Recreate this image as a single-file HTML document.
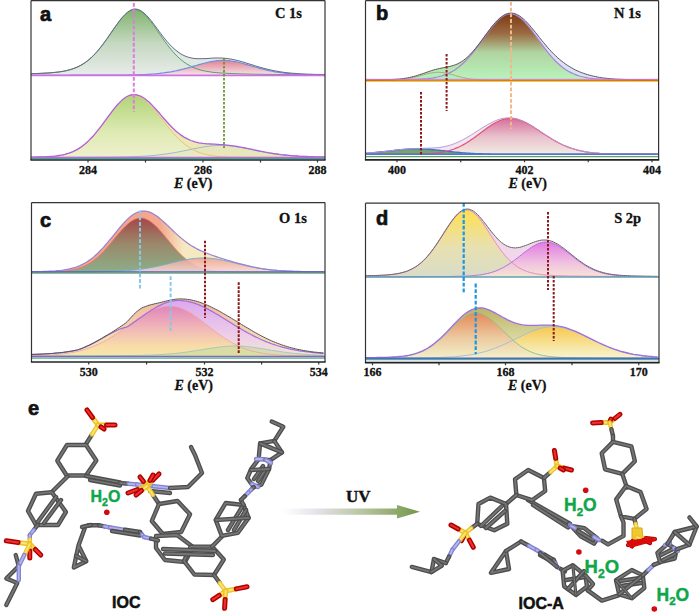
<!DOCTYPE html>
<html><head><meta charset="utf-8"><style>
html,body{margin:0;padding:0;background:#fff;width:700px;height:612px;overflow:hidden}
svg{display:block}
</style></head><body>
<svg width="700" height="612" viewBox="0 0 700 612">
<defs><linearGradient id="g1" x1="0" y1="0" x2="0" y2="1"><stop offset="0" stop-color="#80b46c"/><stop offset="0.5" stop-color="#c4d8c0"/><stop offset="1" stop-color="#e8ecea"/></linearGradient>
<linearGradient id="g2" x1="0" y1="0" x2="0" y2="1"><stop offset="0" stop-color="#e57488"/><stop offset="1" stop-color="#f7e6ec"/></linearGradient>
<linearGradient id="g3" x1="0" y1="0" x2="0" y2="1"><stop offset="0" stop-color="#b0d478"/><stop offset="0.6" stop-color="#dfeab4"/><stop offset="1" stop-color="#eef0cc"/></linearGradient>
<linearGradient id="g4" x1="0" y1="0" x2="0" y2="1"><stop offset="0" stop-color="#7c3a12"/><stop offset="0.3" stop-color="#9a6c44"/><stop offset="0.58" stop-color="#b0d4a0"/><stop offset="1" stop-color="#b8f4bc"/></linearGradient>
<linearGradient id="g5" x1="0" y1="0" x2="0" y2="1"><stop offset="0" stop-color="#d6709a"/><stop offset="0.5" stop-color="#e8c0cc"/><stop offset="1" stop-color="#f2ece2"/></linearGradient>
<linearGradient id="hx6" x1="0" y1="0" x2="1" y2="0"><stop offset="0" stop-color="#f3a08c"/><stop offset="0.44" stop-color="#f4a890"/><stop offset="0.52" stop-color="#f6e8c0"/><stop offset="1" stop-color="#f0f0c8"/></linearGradient>
<linearGradient id="g7" x1="0" y1="0" x2="0" y2="1"><stop offset="0" stop-color="#a44848"/><stop offset="0.5" stop-color="#9a8a6c"/><stop offset="1" stop-color="#8cae88"/></linearGradient>
<linearGradient id="g8" x1="0" y1="0" x2="0" y2="1"><stop offset="0" stop-color="#f2a090"/><stop offset="1" stop-color="#f6dada"/></linearGradient>
<linearGradient id="g9" x1="0" y1="0" x2="0" y2="1"><stop offset="0" stop-color="#f2b8a0"/><stop offset="1" stop-color="#f8e8c0"/></linearGradient>
<linearGradient id="g10" x1="0" y1="0" x2="0" y2="1"><stop offset="0" stop-color="#f6d8a0"/><stop offset="1" stop-color="#f8eab0"/></linearGradient>
<linearGradient id="g11" x1="0" y1="0" x2="0" y2="1"><stop offset="0" stop-color="#dca8ee"/><stop offset="0.6" stop-color="#eccce8"/><stop offset="1" stop-color="#f4e4d8"/></linearGradient>
<linearGradient id="g12" x1="0" y1="0" x2="0" y2="1"><stop offset="0" stop-color="#e286bc"/><stop offset="0.45" stop-color="#f0b8b8"/><stop offset="0.8" stop-color="#f8dca8"/><stop offset="1" stop-color="#f8e6a8"/></linearGradient>
<linearGradient id="g13" x1="0" y1="0" x2="0" y2="1"><stop offset="0" stop-color="#ffe050"/><stop offset="0.55" stop-color="#e8e0b0"/><stop offset="1" stop-color="#d8dcc8"/></linearGradient>
<linearGradient id="g14" x1="0" y1="0" x2="0" y2="1"><stop offset="0" stop-color="#e070e0"/><stop offset="0.6" stop-color="#f0c0e0"/><stop offset="1" stop-color="#f8e6d2"/></linearGradient>
<linearGradient id="g15" x1="0" y1="0" x2="0" y2="1"><stop offset="0" stop-color="#bcb464"/><stop offset="1" stop-color="#eef0c8"/></linearGradient>
<linearGradient id="g16" x1="0" y1="0" x2="0" y2="1"><stop offset="0" stop-color="#f8c850"/><stop offset="1" stop-color="#f6f6d0"/></linearGradient>
<linearGradient id="g17" x1="0" y1="0" x2="0" y2="1"><stop offset="0" stop-color="#e88454"/><stop offset="0.55" stop-color="#eec8a0"/><stop offset="1" stop-color="#f2f0c8"/></linearGradient>
<linearGradient id="arr" x1="0" y1="0" x2="1" y2="0"><stop offset="0" stop-color="#ffffff"/><stop offset="0.25" stop-color="#e6e2ea"/><stop offset="0.6" stop-color="#b4c49c"/><stop offset="1" stop-color="#729646"/></linearGradient></defs>
<path d="M31.0,73.7 33.0,73.6 35.0,73.6 37.0,73.5 39.0,73.4 41.0,73.3 43.0,73.2 45.0,73.1 47.0,73.0 49.0,72.9 51.0,72.7 53.0,72.5 55.0,72.3 57.0,72.1 59.0,71.9 61.0,71.6 63.0,71.2 65.0,70.9 67.0,70.4 69.0,69.9 71.0,69.3 73.0,68.7 75.0,67.9 77.0,67.1 79.0,66.2 81.0,65.1 83.0,63.9 85.0,62.6 87.0,61.1 89.0,59.5 91.0,57.8 93.0,55.8 95.0,53.8 97.0,51.6 99.0,49.2 101.0,46.7 103.0,44.1 105.0,41.4 107.0,38.6 109.0,35.7 111.0,32.8 113.0,29.9 115.0,27.0 117.0,24.2 119.0,21.4 121.0,18.9 123.0,16.5 125.0,14.4 127.0,12.6 129.0,11.1 131.0,10.0 133.0,9.3 135.0,9.0 137.0,9.2 139.0,9.8 141.0,10.8 143.0,12.2 145.0,13.9 147.0,15.9 149.0,18.1 151.0,20.5 153.0,23.1 155.0,25.7 157.0,28.4 159.0,31.2 161.0,33.8 163.0,36.5 165.0,39.0 167.0,41.4 169.0,43.7 171.0,45.8 173.0,47.8 175.0,49.6 177.0,51.2 179.0,52.7 181.0,54.0 183.0,55.1 185.0,56.0 187.0,56.8 189.0,57.4 191.0,57.9 193.0,58.3 195.0,58.5 197.0,58.7 199.0,58.7 201.0,58.7 203.0,58.7 205.0,58.6 207.0,58.5 209.0,58.4 211.0,58.2 213.0,58.1 215.0,58.0 217.0,58.0 219.0,58.0 221.0,58.0 223.0,58.1 225.0,58.3 227.0,58.5 229.0,58.8 231.0,59.1 233.0,59.5 235.0,59.9 237.0,60.4 239.0,60.9 241.0,61.5 243.0,62.0 245.0,62.6 247.0,63.3 249.0,63.9 251.0,64.5 253.0,65.1 255.0,65.8 257.0,66.4 259.0,67.0 261.0,67.5 263.0,68.1 265.0,68.6 267.0,69.1 269.0,69.6 271.0,70.1 273.0,70.5 275.0,70.9 277.0,71.2 279.0,71.6 281.0,71.9 283.0,72.2 285.0,72.5 287.0,72.7 289.0,72.9 291.0,73.1 293.0,73.3 295.0,73.4 297.0,73.6 299.0,73.7 301.0,73.8 303.0,73.9 305.0,74.0 307.0,74.1 309.0,74.2 311.0,74.2 313.0,74.3 315.0,74.4 317.0,74.4 319.0,74.4 321.0,74.5 323.0,74.5 325.0,74.5 325.0,75.4 31.0,75.4 Z" fill="#dde9e2" opacity="1"/>
<path d="M31.0,73.8 33.0,73.7 35.0,73.7 37.0,73.6 39.0,73.5 41.0,73.4 43.0,73.3 45.0,73.2 47.0,73.1 49.0,73.0 51.0,72.8 53.0,72.7 55.0,72.5 57.0,72.3 59.0,72.0 61.0,71.7 63.0,71.4 65.0,71.0 67.0,70.6 69.0,70.1 71.0,69.5 73.0,68.8 75.0,68.1 77.0,67.3 79.0,66.3 81.0,65.3 83.0,64.1 85.0,62.8 87.0,61.3 89.0,59.7 91.0,58.0 93.0,56.1 95.0,54.0 97.0,51.8 99.0,49.5 101.0,47.0 103.0,44.4 105.0,41.7 107.0,38.9 109.0,36.0 111.0,33.1 113.0,30.2 115.0,27.3 117.0,24.5 119.0,21.8 121.0,19.2 123.0,16.9 125.0,14.8 127.0,13.0 129.0,11.5 131.0,10.5 133.0,9.8 135.0,9.6 137.0,9.8 139.0,10.5 141.0,11.5 143.0,13.0 145.0,14.8 147.0,16.9 149.0,19.2 151.0,21.8 153.0,24.5 155.0,27.3 157.0,30.2 159.0,33.1 161.0,36.0 163.0,38.9 165.0,41.7 167.0,44.4 169.0,47.0 171.0,49.5 173.0,51.8 175.0,54.0 177.0,56.1 179.0,58.0 181.0,59.7 183.0,61.3 185.0,62.8 187.0,64.1 189.0,65.3 191.0,66.3 193.0,67.3 195.0,68.1 197.0,68.8 199.0,69.5 201.0,70.1 203.0,70.6 205.0,71.0 207.0,71.4 209.0,71.7 211.0,72.0 213.0,72.3 215.0,72.5 217.0,72.7 219.0,72.8 221.0,73.0 223.0,73.1 225.0,73.2 227.0,73.3 229.0,73.4 231.0,73.5 233.0,73.6 235.0,73.7 237.0,73.7 239.0,73.8 241.0,73.9 243.0,73.9 245.0,74.0 247.0,74.0 249.0,74.1 251.0,74.1 253.0,74.2 255.0,74.2 257.0,74.2 259.0,74.3 261.0,74.3 263.0,74.3 265.0,74.4 267.0,74.4 269.0,74.4 271.0,74.4 273.0,74.5 275.0,74.5 277.0,74.5 279.0,74.5 281.0,74.6 283.0,74.6 285.0,74.6 287.0,74.6 289.0,74.6 291.0,74.7 293.0,74.7 295.0,74.7 297.0,74.7 299.0,74.7 301.0,74.8 303.0,74.8 305.0,74.8 307.0,74.8 309.0,74.8 311.0,74.8 313.0,74.8 315.0,74.8 317.0,74.9 319.0,74.9 321.0,74.9 323.0,74.9 325.0,74.9 325.0,75.4 31.0,75.4 Z" fill="url(#g1)" opacity="1"/>
<path d="M31.0,75.3 33.0,75.3 35.0,75.3 37.0,75.3 39.0,75.3 41.0,75.3 43.0,75.3 45.0,75.3 47.0,75.3 49.0,75.3 51.0,75.3 53.0,75.3 55.0,75.3 57.0,75.3 59.0,75.3 61.0,75.3 63.0,75.3 65.0,75.3 67.0,75.3 69.0,75.3 71.0,75.2 73.0,75.2 75.0,75.2 77.0,75.2 79.0,75.2 81.0,75.2 83.0,75.2 85.0,75.2 87.0,75.2 89.0,75.2 91.0,75.2 93.0,75.2 95.0,75.2 97.0,75.2 99.0,75.2 101.0,75.2 103.0,75.2 105.0,75.1 107.0,75.1 109.0,75.1 111.0,75.1 113.0,75.1 115.0,75.1 117.0,75.1 119.0,75.1 121.0,75.0 123.0,75.0 125.0,75.0 127.0,75.0 129.0,74.9 131.0,74.9 133.0,74.9 135.0,74.8 137.0,74.8 139.0,74.7 141.0,74.6 143.0,74.6 145.0,74.5 147.0,74.4 149.0,74.3 151.0,74.1 153.0,74.0 155.0,73.8 157.0,73.7 159.0,73.5 161.0,73.2 163.0,73.0 165.0,72.7 167.0,72.4 169.0,72.1 171.0,71.8 173.0,71.4 175.0,71.0 177.0,70.6 179.0,70.1 181.0,69.7 183.0,69.2 185.0,68.6 187.0,68.1 189.0,67.5 191.0,67.0 193.0,66.4 195.0,65.8 197.0,65.2 199.0,64.6 201.0,64.1 203.0,63.5 205.0,63.0 207.0,62.5 209.0,62.0 211.0,61.6 213.0,61.3 215.0,61.0 217.0,60.7 219.0,60.5 221.0,60.4 223.0,60.4 225.0,60.4 227.0,60.5 229.0,60.7 231.0,61.0 233.0,61.3 235.0,61.6 237.0,62.0 239.0,62.5 241.0,63.0 243.0,63.5 245.0,64.1 247.0,64.6 249.0,65.2 251.0,65.8 253.0,66.4 255.0,67.0 257.0,67.5 259.0,68.1 261.0,68.6 263.0,69.2 265.0,69.7 267.0,70.1 269.0,70.6 271.0,71.0 273.0,71.4 275.0,71.8 277.0,72.1 279.0,72.4 281.0,72.7 283.0,73.0 285.0,73.2 287.0,73.5 289.0,73.7 291.0,73.8 293.0,74.0 295.0,74.1 297.0,74.3 299.0,74.4 301.0,74.5 303.0,74.6 305.0,74.6 307.0,74.7 309.0,74.8 311.0,74.8 313.0,74.9 315.0,74.9 317.0,74.9 319.0,75.0 321.0,75.0 323.0,75.0 325.0,75.0 325.0,75.4 31.0,75.4 Z" fill="url(#g2)" opacity="0.9"/>
<path d="M31.0,73.8 33.0,73.7 35.0,73.7 37.0,73.6 39.0,73.5 41.0,73.4 43.0,73.3 45.0,73.2 47.0,73.1 49.0,73.0 51.0,72.8 53.0,72.7 55.0,72.5 57.0,72.3 59.0,72.0 61.0,71.7 63.0,71.4 65.0,71.0 67.0,70.6 69.0,70.1 71.0,69.5 73.0,68.8 75.0,68.1 77.0,67.3 79.0,66.3 81.0,65.3 83.0,64.1 85.0,62.8 87.0,61.3 89.0,59.7 91.0,58.0 93.0,56.1 95.0,54.0 97.0,51.8 99.0,49.5 101.0,47.0 103.0,44.4 105.0,41.7 107.0,38.9 109.0,36.0 111.0,33.1 113.0,30.2 115.0,27.3 117.0,24.5 119.0,21.8 121.0,19.2 123.0,16.9 125.0,14.8 127.0,13.0 129.0,11.5 131.0,10.5 133.0,9.8 135.0,9.6 137.0,9.8 139.0,10.5 141.0,11.5 143.0,13.0 145.0,14.8 147.0,16.9 149.0,19.2 151.0,21.8 153.0,24.5 155.0,27.3 157.0,30.2 159.0,33.1 161.0,36.0 163.0,38.9 165.0,41.7 167.0,44.4 169.0,47.0 171.0,49.5 173.0,51.8 175.0,54.0 177.0,56.1 179.0,58.0 181.0,59.7 183.0,61.3 185.0,62.8 187.0,64.1 189.0,65.3 191.0,66.3 193.0,67.3 195.0,68.1 197.0,68.8 199.0,69.5 201.0,70.1 203.0,70.6 205.0,71.0 207.0,71.4 209.0,71.7 211.0,72.0 213.0,72.3 215.0,72.5 217.0,72.7 219.0,72.8 221.0,73.0 223.0,73.1 225.0,73.2 227.0,73.3 229.0,73.4 231.0,73.5 233.0,73.6 235.0,73.7 237.0,73.7 239.0,73.8 241.0,73.9 243.0,73.9 245.0,74.0 247.0,74.0 249.0,74.1 251.0,74.1 253.0,74.2 255.0,74.2 257.0,74.2 259.0,74.3 261.0,74.3 263.0,74.3 265.0,74.4 267.0,74.4 269.0,74.4 271.0,74.4 273.0,74.5 275.0,74.5 277.0,74.5 279.0,74.5 281.0,74.6 283.0,74.6 285.0,74.6 287.0,74.6 289.0,74.6 291.0,74.7 293.0,74.7 295.0,74.7 297.0,74.7 299.0,74.7 301.0,74.8 303.0,74.8 305.0,74.8 307.0,74.8 309.0,74.8 311.0,74.8 313.0,74.8 315.0,74.8 317.0,74.9 319.0,74.9 321.0,74.9 323.0,74.9 325.0,74.9" fill="none" stroke="#5aa070" stroke-width="1" opacity="1"/>
<path d="M31.0,75.3 33.0,75.3 35.0,75.3 37.0,75.3 39.0,75.3 41.0,75.3 43.0,75.3 45.0,75.3 47.0,75.3 49.0,75.3 51.0,75.3 53.0,75.3 55.0,75.3 57.0,75.3 59.0,75.3 61.0,75.3 63.0,75.3 65.0,75.3 67.0,75.3 69.0,75.3 71.0,75.2 73.0,75.2 75.0,75.2 77.0,75.2 79.0,75.2 81.0,75.2 83.0,75.2 85.0,75.2 87.0,75.2 89.0,75.2 91.0,75.2 93.0,75.2 95.0,75.2 97.0,75.2 99.0,75.2 101.0,75.2 103.0,75.2 105.0,75.1 107.0,75.1 109.0,75.1 111.0,75.1 113.0,75.1 115.0,75.1 117.0,75.1 119.0,75.1 121.0,75.0 123.0,75.0 125.0,75.0 127.0,75.0 129.0,74.9 131.0,74.9 133.0,74.9 135.0,74.8 137.0,74.8 139.0,74.7 141.0,74.6 143.0,74.6 145.0,74.5 147.0,74.4 149.0,74.3 151.0,74.1 153.0,74.0 155.0,73.8 157.0,73.7 159.0,73.5 161.0,73.2 163.0,73.0 165.0,72.7 167.0,72.4 169.0,72.1 171.0,71.8 173.0,71.4 175.0,71.0 177.0,70.6 179.0,70.1 181.0,69.7 183.0,69.2 185.0,68.6 187.0,68.1 189.0,67.5 191.0,67.0 193.0,66.4 195.0,65.8 197.0,65.2 199.0,64.6 201.0,64.1 203.0,63.5 205.0,63.0 207.0,62.5 209.0,62.0 211.0,61.6 213.0,61.3 215.0,61.0 217.0,60.7 219.0,60.5 221.0,60.4 223.0,60.4 225.0,60.4 227.0,60.5 229.0,60.7 231.0,61.0 233.0,61.3 235.0,61.6 237.0,62.0 239.0,62.5 241.0,63.0 243.0,63.5 245.0,64.1 247.0,64.6 249.0,65.2 251.0,65.8 253.0,66.4 255.0,67.0 257.0,67.5 259.0,68.1 261.0,68.6 263.0,69.2 265.0,69.7 267.0,70.1 269.0,70.6 271.0,71.0 273.0,71.4 275.0,71.8 277.0,72.1 279.0,72.4 281.0,72.7 283.0,73.0 285.0,73.2 287.0,73.5 289.0,73.7 291.0,73.8 293.0,74.0 295.0,74.1 297.0,74.3 299.0,74.4 301.0,74.5 303.0,74.6 305.0,74.6 307.0,74.7 309.0,74.8 311.0,74.8 313.0,74.9 315.0,74.9 317.0,74.9 319.0,75.0 321.0,75.0 323.0,75.0 325.0,75.0" fill="none" stroke="#6f8fe0" stroke-width="1.2" opacity="1"/>
<path d="M31.0,73.7 33.0,73.6 35.0,73.6 37.0,73.5 39.0,73.4 41.0,73.3 43.0,73.2 45.0,73.1 47.0,73.0 49.0,72.9 51.0,72.7 53.0,72.5 55.0,72.3 57.0,72.1 59.0,71.9 61.0,71.6 63.0,71.2 65.0,70.9 67.0,70.4 69.0,69.9 71.0,69.3 73.0,68.7 75.0,67.9 77.0,67.1 79.0,66.2 81.0,65.1 83.0,63.9 85.0,62.6 87.0,61.1 89.0,59.5 91.0,57.8 93.0,55.8 95.0,53.8 97.0,51.6 99.0,49.2 101.0,46.7 103.0,44.1 105.0,41.4 107.0,38.6 109.0,35.7 111.0,32.8 113.0,29.9 115.0,27.0 117.0,24.2 119.0,21.4 121.0,18.9 123.0,16.5 125.0,14.4 127.0,12.6 129.0,11.1 131.0,10.0 133.0,9.3 135.0,9.0 137.0,9.2 139.0,9.8 141.0,10.8 143.0,12.2 145.0,13.9 147.0,15.9 149.0,18.1 151.0,20.5 153.0,23.1 155.0,25.7 157.0,28.4 159.0,31.2 161.0,33.8 163.0,36.5 165.0,39.0 167.0,41.4 169.0,43.7 171.0,45.8 173.0,47.8 175.0,49.6 177.0,51.2 179.0,52.7 181.0,54.0 183.0,55.1 185.0,56.0 187.0,56.8 189.0,57.4 191.0,57.9 193.0,58.3 195.0,58.5 197.0,58.7 199.0,58.7 201.0,58.7 203.0,58.7 205.0,58.6 207.0,58.5 209.0,58.4 211.0,58.2 213.0,58.1 215.0,58.0 217.0,58.0 219.0,58.0 221.0,58.0 223.0,58.1 225.0,58.3 227.0,58.5 229.0,58.8 231.0,59.1 233.0,59.5 235.0,59.9 237.0,60.4 239.0,60.9 241.0,61.5 243.0,62.0 245.0,62.6 247.0,63.3 249.0,63.9 251.0,64.5 253.0,65.1 255.0,65.8 257.0,66.4 259.0,67.0 261.0,67.5 263.0,68.1 265.0,68.6 267.0,69.1 269.0,69.6 271.0,70.1 273.0,70.5 275.0,70.9 277.0,71.2 279.0,71.6 281.0,71.9 283.0,72.2 285.0,72.5 287.0,72.7 289.0,72.9 291.0,73.1 293.0,73.3 295.0,73.4 297.0,73.6 299.0,73.7 301.0,73.8 303.0,73.9 305.0,74.0 307.0,74.1 309.0,74.2 311.0,74.2 313.0,74.3 315.0,74.4 317.0,74.4 319.0,74.4 321.0,74.5 323.0,74.5 325.0,74.5" fill="none" stroke="#6a6a8a" stroke-width="1" opacity="1"/>
<line x1="31" y1="75.4" x2="325" y2="75.4" stroke="#d070e0" stroke-width="1.6" stroke-linecap="butt"/>
<path d="M31.0,157.1 33.0,157.1 35.0,157.1 37.0,157.0 39.0,157.0 41.0,156.9 43.0,156.9 45.0,156.8 47.0,156.7 49.0,156.6 51.0,156.4 53.0,156.3 55.0,156.1 57.0,155.8 59.0,155.5 61.0,155.2 63.0,154.8 65.0,154.3 67.0,153.7 69.0,153.1 71.0,152.4 73.0,151.6 75.0,150.6 77.0,149.6 79.0,148.4 81.0,147.1 83.0,145.6 85.0,144.0 87.0,142.2 89.0,140.4 91.0,138.3 93.0,136.2 95.0,133.9 97.0,131.4 99.0,128.9 101.0,126.3 103.0,123.6 105.0,120.9 107.0,118.2 109.0,115.4 111.0,112.8 113.0,110.1 115.0,107.6 117.0,105.3 119.0,103.1 121.0,101.1 123.0,99.3 125.0,97.8 127.0,96.5 129.0,95.6 131.0,95.0 133.0,94.7 135.0,94.7 137.0,95.0 139.0,95.5 141.0,96.4 143.0,97.5 145.0,98.8 147.0,100.4 149.0,102.1 151.0,104.0 153.0,106.1 155.0,108.2 157.0,110.5 159.0,112.8 161.0,115.1 163.0,117.5 165.0,119.8 167.0,122.0 169.0,124.2 171.0,126.3 173.0,128.3 175.0,130.2 177.0,132.0 179.0,133.6 181.0,135.1 183.0,136.4 185.0,137.7 187.0,138.7 189.0,139.7 191.0,140.5 193.0,141.2 195.0,141.8 197.0,142.3 199.0,142.8 201.0,143.1 203.0,143.4 205.0,143.6 207.0,143.8 209.0,143.9 211.0,144.0 213.0,144.1 215.0,144.2 217.0,144.3 219.0,144.5 221.0,144.6 223.0,144.7 225.0,144.9 227.0,145.1 229.0,145.3 231.0,145.6 233.0,145.9 235.0,146.2 237.0,146.5 239.0,146.9 241.0,147.2 243.0,147.6 245.0,148.0 247.0,148.4 249.0,148.8 251.0,149.2 253.0,149.7 255.0,150.1 257.0,150.5 259.0,150.9 261.0,151.3 263.0,151.7 265.0,152.1 267.0,152.4 269.0,152.8 271.0,153.1 273.0,153.5 275.0,153.8 277.0,154.0 279.0,154.3 281.0,154.6 283.0,154.8 285.0,155.0 287.0,155.2 289.0,155.4 291.0,155.6 293.0,155.8 295.0,155.9 297.0,156.0 299.0,156.2 301.0,156.3 303.0,156.4 305.0,156.5 307.0,156.5 309.0,156.6 311.0,156.7 313.0,156.7 315.0,156.8 317.0,156.8 319.0,156.9 321.0,156.9 323.0,156.9 325.0,157.0 325.0,157.4 31.0,157.4 Z" fill="#ece8b4" opacity="1"/>
<path d="M31.0,157.2 33.0,157.2 35.0,157.2 37.0,157.1 39.0,157.1 41.0,157.1 43.0,157.0 45.0,156.9 47.0,156.8 49.0,156.7 51.0,156.6 53.0,156.4 55.0,156.2 57.0,155.9 59.0,155.7 61.0,155.3 63.0,154.9 65.0,154.4 67.0,153.9 69.0,153.3 71.0,152.5 73.0,151.7 75.0,150.8 77.0,149.7 79.0,148.5 81.0,147.2 83.0,145.8 85.0,144.2 87.0,142.4 89.0,140.6 91.0,138.5 93.0,136.4 95.0,134.1 97.0,131.7 99.0,129.2 101.0,126.6 103.0,123.9 105.0,121.2 107.0,118.5 109.0,115.8 111.0,113.1 113.0,110.5 115.0,108.0 117.0,105.7 119.0,103.5 121.0,101.5 123.0,99.8 125.0,98.3 127.0,97.1 129.0,96.2 131.0,95.7 133.0,95.4 135.0,95.5 137.0,95.9 139.0,96.5 141.0,97.5 143.0,98.7 145.0,100.1 147.0,101.8 149.0,103.7 151.0,105.8 153.0,108.0 155.0,110.4 157.0,112.8 159.0,115.3 161.0,117.9 163.0,120.5 165.0,123.0 167.0,125.6 169.0,128.1 171.0,130.5 173.0,132.8 175.0,135.1 177.0,137.2 179.0,139.2 181.0,141.1 183.0,142.8 185.0,144.5 187.0,146.0 189.0,147.3 191.0,148.6 193.0,149.7 195.0,150.7 197.0,151.6 199.0,152.4 201.0,153.1 203.0,153.7 205.0,154.3 207.0,154.7 209.0,155.1 211.0,155.5 213.0,155.8 215.0,156.0 217.0,156.3 219.0,156.4 221.0,156.6 223.0,156.7 225.0,156.8 227.0,156.9 229.0,157.0 231.0,157.1 233.0,157.1 235.0,157.1 237.0,157.2 239.0,157.2 241.0,157.2 243.0,157.2 245.0,157.3 247.0,157.3 249.0,157.3 251.0,157.3 253.0,157.3 255.0,157.3 257.0,157.3 259.0,157.3 261.0,157.3 263.0,157.3 265.0,157.3 267.0,157.3 269.0,157.3 271.0,157.3 273.0,157.3 275.0,157.3 277.0,157.3 279.0,157.3 281.0,157.3 283.0,157.3 285.0,157.3 287.0,157.3 289.0,157.3 291.0,157.3 293.0,157.3 295.0,157.3 297.0,157.3 299.0,157.3 301.0,157.4 303.0,157.4 305.0,157.4 307.0,157.4 309.0,157.4 311.0,157.4 313.0,157.4 315.0,157.4 317.0,157.4 319.0,157.4 321.0,157.4 323.0,157.4 325.0,157.4 325.0,157.4 31.0,157.4 Z" fill="url(#g3)" opacity="1"/>
<path d="M31.0,157.3 33.0,157.3 35.0,157.3 37.0,157.3 39.0,157.3 41.0,157.3 43.0,157.3 45.0,157.3 47.0,157.3 49.0,157.3 51.0,157.3 53.0,157.3 55.0,157.3 57.0,157.3 59.0,157.3 61.0,157.3 63.0,157.3 65.0,157.3 67.0,157.2 69.0,157.2 71.0,157.2 73.0,157.2 75.0,157.2 77.0,157.2 79.0,157.2 81.0,157.2 83.0,157.2 85.0,157.2 87.0,157.2 89.0,157.2 91.0,157.2 93.0,157.2 95.0,157.2 97.0,157.2 99.0,157.2 101.0,157.1 103.0,157.1 105.0,157.1 107.0,157.1 109.0,157.1 111.0,157.1 113.0,157.0 115.0,157.0 117.0,157.0 119.0,157.0 121.0,156.9 123.0,156.9 125.0,156.9 127.0,156.8 129.0,156.8 131.0,156.7 133.0,156.7 135.0,156.6 137.0,156.5 139.0,156.4 141.0,156.3 143.0,156.2 145.0,156.1 147.0,156.0 149.0,155.8 151.0,155.7 153.0,155.5 155.0,155.3 157.0,155.1 159.0,154.9 161.0,154.6 163.0,154.4 165.0,154.1 167.0,153.8 169.0,153.5 171.0,153.2 173.0,152.9 175.0,152.5 177.0,152.2 179.0,151.8 181.0,151.4 183.0,151.0 185.0,150.6 187.0,150.2 189.0,149.8 191.0,149.4 193.0,148.9 195.0,148.5 197.0,148.2 199.0,147.8 201.0,147.4 203.0,147.1 205.0,146.7 207.0,146.4 209.0,146.2 211.0,145.9 213.0,145.8 215.0,145.6 217.0,145.5 219.0,145.4 221.0,145.4 223.0,145.4 225.0,145.5 227.0,145.6 229.0,145.8 231.0,145.9 233.0,146.2 235.0,146.4 237.0,146.7 239.0,147.1 241.0,147.4 243.0,147.8 245.0,148.2 247.0,148.5 249.0,148.9 251.0,149.4 253.0,149.8 255.0,150.2 257.0,150.6 259.0,151.0 261.0,151.4 263.0,151.8 265.0,152.2 267.0,152.5 269.0,152.9 271.0,153.2 273.0,153.5 275.0,153.8 277.0,154.1 279.0,154.4 281.0,154.6 283.0,154.9 285.0,155.1 287.0,155.3 289.0,155.5 291.0,155.7 293.0,155.8 295.0,156.0 297.0,156.1 299.0,156.2 301.0,156.3 303.0,156.4 305.0,156.5 307.0,156.6 309.0,156.7 311.0,156.7 313.0,156.8 315.0,156.8 317.0,156.9 319.0,156.9 321.0,156.9 323.0,157.0 325.0,157.0 325.0,157.4 31.0,157.4 Z" fill="#e4e6c0" opacity="0.6"/>
<path d="M31.0,157.3 33.0,157.3 35.0,157.3 37.0,157.3 39.0,157.3 41.0,157.3 43.0,157.3 45.0,157.3 47.0,157.3 49.0,157.3 51.0,157.3 53.0,157.3 55.0,157.3 57.0,157.3 59.0,157.3 61.0,157.3 63.0,157.3 65.0,157.3 67.0,157.2 69.0,157.2 71.0,157.2 73.0,157.2 75.0,157.2 77.0,157.2 79.0,157.2 81.0,157.2 83.0,157.2 85.0,157.2 87.0,157.2 89.0,157.2 91.0,157.2 93.0,157.2 95.0,157.2 97.0,157.2 99.0,157.2 101.0,157.1 103.0,157.1 105.0,157.1 107.0,157.1 109.0,157.1 111.0,157.1 113.0,157.0 115.0,157.0 117.0,157.0 119.0,157.0 121.0,156.9 123.0,156.9 125.0,156.9 127.0,156.8 129.0,156.8 131.0,156.7 133.0,156.7 135.0,156.6 137.0,156.5 139.0,156.4 141.0,156.3 143.0,156.2 145.0,156.1 147.0,156.0 149.0,155.8 151.0,155.7 153.0,155.5 155.0,155.3 157.0,155.1 159.0,154.9 161.0,154.6 163.0,154.4 165.0,154.1 167.0,153.8 169.0,153.5 171.0,153.2 173.0,152.9 175.0,152.5 177.0,152.2 179.0,151.8 181.0,151.4 183.0,151.0 185.0,150.6 187.0,150.2 189.0,149.8 191.0,149.4 193.0,148.9 195.0,148.5 197.0,148.2 199.0,147.8 201.0,147.4 203.0,147.1 205.0,146.7 207.0,146.4 209.0,146.2 211.0,145.9 213.0,145.8 215.0,145.6 217.0,145.5 219.0,145.4 221.0,145.4 223.0,145.4 225.0,145.5 227.0,145.6 229.0,145.8 231.0,145.9 233.0,146.2 235.0,146.4 237.0,146.7 239.0,147.1 241.0,147.4 243.0,147.8 245.0,148.2 247.0,148.5 249.0,148.9 251.0,149.4 253.0,149.8 255.0,150.2 257.0,150.6 259.0,151.0 261.0,151.4 263.0,151.8 265.0,152.2 267.0,152.5 269.0,152.9 271.0,153.2 273.0,153.5 275.0,153.8 277.0,154.1 279.0,154.4 281.0,154.6 283.0,154.9 285.0,155.1 287.0,155.3 289.0,155.5 291.0,155.7 293.0,155.8 295.0,156.0 297.0,156.1 299.0,156.2 301.0,156.3 303.0,156.4 305.0,156.5 307.0,156.6 309.0,156.7 311.0,156.7 313.0,156.8 315.0,156.8 317.0,156.9 319.0,156.9 321.0,156.9 323.0,157.0 325.0,157.0" fill="none" stroke="#a0b8d8" stroke-width="1" opacity="1"/>
<path d="M31.0,157.2 33.0,157.2 35.0,157.2 37.0,157.1 39.0,157.1 41.0,157.1 43.0,157.0 45.0,156.9 47.0,156.8 49.0,156.7 51.0,156.6 53.0,156.4 55.0,156.2 57.0,155.9 59.0,155.7 61.0,155.3 63.0,154.9 65.0,154.4 67.0,153.9 69.0,153.3 71.0,152.5 73.0,151.7 75.0,150.8 77.0,149.7 79.0,148.5 81.0,147.2 83.0,145.8 85.0,144.2 87.0,142.4 89.0,140.6 91.0,138.5 93.0,136.4 95.0,134.1 97.0,131.7 99.0,129.2 101.0,126.6 103.0,123.9 105.0,121.2 107.0,118.5 109.0,115.8 111.0,113.1 113.0,110.5 115.0,108.0 117.0,105.7 119.0,103.5 121.0,101.5 123.0,99.8 125.0,98.3 127.0,97.1 129.0,96.2 131.0,95.7 133.0,95.4 135.0,95.5 137.0,95.9 139.0,96.5 141.0,97.5 143.0,98.7 145.0,100.1 147.0,101.8 149.0,103.7 151.0,105.8 153.0,108.0 155.0,110.4 157.0,112.8 159.0,115.3 161.0,117.9 163.0,120.5 165.0,123.0 167.0,125.6 169.0,128.1 171.0,130.5 173.0,132.8 175.0,135.1 177.0,137.2 179.0,139.2 181.0,141.1 183.0,142.8 185.0,144.5 187.0,146.0 189.0,147.3 191.0,148.6 193.0,149.7 195.0,150.7 197.0,151.6 199.0,152.4 201.0,153.1 203.0,153.7 205.0,154.3 207.0,154.7 209.0,155.1 211.0,155.5 213.0,155.8 215.0,156.0 217.0,156.3 219.0,156.4 221.0,156.6 223.0,156.7 225.0,156.8 227.0,156.9 229.0,157.0 231.0,157.1 233.0,157.1 235.0,157.1 237.0,157.2 239.0,157.2 241.0,157.2 243.0,157.2 245.0,157.3 247.0,157.3 249.0,157.3 251.0,157.3 253.0,157.3 255.0,157.3 257.0,157.3 259.0,157.3 261.0,157.3 263.0,157.3 265.0,157.3 267.0,157.3 269.0,157.3 271.0,157.3 273.0,157.3 275.0,157.3 277.0,157.3 279.0,157.3 281.0,157.3 283.0,157.3 285.0,157.3 287.0,157.3 289.0,157.3 291.0,157.3 293.0,157.3 295.0,157.3 297.0,157.3 299.0,157.3 301.0,157.4 303.0,157.4 305.0,157.4 307.0,157.4 309.0,157.4 311.0,157.4 313.0,157.4 315.0,157.4 317.0,157.4 319.0,157.4 321.0,157.4 323.0,157.4 325.0,157.4" fill="none" stroke="#f0c080" stroke-width="1" opacity="1"/>
<path d="M31.0,157.1 33.0,157.1 35.0,157.1 37.0,157.0 39.0,157.0 41.0,156.9 43.0,156.9 45.0,156.8 47.0,156.7 49.0,156.6 51.0,156.4 53.0,156.3 55.0,156.1 57.0,155.8 59.0,155.5 61.0,155.2 63.0,154.8 65.0,154.3 67.0,153.7 69.0,153.1 71.0,152.4 73.0,151.6 75.0,150.6 77.0,149.6 79.0,148.4 81.0,147.1 83.0,145.6 85.0,144.0 87.0,142.2 89.0,140.4 91.0,138.3 93.0,136.2 95.0,133.9 97.0,131.4 99.0,128.9 101.0,126.3 103.0,123.6 105.0,120.9 107.0,118.2 109.0,115.4 111.0,112.8 113.0,110.1 115.0,107.6 117.0,105.3 119.0,103.1 121.0,101.1 123.0,99.3 125.0,97.8 127.0,96.5 129.0,95.6 131.0,95.0 133.0,94.7 135.0,94.7 137.0,95.0 139.0,95.5 141.0,96.4 143.0,97.5 145.0,98.8 147.0,100.4 149.0,102.1 151.0,104.0 153.0,106.1 155.0,108.2 157.0,110.5 159.0,112.8 161.0,115.1 163.0,117.5 165.0,119.8 167.0,122.0 169.0,124.2 171.0,126.3 173.0,128.3 175.0,130.2 177.0,132.0 179.0,133.6 181.0,135.1 183.0,136.4 185.0,137.7 187.0,138.7 189.0,139.7 191.0,140.5 193.0,141.2 195.0,141.8 197.0,142.3 199.0,142.8 201.0,143.1 203.0,143.4 205.0,143.6 207.0,143.8 209.0,143.9 211.0,144.0 213.0,144.1 215.0,144.2 217.0,144.3 219.0,144.5 221.0,144.6 223.0,144.7 225.0,144.9 227.0,145.1 229.0,145.3 231.0,145.6 233.0,145.9 235.0,146.2 237.0,146.5 239.0,146.9 241.0,147.2 243.0,147.6 245.0,148.0 247.0,148.4 249.0,148.8 251.0,149.2 253.0,149.7 255.0,150.1 257.0,150.5 259.0,150.9 261.0,151.3 263.0,151.7 265.0,152.1 267.0,152.4 269.0,152.8 271.0,153.1 273.0,153.5 275.0,153.8 277.0,154.0 279.0,154.3 281.0,154.6 283.0,154.8 285.0,155.0 287.0,155.2 289.0,155.4 291.0,155.6 293.0,155.8 295.0,155.9 297.0,156.0 299.0,156.2 301.0,156.3 303.0,156.4 305.0,156.5 307.0,156.5 309.0,156.6 311.0,156.7 313.0,156.7 315.0,156.8 317.0,156.8 319.0,156.9 321.0,156.9 323.0,156.9 325.0,157.0" fill="none" stroke="#b060d8" stroke-width="1.3" opacity="1"/>
<line x1="31" y1="157.4" x2="325" y2="157.4" stroke="#b070d8" stroke-width="1.2" stroke-linecap="butt"/>
<line x1="31" y1="158.6" x2="325" y2="158.6" stroke="#4aa0a0" stroke-width="1.1" stroke-linecap="butt"/>
<line x1="133.8" y1="2.9" x2="133.8" y2="112" stroke="#e07ae0" stroke-width="2" stroke-dasharray="3.8,1.9" stroke-linecap="butt"/>
<line x1="224" y1="58" x2="224" y2="148" stroke="#6a9030" stroke-width="1.7" stroke-dasharray="2.5,1.5" stroke-linecap="butt"/>
<line x1="31" y1="0.6" x2="325" y2="0.6" stroke="#333" stroke-width="1.2" stroke-linecap="butt"/>
<line x1="31" y1="0.6" x2="31" y2="160" stroke="#333" stroke-width="1.2" stroke-linecap="butt"/>
<line x1="325" y1="0.6" x2="325" y2="160" stroke="#333" stroke-width="1.2" stroke-linecap="butt"/>
<line x1="30.4" y1="160" x2="325.6" y2="160" stroke="#222" stroke-width="1.7" stroke-linecap="butt"/>
<line x1="88" y1="160" x2="88" y2="162.5" stroke="#333" stroke-width="1.2" stroke-linecap="butt"/>
<line x1="203" y1="160" x2="203" y2="162.5" stroke="#333" stroke-width="1.2" stroke-linecap="butt"/>
<line x1="317.5" y1="160" x2="317.5" y2="162.5" stroke="#333" stroke-width="1.2" stroke-linecap="butt"/>
<line x1="145.5" y1="160" x2="145.5" y2="162.5" stroke="#333" stroke-width="1.2" stroke-linecap="butt"/>
<line x1="260.5" y1="160" x2="260.5" y2="162.5" stroke="#333" stroke-width="1.2" stroke-linecap="butt"/>
<text x="88" y="173.8" font-family="Liberation Serif" font-size="12" font-weight="bold" text-anchor="middle" fill="#111" font-style="normal" stroke="#111" stroke-width="0.3">284</text>
<text x="203" y="173.8" font-family="Liberation Serif" font-size="12" font-weight="bold" text-anchor="middle" fill="#111" font-style="normal" stroke="#111" stroke-width="0.3">286</text>
<text x="317.5" y="173.8" font-family="Liberation Serif" font-size="12" font-weight="bold" text-anchor="middle" fill="#111" font-style="normal" stroke="#111" stroke-width="0.3">288</text>
<text x="174" y="187.5" font-family="Liberation Serif" font-size="14" font-weight="bold" fill="#111" stroke="#111" stroke-width="0.3"><tspan font-style="italic">E</tspan> (eV)</text>
<text x="40" y="21" font-family="Liberation Sans" font-size="20" font-weight="bold" text-anchor="start" fill="#111" font-style="normal" stroke="#111" stroke-width="0.7">a</text>
<text x="302" y="18.2" font-family="Liberation Serif" font-size="14.5" font-weight="bold" text-anchor="end" fill="#111" font-style="normal" stroke="#111" stroke-width="0.3">C 1s</text>
<path d="M365.5,79.9 367.5,79.9 369.5,79.9 371.5,79.9 373.5,79.8 375.5,79.8 377.5,79.8 379.5,79.8 381.5,79.7 383.5,79.7 385.5,79.7 387.5,79.6 389.5,79.6 391.5,79.5 393.5,79.4 395.5,79.3 397.5,79.1 399.5,79.0 401.5,78.8 403.5,78.5 405.5,78.2 407.5,77.9 409.5,77.5 411.5,77.0 413.5,76.5 415.5,76.0 417.5,75.4 419.5,74.7 421.5,74.1 423.5,73.4 425.5,72.7 427.5,72.0 429.5,71.3 431.5,70.6 433.5,70.0 435.5,69.5 437.5,69.0 439.5,68.5 441.5,68.1 443.5,67.7 445.5,67.4 447.5,67.0 449.5,66.5 451.5,66.0 453.5,65.4 455.5,64.7 457.5,63.9 459.5,62.8 461.5,61.7 463.5,60.3 465.5,58.7 467.5,57.0 469.5,55.1 471.5,53.0 473.5,50.8 475.5,48.4 477.5,45.9 479.5,43.3 481.5,40.6 483.5,37.9 485.5,35.1 487.5,32.4 489.5,29.8 491.5,27.2 493.5,24.7 495.5,22.4 497.5,20.3 499.5,18.4 501.5,16.8 503.5,15.4 505.5,14.3 507.5,13.6 509.5,13.2 511.5,13.1 513.5,13.3 515.5,13.9 517.5,14.8 519.5,15.9 521.5,17.4 523.5,19.0 525.5,20.9 527.5,23.0 529.5,25.2 531.5,27.6 533.5,30.0 535.5,32.5 537.5,35.0 539.5,37.6 541.5,40.1 543.5,42.5 545.5,44.9 547.5,47.3 549.5,49.5 551.5,51.7 553.5,53.8 555.5,55.7 557.5,57.6 559.5,59.3 561.5,61.0 563.5,62.5 565.5,64.0 567.5,65.4 569.5,66.6 571.5,67.8 573.5,68.9 575.5,70.0 577.5,70.9 579.5,71.8 581.5,72.6 583.5,73.3 585.5,74.0 587.5,74.6 589.5,75.2 591.5,75.7 593.5,76.2 595.5,76.6 597.5,77.0 599.5,77.4 601.5,77.7 603.5,78.0 605.5,78.2 607.5,78.4 609.5,78.6 611.5,78.8 613.5,78.9 615.5,79.1 617.5,79.2 619.5,79.3 621.5,79.3 623.5,79.4 625.5,79.5 627.5,79.5 629.5,79.6 631.5,79.6 633.5,79.7 635.5,79.7 637.5,79.7 639.5,79.8 641.5,79.8 643.5,79.8 645.5,79.8 647.5,79.8 649.5,79.8 651.5,79.9 653.5,79.9 655.5,79.9 657.5,79.9 657.5,80.3 365.5,80.3 Z" fill="#d8e4f6" opacity="1"/>
<path d="M365.5,79.9 367.5,79.9 369.5,79.9 371.5,79.9 373.5,79.9 375.5,79.8 377.5,79.8 379.5,79.8 381.5,79.8 383.5,79.7 385.5,79.7 387.5,79.6 389.5,79.6 391.5,79.5 393.5,79.4 395.5,79.3 397.5,79.2 399.5,79.0 401.5,78.8 403.5,78.5 405.5,78.3 407.5,77.9 409.5,77.5 411.5,77.1 413.5,76.6 415.5,76.0 417.5,75.4 419.5,74.8 421.5,74.1 423.5,73.4 425.5,72.7 427.5,72.0 429.5,71.3 431.5,70.7 433.5,70.1 435.5,69.5 437.5,69.0 439.5,68.6 441.5,68.2 443.5,67.8 445.5,67.4 447.5,67.0 449.5,66.6 451.5,66.1 453.5,65.5 455.5,64.8 457.5,63.9 459.5,62.9 461.5,61.7 463.5,60.4 465.5,58.8 467.5,57.1 469.5,55.2 471.5,53.1 473.5,50.9 475.5,48.5 477.5,46.0 479.5,43.4 481.5,40.7 483.5,38.0 485.5,35.3 487.5,32.6 489.5,29.9 491.5,27.4 493.5,24.9 495.5,22.7 497.5,20.6 499.5,18.7 501.5,17.1 503.5,15.8 505.5,14.8 507.5,14.1 509.5,13.8 511.5,13.8 513.5,14.1 515.5,14.8 517.5,15.8 519.5,17.2 521.5,18.8 523.5,20.6 525.5,22.7 527.5,25.0 529.5,27.5 531.5,30.1 533.5,32.7 535.5,35.5 537.5,38.3 539.5,41.1 541.5,43.9 543.5,46.6 545.5,49.3 547.5,51.8 549.5,54.3 551.5,56.7 553.5,58.9 555.5,61.0 557.5,63.0 559.5,64.8 561.5,66.5 563.5,68.0 565.5,69.4 567.5,70.7 569.5,71.9 571.5,72.9 573.5,73.8 575.5,74.6 577.5,75.3 579.5,76.0 581.5,76.5 583.5,77.0 585.5,77.4 587.5,77.8 589.5,78.1 591.5,78.3 593.5,78.6 595.5,78.7 597.5,78.9 599.5,79.0 601.5,79.2 603.5,79.3 605.5,79.3 607.5,79.4 609.5,79.5 611.5,79.5 613.5,79.6 615.5,79.6 617.5,79.7 619.5,79.7 621.5,79.7 623.5,79.7 625.5,79.8 627.5,79.8 629.5,79.8 631.5,79.8 633.5,79.8 635.5,79.8 637.5,79.9 639.5,79.9 641.5,79.9 643.5,79.9 645.5,79.9 647.5,79.9 649.5,79.9 651.5,79.9 653.5,80.0 655.5,80.0 657.5,80.0 657.5,80.3 365.5,80.3 Z" fill="url(#g4)" opacity="1"/>
<path d="M365.5,80.2 367.5,80.2 369.5,80.2 371.5,80.2 373.5,80.2 375.5,80.2 377.5,80.2 379.5,80.2 381.5,80.2 383.5,80.2 385.5,80.1 387.5,80.1 389.5,80.1 391.5,80.0 393.5,79.9 395.5,79.8 397.5,79.7 399.5,79.6 401.5,79.4 403.5,79.2 405.5,78.9 407.5,78.6 409.5,78.3 411.5,77.9 413.5,77.4 415.5,76.9 417.5,76.4 419.5,75.9 421.5,75.3 423.5,74.8 425.5,74.2 427.5,73.7 429.5,73.3 431.5,72.9 433.5,72.6 435.5,72.4 437.5,72.3 439.5,72.3 441.5,72.5 443.5,72.7 445.5,73.1 447.5,73.5 449.5,74.0 451.5,74.5 453.5,75.0 455.5,75.6 457.5,76.2 459.5,76.7 461.5,77.2 463.5,77.7 465.5,78.1 467.5,78.5 469.5,78.8 471.5,79.1 473.5,79.3 475.5,79.5 477.5,79.7 479.5,79.8 481.5,79.9 483.5,80.0 485.5,80.0 487.5,80.1 489.5,80.1 491.5,80.2 493.5,80.2 495.5,80.2 497.5,80.2 499.5,80.2 501.5,80.2 503.5,80.2 505.5,80.2 507.5,80.2 509.5,80.2 511.5,80.2 513.5,80.2 515.5,80.2 517.5,80.3 519.5,80.3 521.5,80.3 523.5,80.3 525.5,80.3 527.5,80.3 529.5,80.3 531.5,80.3 533.5,80.3 535.5,80.3 537.5,80.3 539.5,80.3 541.5,80.3 543.5,80.3 545.5,80.3 547.5,80.3 549.5,80.3 551.5,80.3 553.5,80.3 555.5,80.3 557.5,80.3 559.5,80.3 561.5,80.3 563.5,80.3 565.5,80.3 567.5,80.3 569.5,80.3 571.5,80.3 573.5,80.3 575.5,80.3 577.5,80.3 579.5,80.3 581.5,80.3 583.5,80.3 585.5,80.3 587.5,80.3 589.5,80.3 591.5,80.3 593.5,80.3 595.5,80.3 597.5,80.3 599.5,80.3 601.5,80.3 603.5,80.3 605.5,80.3 607.5,80.3 609.5,80.3 611.5,80.3 613.5,80.3 615.5,80.3 617.5,80.3 619.5,80.3 621.5,80.3 623.5,80.3 625.5,80.3 627.5,80.3 629.5,80.3 631.5,80.3 633.5,80.3 635.5,80.3 637.5,80.3 639.5,80.3 641.5,80.3 643.5,80.3 645.5,80.3 647.5,80.3 649.5,80.3 651.5,80.3 653.5,80.3 655.5,80.3 657.5,80.3 657.5,80.3 365.5,80.3 Z" fill="#a8f0c0" opacity="0.8"/>
<path d="M365.5,80.2 367.5,80.2 369.5,80.2 371.5,80.2 373.5,80.2 375.5,80.2 377.5,80.2 379.5,80.2 381.5,80.2 383.5,80.2 385.5,80.1 387.5,80.1 389.5,80.1 391.5,80.0 393.5,79.9 395.5,79.8 397.5,79.7 399.5,79.6 401.5,79.4 403.5,79.2 405.5,78.9 407.5,78.6 409.5,78.3 411.5,77.9 413.5,77.4 415.5,76.9 417.5,76.4 419.5,75.9 421.5,75.3 423.5,74.8 425.5,74.2 427.5,73.7 429.5,73.3 431.5,72.9 433.5,72.6 435.5,72.4 437.5,72.3 439.5,72.3 441.5,72.5 443.5,72.7 445.5,73.1 447.5,73.5 449.5,74.0 451.5,74.5 453.5,75.0 455.5,75.6 457.5,76.2 459.5,76.7 461.5,77.2 463.5,77.7 465.5,78.1 467.5,78.5 469.5,78.8 471.5,79.1 473.5,79.3 475.5,79.5 477.5,79.7 479.5,79.8 481.5,79.9 483.5,80.0 485.5,80.0 487.5,80.1 489.5,80.1 491.5,80.2 493.5,80.2 495.5,80.2 497.5,80.2 499.5,80.2 501.5,80.2 503.5,80.2 505.5,80.2 507.5,80.2 509.5,80.2 511.5,80.2 513.5,80.2 515.5,80.2 517.5,80.3 519.5,80.3 521.5,80.3 523.5,80.3 525.5,80.3 527.5,80.3 529.5,80.3 531.5,80.3 533.5,80.3 535.5,80.3 537.5,80.3 539.5,80.3 541.5,80.3 543.5,80.3 545.5,80.3 547.5,80.3 549.5,80.3 551.5,80.3 553.5,80.3 555.5,80.3 557.5,80.3 559.5,80.3 561.5,80.3 563.5,80.3 565.5,80.3 567.5,80.3 569.5,80.3 571.5,80.3 573.5,80.3 575.5,80.3 577.5,80.3 579.5,80.3 581.5,80.3 583.5,80.3 585.5,80.3 587.5,80.3 589.5,80.3 591.5,80.3 593.5,80.3 595.5,80.3 597.5,80.3 599.5,80.3 601.5,80.3 603.5,80.3 605.5,80.3 607.5,80.3 609.5,80.3 611.5,80.3 613.5,80.3 615.5,80.3 617.5,80.3 619.5,80.3 621.5,80.3 623.5,80.3 625.5,80.3 627.5,80.3 629.5,80.3 631.5,80.3 633.5,80.3 635.5,80.3 637.5,80.3 639.5,80.3 641.5,80.3 643.5,80.3 645.5,80.3 647.5,80.3 649.5,80.3 651.5,80.3 653.5,80.3 655.5,80.3 657.5,80.3" fill="none" stroke="#c0a070" stroke-width="1" opacity="1"/>
<path d="M365.5,80.0 367.5,80.0 369.5,79.9 371.5,79.9 373.5,79.9 375.5,79.9 377.5,79.9 379.5,79.9 381.5,79.9 383.5,79.9 385.5,79.9 387.5,79.8 389.5,79.8 391.5,79.8 393.5,79.8 395.5,79.8 397.5,79.7 399.5,79.7 401.5,79.7 403.5,79.7 405.5,79.6 407.5,79.6 409.5,79.5 411.5,79.5 413.5,79.4 415.5,79.4 417.5,79.3 419.5,79.2 421.5,79.1 423.5,78.9 425.5,78.8 427.5,78.6 429.5,78.3 431.5,78.1 433.5,77.8 435.5,77.4 437.5,77.0 439.5,76.5 441.5,76.0 443.5,75.4 445.5,74.6 447.5,73.8 449.5,72.9 451.5,71.9 453.5,70.7 455.5,69.5 457.5,68.1 459.5,66.5 461.5,64.8 463.5,63.0 465.5,61.0 467.5,58.9 469.5,56.7 471.5,54.3 473.5,51.9 475.5,49.3 477.5,46.6 479.5,43.9 481.5,41.1 483.5,38.3 485.5,35.5 487.5,32.8 489.5,30.1 491.5,27.5 493.5,25.1 495.5,22.8 497.5,20.7 499.5,18.8 501.5,17.2 503.5,15.9 505.5,14.9 507.5,14.2 509.5,13.8 511.5,13.8 513.5,14.2 515.5,14.9 517.5,15.9 519.5,17.2 521.5,18.8 523.5,20.7 525.5,22.8 527.5,25.1 529.5,27.5 531.5,30.1 533.5,32.8 535.5,35.5 537.5,38.3 539.5,41.1 541.5,43.9 543.5,46.6 545.5,49.3 547.5,51.9 549.5,54.3 551.5,56.7 553.5,58.9 555.5,61.0 557.5,63.0 559.5,64.8 561.5,66.5 563.5,68.1 565.5,69.5 567.5,70.7 569.5,71.9 571.5,72.9 573.5,73.8 575.5,74.6 577.5,75.4 579.5,76.0 581.5,76.5 583.5,77.0 585.5,77.4 587.5,77.8 589.5,78.1 591.5,78.3 593.5,78.6 595.5,78.8 597.5,78.9 599.5,79.1 601.5,79.2 603.5,79.3 605.5,79.4 607.5,79.4 609.5,79.5 611.5,79.5 613.5,79.6 615.5,79.6 617.5,79.7 619.5,79.7 621.5,79.7 623.5,79.7 625.5,79.8 627.5,79.8 629.5,79.8 631.5,79.8 633.5,79.8 635.5,79.9 637.5,79.9 639.5,79.9 641.5,79.9 643.5,79.9 645.5,79.9 647.5,79.9 649.5,79.9 651.5,79.9 653.5,80.0 655.5,80.0 657.5,80.0" fill="none" stroke="#b080d8" stroke-width="1.2" opacity="1"/>
<path d="M365.5,79.9 367.5,79.9 369.5,79.9 371.5,79.9 373.5,79.8 375.5,79.8 377.5,79.8 379.5,79.8 381.5,79.7 383.5,79.7 385.5,79.7 387.5,79.6 389.5,79.6 391.5,79.5 393.5,79.4 395.5,79.3 397.5,79.1 399.5,79.0 401.5,78.8 403.5,78.5 405.5,78.2 407.5,77.9 409.5,77.5 411.5,77.0 413.5,76.5 415.5,76.0 417.5,75.4 419.5,74.7 421.5,74.1 423.5,73.4 425.5,72.7 427.5,72.0 429.5,71.3 431.5,70.6 433.5,70.0 435.5,69.5 437.5,69.0 439.5,68.5 441.5,68.1 443.5,67.7 445.5,67.4 447.5,67.0 449.5,66.5 451.5,66.0 453.5,65.4 455.5,64.7 457.5,63.9 459.5,62.8 461.5,61.7 463.5,60.3 465.5,58.7 467.5,57.0 469.5,55.1 471.5,53.0 473.5,50.8 475.5,48.4 477.5,45.9 479.5,43.3 481.5,40.6 483.5,37.9 485.5,35.1 487.5,32.4 489.5,29.8 491.5,27.2 493.5,24.7 495.5,22.4 497.5,20.3 499.5,18.4 501.5,16.8 503.5,15.4 505.5,14.3 507.5,13.6 509.5,13.2 511.5,13.1 513.5,13.3 515.5,13.9 517.5,14.8 519.5,15.9 521.5,17.4 523.5,19.0 525.5,20.9 527.5,23.0 529.5,25.2 531.5,27.6 533.5,30.0 535.5,32.5 537.5,35.0 539.5,37.6 541.5,40.1 543.5,42.5 545.5,44.9 547.5,47.3 549.5,49.5 551.5,51.7 553.5,53.8 555.5,55.7 557.5,57.6 559.5,59.3 561.5,61.0 563.5,62.5 565.5,64.0 567.5,65.4 569.5,66.6 571.5,67.8 573.5,68.9 575.5,70.0 577.5,70.9 579.5,71.8 581.5,72.6 583.5,73.3 585.5,74.0 587.5,74.6 589.5,75.2 591.5,75.7 593.5,76.2 595.5,76.6 597.5,77.0 599.5,77.4 601.5,77.7 603.5,78.0 605.5,78.2 607.5,78.4 609.5,78.6 611.5,78.8 613.5,78.9 615.5,79.1 617.5,79.2 619.5,79.3 621.5,79.3 623.5,79.4 625.5,79.5 627.5,79.5 629.5,79.6 631.5,79.6 633.5,79.7 635.5,79.7 637.5,79.7 639.5,79.8 641.5,79.8 643.5,79.8 645.5,79.8 647.5,79.8 649.5,79.8 651.5,79.9 653.5,79.9 655.5,79.9 657.5,79.9" fill="none" stroke="#555" stroke-width="1" opacity="1"/>
<line x1="365.5" y1="79.3" x2="658.6" y2="79.3" stroke="#e080e0" stroke-width="1" stroke-linecap="butt"/>
<line x1="365.5" y1="80.3" x2="658.6" y2="80.3" stroke="#d86040" stroke-width="1" stroke-linecap="butt"/>
<line x1="365.5" y1="81.5" x2="658.6" y2="81.5" stroke="#f0d020" stroke-width="1.2" stroke-linecap="butt"/>
<path d="M365.5,153.2 367.5,153.0 369.5,152.9 371.5,152.7 373.5,152.6 375.5,152.4 377.5,152.2 379.5,152.0 381.5,151.8 383.5,151.6 385.5,151.3 387.5,151.1 389.5,150.9 391.5,150.6 393.5,150.4 395.5,150.2 397.5,149.9 399.5,149.7 401.5,149.5 403.5,149.3 405.5,149.1 407.5,149.0 409.5,148.8 411.5,148.7 413.5,148.6 415.5,148.5 417.5,148.4 419.5,148.4 421.5,148.3 423.5,148.3 425.5,148.2 427.5,148.2 429.5,148.1 431.5,148.0 433.5,147.9 435.5,147.8 437.5,147.6 439.5,147.4 441.5,147.1 443.5,146.8 445.5,146.3 447.5,145.9 449.5,145.3 451.5,144.7 453.5,144.0 455.5,143.2 457.5,142.4 459.5,141.4 461.5,140.5 463.5,139.4 465.5,138.3 467.5,137.1 469.5,135.9 471.5,134.7 473.5,133.5 475.5,132.2 477.5,130.9 479.5,129.6 481.5,128.3 483.5,127.1 485.5,125.9 487.5,124.7 489.5,123.6 491.5,122.6 493.5,121.6 495.5,120.7 497.5,119.9 499.5,119.3 501.5,118.7 503.5,118.3 505.5,118.0 507.5,117.8 509.5,117.8 511.5,117.9 513.5,118.2 515.5,118.6 517.5,119.1 519.5,119.7 521.5,120.5 523.5,121.4 525.5,122.4 527.5,123.4 529.5,124.6 531.5,125.8 533.5,127.0 535.5,128.3 537.5,129.6 539.5,131.0 541.5,132.3 543.5,133.7 545.5,135.0 547.5,136.3 549.5,137.6 551.5,138.8 553.5,140.0 555.5,141.1 557.5,142.2 559.5,143.2 561.5,144.2 563.5,145.2 565.5,146.0 567.5,146.8 569.5,147.6 571.5,148.3 573.5,148.9 575.5,149.5 577.5,150.0 579.5,150.5 581.5,151.0 583.5,151.4 585.5,151.7 587.5,152.1 589.5,152.3 591.5,152.6 593.5,152.8 595.5,153.0 597.5,153.2 599.5,153.3 601.5,153.5 603.5,153.6 605.5,153.7 607.5,153.8 609.5,153.8 611.5,153.9 613.5,153.9 615.5,154.0 617.5,154.0 619.5,154.1 621.5,154.1 623.5,154.1 625.5,154.1 627.5,154.1 629.5,154.2 631.5,154.2 633.5,154.2 635.5,154.2 637.5,154.2 639.5,154.2 641.5,154.2 643.5,154.2 645.5,154.2 647.5,154.2 649.5,154.2 651.5,154.2 653.5,154.2 655.5,154.2 657.5,154.2 657.5,154.3 365.5,154.3 Z" fill="#f2e6f2" opacity="1"/>
<path d="M365.5,154.3 367.5,154.3 369.5,154.3 371.5,154.3 373.5,154.3 375.5,154.2 377.5,154.2 379.5,154.2 381.5,154.2 383.5,154.2 385.5,154.2 387.5,154.2 389.5,154.2 391.5,154.2 393.5,154.2 395.5,154.2 397.5,154.2 399.5,154.2 401.5,154.2 403.5,154.2 405.5,154.2 407.5,154.2 409.5,154.2 411.5,154.1 413.5,154.1 415.5,154.1 417.5,154.1 419.5,154.0 421.5,154.0 423.5,153.9 425.5,153.8 427.5,153.7 429.5,153.6 431.5,153.5 433.5,153.3 435.5,153.1 437.5,152.9 439.5,152.6 441.5,152.3 443.5,151.9 445.5,151.5 447.5,151.0 449.5,150.5 451.5,149.9 453.5,149.2 455.5,148.4 457.5,147.6 459.5,146.7 461.5,145.7 463.5,144.6 465.5,143.5 467.5,142.2 469.5,141.0 471.5,139.6 473.5,138.2 475.5,136.7 477.5,135.2 479.5,133.7 481.5,132.2 483.5,130.7 485.5,129.2 487.5,127.8 489.5,126.4 491.5,125.0 493.5,123.8 495.5,122.7 497.5,121.7 499.5,120.8 501.5,120.0 503.5,119.4 505.5,118.9 507.5,118.6 509.5,118.5 511.5,118.5 513.5,118.6 515.5,118.9 517.5,119.4 519.5,120.0 521.5,120.7 523.5,121.5 525.5,122.5 527.5,123.5 529.5,124.7 531.5,125.8 533.5,127.1 535.5,128.4 537.5,129.7 539.5,131.0 541.5,132.4 543.5,133.7 545.5,135.0 547.5,136.3 549.5,137.6 551.5,138.8 553.5,140.0 555.5,141.1 557.5,142.2 559.5,143.3 561.5,144.3 563.5,145.2 565.5,146.0 567.5,146.9 569.5,147.6 571.5,148.3 573.5,148.9 575.5,149.5 577.5,150.1 579.5,150.6 581.5,151.0 583.5,151.4 585.5,151.8 587.5,152.1 589.5,152.4 591.5,152.6 593.5,152.8 595.5,153.0 597.5,153.2 599.5,153.4 601.5,153.5 603.5,153.6 605.5,153.7 607.5,153.8 609.5,153.8 611.5,153.9 613.5,154.0 615.5,154.0 617.5,154.0 619.5,154.1 621.5,154.1 623.5,154.1 625.5,154.1 627.5,154.2 629.5,154.2 631.5,154.2 633.5,154.2 635.5,154.2 637.5,154.2 639.5,154.2 641.5,154.2 643.5,154.2 645.5,154.2 647.5,154.2 649.5,154.2 651.5,154.2 653.5,154.2 655.5,154.2 657.5,154.2 657.5,154.3 365.5,154.3 Z" fill="url(#g5)" opacity="1"/>
<path d="M365.5,153.2 367.5,153.1 369.5,152.9 371.5,152.8 373.5,152.6 375.5,152.4 377.5,152.2 379.5,152.0 381.5,151.8 383.5,151.6 385.5,151.4 387.5,151.2 389.5,150.9 391.5,150.7 393.5,150.5 395.5,150.2 397.5,150.0 399.5,149.8 401.5,149.6 403.5,149.4 405.5,149.3 407.5,149.1 409.5,149.0 411.5,148.9 413.5,148.8 415.5,148.8 417.5,148.8 419.5,148.8 421.5,148.9 423.5,149.0 425.5,149.1 427.5,149.2 429.5,149.3 431.5,149.5 433.5,149.7 435.5,149.9 437.5,150.1 439.5,150.3 441.5,150.6 443.5,150.8 445.5,151.0 447.5,151.3 449.5,151.5 451.5,151.7 453.5,151.9 455.5,152.1 457.5,152.3 459.5,152.5 461.5,152.7 463.5,152.9 465.5,153.0 467.5,153.2 469.5,153.3 471.5,153.4 473.5,153.5 475.5,153.6 477.5,153.7 479.5,153.8 481.5,153.8 483.5,153.9 485.5,153.9 487.5,154.0 489.5,154.0 491.5,154.1 493.5,154.1 495.5,154.1 497.5,154.1 499.5,154.2 501.5,154.2 503.5,154.2 505.5,154.2 507.5,154.2 509.5,154.2 511.5,154.2 513.5,154.2 515.5,154.2 517.5,154.2 519.5,154.2 521.5,154.2 523.5,154.2 525.5,154.3 527.5,154.3 529.5,154.3 531.5,154.3 533.5,154.3 535.5,154.3 537.5,154.3 539.5,154.3 541.5,154.3 543.5,154.3 545.5,154.3 547.5,154.3 549.5,154.3 551.5,154.3 553.5,154.3 555.5,154.3 557.5,154.3 559.5,154.3 561.5,154.3 563.5,154.3 565.5,154.3 567.5,154.3 569.5,154.3 571.5,154.3 573.5,154.3 575.5,154.3 577.5,154.3 579.5,154.3 581.5,154.3 583.5,154.3 585.5,154.3 587.5,154.3 589.5,154.3 591.5,154.3 593.5,154.3 595.5,154.3 597.5,154.3 599.5,154.3 601.5,154.3 603.5,154.3 605.5,154.3 607.5,154.3 609.5,154.3 611.5,154.3 613.5,154.3 615.5,154.3 617.5,154.3 619.5,154.3 621.5,154.3 623.5,154.3 625.5,154.3 627.5,154.3 629.5,154.3 631.5,154.3 633.5,154.3 635.5,154.3 637.5,154.3 639.5,154.3 641.5,154.3 643.5,154.3 645.5,154.3 647.5,154.3 649.5,154.3 651.5,154.3 653.5,154.3 655.5,154.3 657.5,154.3 657.5,154.3 365.5,154.3 Z" fill="#5a9a58" opacity="0.85"/>
<path d="M365.5,153.2 367.5,153.1 369.5,152.9 371.5,152.8 373.5,152.6 375.5,152.4 377.5,152.2 379.5,152.0 381.5,151.8 383.5,151.6 385.5,151.4 387.5,151.2 389.5,150.9 391.5,150.7 393.5,150.5 395.5,150.2 397.5,150.0 399.5,149.8 401.5,149.6 403.5,149.4 405.5,149.3 407.5,149.1 409.5,149.0 411.5,148.9 413.5,148.8 415.5,148.8 417.5,148.8 419.5,148.8 421.5,148.9 423.5,149.0 425.5,149.1 427.5,149.2 429.5,149.3 431.5,149.5 433.5,149.7 435.5,149.9 437.5,150.1 439.5,150.3 441.5,150.6 443.5,150.8 445.5,151.0 447.5,151.3 449.5,151.5 451.5,151.7 453.5,151.9 455.5,152.1 457.5,152.3 459.5,152.5 461.5,152.7 463.5,152.9 465.5,153.0 467.5,153.2 469.5,153.3 471.5,153.4 473.5,153.5 475.5,153.6 477.5,153.7 479.5,153.8 481.5,153.8 483.5,153.9 485.5,153.9 487.5,154.0 489.5,154.0 491.5,154.1 493.5,154.1 495.5,154.1 497.5,154.1 499.5,154.2 501.5,154.2 503.5,154.2 505.5,154.2 507.5,154.2 509.5,154.2 511.5,154.2 513.5,154.2 515.5,154.2 517.5,154.2 519.5,154.2 521.5,154.2 523.5,154.2 525.5,154.3 527.5,154.3 529.5,154.3 531.5,154.3 533.5,154.3 535.5,154.3 537.5,154.3 539.5,154.3 541.5,154.3 543.5,154.3 545.5,154.3 547.5,154.3 549.5,154.3 551.5,154.3 553.5,154.3 555.5,154.3 557.5,154.3 559.5,154.3 561.5,154.3 563.5,154.3 565.5,154.3 567.5,154.3 569.5,154.3 571.5,154.3 573.5,154.3 575.5,154.3 577.5,154.3 579.5,154.3 581.5,154.3 583.5,154.3 585.5,154.3 587.5,154.3 589.5,154.3 591.5,154.3 593.5,154.3 595.5,154.3 597.5,154.3 599.5,154.3 601.5,154.3 603.5,154.3 605.5,154.3 607.5,154.3 609.5,154.3 611.5,154.3 613.5,154.3 615.5,154.3 617.5,154.3 619.5,154.3 621.5,154.3 623.5,154.3 625.5,154.3 627.5,154.3 629.5,154.3 631.5,154.3 633.5,154.3 635.5,154.3 637.5,154.3 639.5,154.3 641.5,154.3 643.5,154.3 645.5,154.3 647.5,154.3 649.5,154.3 651.5,154.3 653.5,154.3 655.5,154.3 657.5,154.3" fill="none" stroke="#4070d0" stroke-width="1.4" opacity="1"/>
<path d="M365.5,154.3 367.5,154.3 369.5,154.3 371.5,154.3 373.5,154.3 375.5,154.2 377.5,154.2 379.5,154.2 381.5,154.2 383.5,154.2 385.5,154.2 387.5,154.2 389.5,154.2 391.5,154.2 393.5,154.2 395.5,154.2 397.5,154.2 399.5,154.2 401.5,154.2 403.5,154.2 405.5,154.2 407.5,154.2 409.5,154.2 411.5,154.1 413.5,154.1 415.5,154.1 417.5,154.1 419.5,154.0 421.5,154.0 423.5,153.9 425.5,153.8 427.5,153.7 429.5,153.6 431.5,153.5 433.5,153.3 435.5,153.1 437.5,152.9 439.5,152.6 441.5,152.3 443.5,151.9 445.5,151.5 447.5,151.0 449.5,150.5 451.5,149.9 453.5,149.2 455.5,148.4 457.5,147.6 459.5,146.7 461.5,145.7 463.5,144.6 465.5,143.5 467.5,142.2 469.5,141.0 471.5,139.6 473.5,138.2 475.5,136.7 477.5,135.2 479.5,133.7 481.5,132.2 483.5,130.7 485.5,129.2 487.5,127.8 489.5,126.4 491.5,125.0 493.5,123.8 495.5,122.7 497.5,121.7 499.5,120.8 501.5,120.0 503.5,119.4 505.5,118.9 507.5,118.6 509.5,118.5 511.5,118.5 513.5,118.6 515.5,118.9 517.5,119.4 519.5,120.0 521.5,120.7 523.5,121.5 525.5,122.5 527.5,123.5 529.5,124.7 531.5,125.8 533.5,127.1 535.5,128.4 537.5,129.7 539.5,131.0 541.5,132.4 543.5,133.7 545.5,135.0 547.5,136.3 549.5,137.6 551.5,138.8 553.5,140.0 555.5,141.1 557.5,142.2 559.5,143.3 561.5,144.3 563.5,145.2 565.5,146.0 567.5,146.9 569.5,147.6 571.5,148.3 573.5,148.9 575.5,149.5 577.5,150.1 579.5,150.6 581.5,151.0 583.5,151.4 585.5,151.8 587.5,152.1 589.5,152.4 591.5,152.6 593.5,152.8 595.5,153.0 597.5,153.2 599.5,153.4 601.5,153.5 603.5,153.6 605.5,153.7 607.5,153.8 609.5,153.8 611.5,153.9 613.5,154.0 615.5,154.0 617.5,154.0 619.5,154.1 621.5,154.1 623.5,154.1 625.5,154.1 627.5,154.2 629.5,154.2 631.5,154.2 633.5,154.2 635.5,154.2 637.5,154.2 639.5,154.2 641.5,154.2 643.5,154.2 645.5,154.2 647.5,154.2 649.5,154.2 651.5,154.2 653.5,154.2 655.5,154.2 657.5,154.2" fill="none" stroke="#e85070" stroke-width="1.2" opacity="1"/>
<path d="M365.5,153.2 367.5,153.0 369.5,152.9 371.5,152.7 373.5,152.6 375.5,152.4 377.5,152.2 379.5,152.0 381.5,151.8 383.5,151.6 385.5,151.3 387.5,151.1 389.5,150.9 391.5,150.6 393.5,150.4 395.5,150.2 397.5,149.9 399.5,149.7 401.5,149.5 403.5,149.3 405.5,149.1 407.5,149.0 409.5,148.8 411.5,148.7 413.5,148.6 415.5,148.5 417.5,148.4 419.5,148.4 421.5,148.3 423.5,148.3 425.5,148.2 427.5,148.2 429.5,148.1 431.5,148.0 433.5,147.9 435.5,147.8 437.5,147.6 439.5,147.4 441.5,147.1 443.5,146.8 445.5,146.3 447.5,145.9 449.5,145.3 451.5,144.7 453.5,144.0 455.5,143.2 457.5,142.4 459.5,141.4 461.5,140.5 463.5,139.4 465.5,138.3 467.5,137.1 469.5,135.9 471.5,134.7 473.5,133.5 475.5,132.2 477.5,130.9 479.5,129.6 481.5,128.3 483.5,127.1 485.5,125.9 487.5,124.7 489.5,123.6 491.5,122.6 493.5,121.6 495.5,120.7 497.5,119.9 499.5,119.3 501.5,118.7 503.5,118.3 505.5,118.0 507.5,117.8 509.5,117.8 511.5,117.9 513.5,118.2 515.5,118.6 517.5,119.1 519.5,119.7 521.5,120.5 523.5,121.4 525.5,122.4 527.5,123.4 529.5,124.6 531.5,125.8 533.5,127.0 535.5,128.3 537.5,129.6 539.5,131.0 541.5,132.3 543.5,133.7 545.5,135.0 547.5,136.3 549.5,137.6 551.5,138.8 553.5,140.0 555.5,141.1 557.5,142.2 559.5,143.2 561.5,144.2 563.5,145.2 565.5,146.0 567.5,146.8 569.5,147.6 571.5,148.3 573.5,148.9 575.5,149.5 577.5,150.0 579.5,150.5 581.5,151.0 583.5,151.4 585.5,151.7 587.5,152.1 589.5,152.3 591.5,152.6 593.5,152.8 595.5,153.0 597.5,153.2 599.5,153.3 601.5,153.5 603.5,153.6 605.5,153.7 607.5,153.8 609.5,153.8 611.5,153.9 613.5,153.9 615.5,154.0 617.5,154.0 619.5,154.1 621.5,154.1 623.5,154.1 625.5,154.1 627.5,154.1 629.5,154.2 631.5,154.2 633.5,154.2 635.5,154.2 637.5,154.2 639.5,154.2 641.5,154.2 643.5,154.2 645.5,154.2 647.5,154.2 649.5,154.2 651.5,154.2 653.5,154.2 655.5,154.2 657.5,154.2" fill="none" stroke="#b898d8" stroke-width="1" opacity="1"/>
<line x1="365.5" y1="154.3" x2="658.6" y2="154.3" stroke="#4a7ad0" stroke-width="1.5" stroke-linecap="butt"/>
<line x1="365.5" y1="156.6" x2="658.6" y2="156.6" stroke="#60a060" stroke-width="1.2" stroke-linecap="butt"/>
<line x1="446.6" y1="54" x2="446.6" y2="111" stroke="#8b1a1a" stroke-width="2" stroke-dasharray="2.6,1.4" stroke-linecap="butt"/>
<line x1="421" y1="92" x2="421" y2="155" stroke="#8b1a1a" stroke-width="2" stroke-dasharray="2.6,1.4" stroke-linecap="butt"/>
<line x1="511" y1="2" x2="511" y2="129" stroke="#f3b88a" stroke-width="2" stroke-dasharray="3.8,1.9" stroke-linecap="butt"/>
<line x1="365.5" y1="0.6" x2="658.6" y2="0.6" stroke="#333" stroke-width="1.2" stroke-linecap="butt"/>
<line x1="365.5" y1="0.6" x2="365.5" y2="159.8" stroke="#333" stroke-width="1.2" stroke-linecap="butt"/>
<line x1="658.6" y1="0.6" x2="658.6" y2="159.8" stroke="#333" stroke-width="1.2" stroke-linecap="butt"/>
<line x1="364.9" y1="159.8" x2="659.2" y2="159.8" stroke="#222" stroke-width="1.7" stroke-linecap="butt"/>
<line x1="397" y1="159.8" x2="397" y2="162.3" stroke="#333" stroke-width="1.2" stroke-linecap="butt"/>
<line x1="524.5" y1="159.8" x2="524.5" y2="162.3" stroke="#333" stroke-width="1.2" stroke-linecap="butt"/>
<line x1="652" y1="159.8" x2="652" y2="162.3" stroke="#333" stroke-width="1.2" stroke-linecap="butt"/>
<line x1="460.75" y1="159.8" x2="460.75" y2="162.3" stroke="#333" stroke-width="1.2" stroke-linecap="butt"/>
<line x1="588.25" y1="159.8" x2="588.25" y2="162.3" stroke="#333" stroke-width="1.2" stroke-linecap="butt"/>
<text x="397" y="173.8" font-family="Liberation Serif" font-size="12" font-weight="bold" text-anchor="middle" fill="#111" font-style="normal" stroke="#111" stroke-width="0.3">400</text>
<text x="524.5" y="173.8" font-family="Liberation Serif" font-size="12" font-weight="bold" text-anchor="middle" fill="#111" font-style="normal" stroke="#111" stroke-width="0.3">402</text>
<text x="652" y="173.8" font-family="Liberation Serif" font-size="12" font-weight="bold" text-anchor="middle" fill="#111" font-style="normal" stroke="#111" stroke-width="0.3">404</text>
<text x="508.5" y="187.5" font-family="Liberation Serif" font-size="14" font-weight="bold" fill="#111" stroke="#111" stroke-width="0.3"><tspan font-style="italic">E</tspan> (eV)</text>
<text x="376" y="20" font-family="Liberation Sans" font-size="20" font-weight="bold" text-anchor="start" fill="#111" font-style="normal" stroke="#111" stroke-width="0.7">b</text>
<text x="641" y="18.2" font-family="Liberation Serif" font-size="14.5" font-weight="bold" text-anchor="end" fill="#111" font-style="normal" stroke="#111" stroke-width="0.3">N 1s</text>
<path d="M31.5,271.6 33.5,271.6 35.5,271.6 37.5,271.6 39.5,271.5 41.5,271.5 43.5,271.4 45.5,271.4 47.5,271.3 49.5,271.2 51.5,271.1 53.5,271.0 55.5,270.9 57.5,270.7 59.5,270.5 61.5,270.3 63.5,270.0 65.5,269.7 67.5,269.3 69.5,268.9 71.5,268.4 73.5,267.9 75.5,267.3 77.5,266.6 79.5,265.8 81.5,264.8 83.5,263.8 85.5,262.7 87.5,261.5 89.5,260.1 91.5,258.7 93.5,257.1 95.5,255.3 97.5,253.5 99.5,251.5 101.5,249.4 103.5,247.3 105.5,245.0 107.5,242.7 109.5,240.2 111.5,237.8 113.5,235.3 115.5,232.8 117.5,230.3 119.5,227.9 121.5,225.6 123.5,223.3 125.5,221.2 127.5,219.2 129.5,217.4 131.5,215.7 133.5,214.3 135.5,213.2 137.5,212.2 139.5,211.5 141.5,211.1 143.5,211.0 145.5,211.1 147.5,211.5 149.5,212.1 151.5,212.9 153.5,214.0 155.5,215.2 157.5,216.6 159.5,218.2 161.5,219.9 163.5,221.7 165.5,223.5 167.5,225.4 169.5,227.3 171.5,229.3 173.5,231.2 175.5,233.1 177.5,234.9 179.5,236.7 181.5,238.4 183.5,240.0 185.5,241.6 187.5,243.0 189.5,244.4 191.5,245.7 193.5,246.9 195.5,248.0 197.5,249.1 199.5,250.1 201.5,251.0 203.5,251.9 205.5,252.7 207.5,253.5 209.5,254.3 211.5,255.0 213.5,255.7 215.5,256.4 217.5,257.1 219.5,257.7 221.5,258.4 223.5,259.0 225.5,259.6 227.5,260.2 229.5,260.8 231.5,261.4 233.5,262.0 235.5,262.6 237.5,263.1 239.5,263.7 241.5,264.2 243.5,264.7 245.5,265.2 247.5,265.7 249.5,266.1 251.5,266.6 253.5,267.0 255.5,267.4 257.5,267.8 259.5,268.1 261.5,268.5 263.5,268.8 265.5,269.1 267.5,269.3 269.5,269.6 271.5,269.8 273.5,270.0 275.5,270.2 277.5,270.4 279.5,270.5 281.5,270.7 283.5,270.8 285.5,270.9 287.5,271.0 289.5,271.1 291.5,271.2 293.5,271.3 295.5,271.3 297.5,271.4 299.5,271.4 301.5,271.5 303.5,271.5 305.5,271.6 307.5,271.6 309.5,271.6 311.5,271.6 313.5,271.7 315.5,271.7 317.5,271.7 319.5,271.7 321.5,271.7 323.5,271.7 323.5,272.0 31.5,272.0 Z" fill="url(#hx6)" opacity="1"/>
<path d="M31.5,272.0 33.5,272.0 35.5,272.0 37.5,272.0 39.5,272.0 41.5,271.9 43.5,271.9 45.5,271.9 47.5,271.9 49.5,271.8 51.5,271.8 53.5,271.7 55.5,271.7 57.5,271.6 59.5,271.5 61.5,271.3 63.5,271.2 65.5,271.0 67.5,270.7 69.5,270.4 71.5,270.1 73.5,269.7 75.5,269.2 77.5,268.7 79.5,268.1 81.5,267.4 83.5,266.5 85.5,265.6 87.5,264.6 89.5,263.4 91.5,262.1 93.5,260.6 95.5,259.1 97.5,257.4 99.5,255.5 101.5,253.6 103.5,251.5 105.5,249.3 107.5,247.0 109.5,244.7 111.5,242.2 113.5,239.8 115.5,237.3 117.5,234.9 119.5,232.5 121.5,230.2 123.5,228.1 125.5,226.0 127.5,224.2 129.5,222.5 131.5,221.1 133.5,219.9 135.5,219.0 137.5,218.4 139.5,218.1 141.5,218.0 143.5,218.3 145.5,218.9 147.5,219.7 149.5,220.9 151.5,222.3 153.5,223.9 155.5,225.7 157.5,227.7 159.5,229.9 161.5,232.2 163.5,234.6 165.5,237.0 167.5,239.4 169.5,241.9 171.5,244.3 173.5,246.7 175.5,249.0 177.5,251.2 179.5,253.3 181.5,255.2 183.5,257.1 185.5,258.8 187.5,260.4 189.5,261.9 191.5,263.2 193.5,264.4 195.5,265.5 197.5,266.4 199.5,267.2 201.5,268.0 203.5,268.6 205.5,269.2 207.5,269.6 209.5,270.1 211.5,270.4 213.5,270.7 215.5,270.9 217.5,271.1 219.5,271.3 221.5,271.4 223.5,271.6 225.5,271.7 227.5,271.7 229.5,271.8 231.5,271.8 233.5,271.9 235.5,271.9 237.5,271.9 239.5,271.9 241.5,272.0 243.5,272.0 245.5,272.0 247.5,272.0 249.5,272.0 251.5,272.0 253.5,272.0 255.5,272.0 257.5,272.0 259.5,272.0 261.5,272.0 263.5,272.0 265.5,272.0 267.5,272.0 269.5,272.0 271.5,272.0 273.5,272.0 275.5,272.0 277.5,272.0 279.5,272.0 281.5,272.0 283.5,272.0 285.5,272.0 287.5,272.0 289.5,272.0 291.5,272.0 293.5,272.0 295.5,272.0 297.5,272.0 299.5,272.0 301.5,272.0 303.5,272.0 305.5,272.0 307.5,272.0 309.5,272.0 311.5,272.0 313.5,272.0 315.5,272.0 317.5,272.0 319.5,272.0 321.5,272.0 323.5,272.0 323.5,272.0 31.5,272.0 Z" fill="url(#g7)" opacity="1"/>
<path d="M31.5,272.0 33.5,272.0 35.5,272.0 37.5,272.0 39.5,272.0 41.5,271.9 43.5,271.9 45.5,271.9 47.5,271.9 49.5,271.8 51.5,271.8 53.5,271.7 55.5,271.7 57.5,271.6 59.5,271.5 61.5,271.3 63.5,271.2 65.5,271.0 67.5,270.7 69.5,270.4 71.5,270.1 73.5,269.7 75.5,269.2 77.5,268.7 79.5,268.1 81.5,267.4 83.5,266.5 85.5,265.6 87.5,264.6 89.5,263.4 91.5,262.1 93.5,260.6 95.5,259.1 97.5,257.4 99.5,255.5 101.5,253.6 103.5,251.5 105.5,249.3 107.5,247.0 109.5,244.7 111.5,242.2 113.5,239.8 115.5,237.3 117.5,234.9 119.5,232.5 121.5,230.2 123.5,228.1 125.5,226.0 127.5,224.2 129.5,222.5 131.5,221.1 133.5,219.9 135.5,219.0 137.5,218.4 139.5,218.1 141.5,218.0 143.5,218.3 145.5,218.9 147.5,219.7 149.5,220.9 151.5,222.3 153.5,223.9 155.5,225.7 157.5,227.7 159.5,229.9 161.5,232.2 163.5,234.6 165.5,237.0 167.5,239.4 169.5,241.9 171.5,244.3 173.5,246.7 175.5,249.0 177.5,251.2 179.5,253.3 181.5,255.2 183.5,257.1 185.5,258.8 187.5,260.4 189.5,261.9 191.5,263.2 193.5,264.4 195.5,265.5 197.5,266.4 199.5,267.2 201.5,268.0 203.5,268.6 205.5,269.2 207.5,269.6 209.5,270.1 211.5,270.4 213.5,270.7 215.5,270.9 217.5,271.1 219.5,271.3 221.5,271.4 223.5,271.6 225.5,271.7 227.5,271.7 229.5,271.8 231.5,271.8 233.5,271.9 235.5,271.9 237.5,271.9 239.5,271.9 241.5,272.0 243.5,272.0 245.5,272.0 247.5,272.0 249.5,272.0 251.5,272.0 253.5,272.0 255.5,272.0 257.5,272.0 259.5,272.0 261.5,272.0 263.5,272.0 265.5,272.0 267.5,272.0 269.5,272.0 271.5,272.0 273.5,272.0 275.5,272.0 277.5,272.0 279.5,272.0 281.5,272.0 283.5,272.0 285.5,272.0 287.5,272.0 289.5,272.0 291.5,272.0 293.5,272.0 295.5,272.0 297.5,272.0 299.5,272.0 301.5,272.0 303.5,272.0 305.5,272.0 307.5,272.0 309.5,272.0 311.5,272.0 313.5,272.0 315.5,272.0 317.5,272.0 319.5,272.0 321.5,272.0 323.5,272.0" fill="none" stroke="#f07060" stroke-width="0.8" opacity="1"/>
<path d="M31.5,271.9 33.5,271.9 35.5,271.9 37.5,271.9 39.5,271.9 41.5,271.9 43.5,271.9 45.5,271.9 47.5,271.9 49.5,271.9 51.5,271.9 53.5,271.9 55.5,271.9 57.5,271.9 59.5,271.9 61.5,271.9 63.5,271.9 65.5,271.9 67.5,271.9 69.5,271.9 71.5,271.9 73.5,271.9 75.5,271.9 77.5,271.9 79.5,271.8 81.5,271.8 83.5,271.8 85.5,271.8 87.5,271.8 89.5,271.8 91.5,271.8 93.5,271.8 95.5,271.7 97.5,271.7 99.5,271.7 101.5,271.7 103.5,271.6 105.5,271.6 107.5,271.5 109.5,271.5 111.5,271.4 113.5,271.4 115.5,271.3 117.5,271.2 119.5,271.1 121.5,271.0 123.5,270.9 125.5,270.8 127.5,270.6 129.5,270.5 131.5,270.3 133.5,270.1 135.5,269.9 137.5,269.6 139.5,269.4 141.5,269.1 143.5,268.8 145.5,268.5 147.5,268.2 149.5,267.8 151.5,267.5 153.5,267.1 155.5,266.7 157.5,266.2 159.5,265.8 161.5,265.3 163.5,264.9 165.5,264.4 167.5,263.9 169.5,263.4 171.5,262.9 173.5,262.4 175.5,262.0 177.5,261.5 179.5,261.0 181.5,260.6 183.5,260.2 185.5,259.8 187.5,259.4 189.5,259.1 191.5,258.8 193.5,258.6 195.5,258.4 197.5,258.2 199.5,258.1 201.5,258.0 203.5,258.0 205.5,258.0 207.5,258.1 209.5,258.3 211.5,258.4 213.5,258.7 215.5,258.9 217.5,259.3 219.5,259.6 221.5,260.0 223.5,260.4 225.5,260.8 227.5,261.3 229.5,261.7 231.5,262.2 233.5,262.7 235.5,263.2 237.5,263.7 239.5,264.2 241.5,264.6 243.5,265.1 245.5,265.6 247.5,266.0 249.5,266.5 251.5,266.9 253.5,267.3 255.5,267.7 257.5,268.0 259.5,268.4 261.5,268.7 263.5,269.0 265.5,269.3 267.5,269.5 269.5,269.8 271.5,270.0 273.5,270.2 275.5,270.4 277.5,270.5 279.5,270.7 281.5,270.8 283.5,271.0 285.5,271.1 287.5,271.2 289.5,271.3 291.5,271.3 293.5,271.4 295.5,271.5 297.5,271.5 299.5,271.6 301.5,271.6 303.5,271.6 305.5,271.7 307.5,271.7 309.5,271.7 311.5,271.8 313.5,271.8 315.5,271.8 317.5,271.8 319.5,271.8 321.5,271.8 323.5,271.8 323.5,272.0 31.5,272.0 Z" fill="url(#g8)" opacity="0.85"/>
<path d="M31.5,271.9 33.5,271.9 35.5,271.9 37.5,271.9 39.5,271.9 41.5,271.9 43.5,271.9 45.5,271.9 47.5,271.9 49.5,271.9 51.5,271.9 53.5,271.9 55.5,271.9 57.5,271.9 59.5,271.9 61.5,271.9 63.5,271.9 65.5,271.9 67.5,271.9 69.5,271.9 71.5,271.9 73.5,271.9 75.5,271.9 77.5,271.9 79.5,271.8 81.5,271.8 83.5,271.8 85.5,271.8 87.5,271.8 89.5,271.8 91.5,271.8 93.5,271.8 95.5,271.7 97.5,271.7 99.5,271.7 101.5,271.7 103.5,271.6 105.5,271.6 107.5,271.5 109.5,271.5 111.5,271.4 113.5,271.4 115.5,271.3 117.5,271.2 119.5,271.1 121.5,271.0 123.5,270.9 125.5,270.8 127.5,270.6 129.5,270.5 131.5,270.3 133.5,270.1 135.5,269.9 137.5,269.6 139.5,269.4 141.5,269.1 143.5,268.8 145.5,268.5 147.5,268.2 149.5,267.8 151.5,267.5 153.5,267.1 155.5,266.7 157.5,266.2 159.5,265.8 161.5,265.3 163.5,264.9 165.5,264.4 167.5,263.9 169.5,263.4 171.5,262.9 173.5,262.4 175.5,262.0 177.5,261.5 179.5,261.0 181.5,260.6 183.5,260.2 185.5,259.8 187.5,259.4 189.5,259.1 191.5,258.8 193.5,258.6 195.5,258.4 197.5,258.2 199.5,258.1 201.5,258.0 203.5,258.0 205.5,258.0 207.5,258.1 209.5,258.3 211.5,258.4 213.5,258.7 215.5,258.9 217.5,259.3 219.5,259.6 221.5,260.0 223.5,260.4 225.5,260.8 227.5,261.3 229.5,261.7 231.5,262.2 233.5,262.7 235.5,263.2 237.5,263.7 239.5,264.2 241.5,264.6 243.5,265.1 245.5,265.6 247.5,266.0 249.5,266.5 251.5,266.9 253.5,267.3 255.5,267.7 257.5,268.0 259.5,268.4 261.5,268.7 263.5,269.0 265.5,269.3 267.5,269.5 269.5,269.8 271.5,270.0 273.5,270.2 275.5,270.4 277.5,270.5 279.5,270.7 281.5,270.8 283.5,271.0 285.5,271.1 287.5,271.2 289.5,271.3 291.5,271.3 293.5,271.4 295.5,271.5 297.5,271.5 299.5,271.6 301.5,271.6 303.5,271.6 305.5,271.7 307.5,271.7 309.5,271.7 311.5,271.8 313.5,271.8 315.5,271.8 317.5,271.8 319.5,271.8 321.5,271.8 323.5,271.8" fill="none" stroke="#70b0c8" stroke-width="1" opacity="1"/>
<path d="M31.5,271.6 33.5,271.6 35.5,271.6 37.5,271.6 39.5,271.5 41.5,271.5 43.5,271.4 45.5,271.4 47.5,271.3 49.5,271.2 51.5,271.1 53.5,271.0 55.5,270.9 57.5,270.7 59.5,270.5 61.5,270.3 63.5,270.0 65.5,269.7 67.5,269.3 69.5,268.9 71.5,268.4 73.5,267.9 75.5,267.3 77.5,266.6 79.5,265.8 81.5,264.8 83.5,263.8 85.5,262.7 87.5,261.5 89.5,260.1 91.5,258.7 93.5,257.1 95.5,255.3 97.5,253.5 99.5,251.5 101.5,249.4 103.5,247.3 105.5,245.0 107.5,242.7 109.5,240.2 111.5,237.8 113.5,235.3 115.5,232.8 117.5,230.3 119.5,227.9 121.5,225.6 123.5,223.3 125.5,221.2 127.5,219.2 129.5,217.4 131.5,215.7 133.5,214.3 135.5,213.2 137.5,212.2 139.5,211.5 141.5,211.1 143.5,211.0 145.5,211.1 147.5,211.5 149.5,212.1 151.5,212.9 153.5,214.0 155.5,215.2 157.5,216.6 159.5,218.2 161.5,219.9 163.5,221.7 165.5,223.5 167.5,225.4 169.5,227.3 171.5,229.3 173.5,231.2 175.5,233.1 177.5,234.9 179.5,236.7 181.5,238.4 183.5,240.0 185.5,241.6 187.5,243.0 189.5,244.4 191.5,245.7 193.5,246.9 195.5,248.0 197.5,249.1 199.5,250.1 201.5,251.0 203.5,251.9 205.5,252.7 207.5,253.5 209.5,254.3 211.5,255.0 213.5,255.7 215.5,256.4 217.5,257.1 219.5,257.7 221.5,258.4 223.5,259.0 225.5,259.6 227.5,260.2 229.5,260.8 231.5,261.4 233.5,262.0 235.5,262.6 237.5,263.1 239.5,263.7 241.5,264.2 243.5,264.7 245.5,265.2 247.5,265.7 249.5,266.1 251.5,266.6 253.5,267.0 255.5,267.4 257.5,267.8 259.5,268.1 261.5,268.5 263.5,268.8 265.5,269.1 267.5,269.3 269.5,269.6 271.5,269.8 273.5,270.0 275.5,270.2 277.5,270.4 279.5,270.5 281.5,270.7 283.5,270.8 285.5,270.9 287.5,271.0 289.5,271.1 291.5,271.2 293.5,271.3 295.5,271.3 297.5,271.4 299.5,271.4 301.5,271.5 303.5,271.5 305.5,271.6 307.5,271.6 309.5,271.6 311.5,271.6 313.5,271.7 315.5,271.7 317.5,271.7 319.5,271.7 321.5,271.7 323.5,271.7" fill="none" stroke="#9a80d0" stroke-width="1.2" opacity="1"/>
<line x1="31.5" y1="272" x2="325" y2="272" stroke="#5060c0" stroke-width="1.5" stroke-linecap="butt"/>
<line x1="31.5" y1="273.2" x2="325" y2="273.2" stroke="#60a060" stroke-width="1" stroke-linecap="butt"/>
<path d="M31.5,354.5 33.5,354.4 35.5,354.3 37.5,354.2 39.5,354.2 41.5,354.1 43.5,354.0 45.5,353.8 47.5,353.7 49.5,353.6 51.5,353.5 53.5,353.3 55.5,353.1 57.5,352.9 59.5,352.7 61.5,352.5 63.5,352.3 65.5,352.0 67.5,351.7 69.5,351.4 71.5,351.1 73.5,350.7 75.5,350.3 77.5,349.9 79.5,349.2 81.5,348.5 83.5,347.7 85.5,346.8 87.5,345.9 89.5,345.0 91.5,344.0 93.5,342.9 95.5,341.9 97.5,340.8 99.5,339.6 101.5,338.5 103.5,337.3 105.5,336.1 107.5,334.9 109.5,333.7 111.5,332.5 113.5,331.2 115.5,329.9 117.5,328.6 119.5,327.3 121.5,325.9 123.5,324.6 125.5,323.2 127.5,321.3 129.5,319.1 131.5,316.9 133.5,314.7 135.5,312.8 137.5,311.0 139.5,309.5 141.5,308.2 143.5,307.2 145.5,306.5 147.5,305.7 149.5,305.1 151.5,304.6 153.5,304.1 155.5,303.6 157.5,303.2 159.5,302.7 161.5,302.2 163.5,301.7 165.5,301.2 167.5,300.7 169.5,300.3 171.5,299.8 173.5,299.5 175.5,299.2 177.5,299.0 179.5,298.9 181.5,298.9 183.5,299.0 185.5,299.1 187.5,299.4 189.5,299.6 191.5,300.0 193.5,300.5 195.5,301.0 197.5,301.5 199.5,302.2 201.5,302.9 203.5,303.7 205.5,304.5 207.5,305.3 209.5,306.2 211.5,307.2 213.5,308.2 215.5,309.2 217.5,310.2 219.5,311.3 221.5,312.4 223.5,313.6 225.5,314.7 227.5,315.9 229.5,317.1 231.5,318.3 233.5,319.5 235.5,320.7 237.5,321.9 239.5,323.2 241.5,324.4 243.5,325.6 245.5,326.8 247.5,328.0 249.5,329.2 251.5,330.4 253.5,331.6 255.5,332.7 257.5,333.8 259.5,334.9 261.5,336.0 263.5,337.0 265.5,338.0 267.5,339.0 269.5,339.9 271.5,340.8 273.5,341.7 275.5,342.5 277.5,343.3 279.5,344.0 281.5,344.8 283.5,345.4 285.5,346.1 287.5,346.7 289.5,347.3 291.5,347.8 293.5,348.3 295.5,348.8 297.5,349.3 299.5,349.7 301.5,350.1 303.5,350.5 305.5,350.8 307.5,351.1 309.5,351.4 311.5,351.7 313.5,352.0 315.5,352.2 317.5,352.4 319.5,352.6 321.5,352.8 323.5,353.0 323.5,356.0 31.5,356.0 Z" fill="url(#g9)" opacity="1"/>
<path d="M31.5,355.8 33.5,355.8 35.5,355.8 37.5,355.7 39.5,355.7 41.5,355.6 43.5,355.5 45.5,355.4 47.5,355.3 49.5,355.2 51.5,355.0 53.5,354.8 55.5,354.6 57.5,354.4 59.5,354.1 61.5,353.9 63.5,353.5 65.5,353.2 67.5,352.8 69.5,352.3 71.5,351.8 73.5,351.3 75.5,350.7 77.5,350.0 79.5,349.3 81.5,348.6 83.5,347.8 85.5,346.9 87.5,346.0 89.5,345.1 91.5,344.1 93.5,343.1 95.5,342.0 97.5,340.9 99.5,339.8 101.5,338.7 103.5,337.5 105.5,336.4 107.5,335.3 109.5,334.2 111.5,333.1 113.5,332.1 115.5,331.1 117.5,330.2 119.5,329.3 121.5,328.6 123.5,327.9 125.5,327.3 127.5,326.8 129.5,326.4 131.5,326.2 133.5,326.0 135.5,326.0 137.5,326.1 139.5,326.3 141.5,326.6 143.5,327.0 145.5,327.6 147.5,328.2 149.5,328.9 151.5,329.7 153.5,330.6 155.5,331.6 157.5,332.6 159.5,333.6 161.5,334.7 163.5,335.8 165.5,337.0 167.5,338.1 169.5,339.2 171.5,340.3 173.5,341.5 175.5,342.5 177.5,343.6 179.5,344.6 181.5,345.6 183.5,346.5 185.5,347.4 187.5,348.2 189.5,349.0 191.5,349.7 193.5,350.4 195.5,351.0 197.5,351.5 199.5,352.1 201.5,352.5 203.5,353.0 205.5,353.4 207.5,353.7 209.5,354.0 211.5,354.3 213.5,354.5 215.5,354.7 217.5,354.9 219.5,355.1 221.5,355.2 223.5,355.3 225.5,355.4 227.5,355.5 229.5,355.6 231.5,355.7 233.5,355.7 235.5,355.8 237.5,355.8 239.5,355.9 241.5,355.9 243.5,355.9 245.5,355.9 247.5,355.9 249.5,356.0 251.5,356.0 253.5,356.0 255.5,356.0 257.5,356.0 259.5,356.0 261.5,356.0 263.5,356.0 265.5,356.0 267.5,356.0 269.5,356.0 271.5,356.0 273.5,356.0 275.5,356.0 277.5,356.0 279.5,356.0 281.5,356.0 283.5,356.0 285.5,356.0 287.5,356.0 289.5,356.0 291.5,356.0 293.5,356.0 295.5,356.0 297.5,356.0 299.5,356.0 301.5,356.0 303.5,356.0 305.5,356.0 307.5,356.0 309.5,356.0 311.5,356.0 313.5,356.0 315.5,356.0 317.5,356.0 319.5,356.0 321.5,356.0 323.5,356.0 323.5,356.0 31.5,356.0 Z" fill="url(#g10)" opacity="1"/>
<path d="M31.5,354.5 33.5,354.4 35.5,354.4 37.5,354.3 39.5,354.2 41.5,354.1 43.5,354.0 45.5,353.9 47.5,353.8 49.5,353.7 51.5,353.5 53.5,353.4 55.5,353.2 57.5,353.0 59.5,352.8 61.5,352.6 63.5,352.4 65.5,352.1 67.5,351.8 69.5,351.5 71.5,351.2 73.5,350.8 75.5,350.4 77.5,350.0 79.5,349.6 81.5,349.1 83.5,348.6 85.5,348.0 87.5,347.4 89.5,346.8 91.5,346.1 93.5,345.4 95.5,344.7 97.5,343.9 99.5,343.0 101.5,342.2 103.5,341.2 105.5,340.3 107.5,339.2 109.5,338.2 111.5,337.1 113.5,335.9 115.5,334.7 117.5,333.5 119.5,332.2 121.5,330.9 123.5,329.6 125.5,328.3 127.5,326.9 129.5,325.5 131.5,324.1 133.5,322.6 135.5,321.2 137.5,319.7 139.5,318.3 141.5,316.9 143.5,315.5 145.5,314.1 147.5,312.7 149.5,311.4 151.5,310.1 153.5,308.9 155.5,307.7 157.5,306.6 159.5,305.6 161.5,304.6 163.5,303.7 165.5,302.9 167.5,302.3 169.5,301.7 171.5,301.2 173.5,300.9 175.5,300.6 177.5,300.5 179.5,300.5 181.5,300.6 183.5,300.8 185.5,301.0 187.5,301.4 189.5,301.8 191.5,302.3 193.5,302.9 195.5,303.6 197.5,304.3 199.5,305.1 201.5,306.0 203.5,306.9 205.5,307.9 207.5,308.9 209.5,310.0 211.5,311.1 213.5,312.2 215.5,313.4 217.5,314.6 219.5,315.8 221.5,317.0 223.5,318.3 225.5,319.5 227.5,320.8 229.5,322.0 231.5,323.2 233.5,324.5 235.5,325.7 237.5,326.9 239.5,328.1 241.5,329.3 243.5,330.5 245.5,331.6 247.5,332.7 249.5,333.8 251.5,334.8 253.5,335.9 255.5,336.9 257.5,337.8 259.5,338.8 261.5,339.7 263.5,340.5 265.5,341.4 267.5,342.2 269.5,342.9 271.5,343.7 273.5,344.4 275.5,345.0 277.5,345.7 279.5,346.3 281.5,346.9 283.5,347.4 285.5,347.9 287.5,348.4 289.5,348.9 291.5,349.3 293.5,349.7 295.5,350.1 297.5,350.4 299.5,350.8 301.5,351.1 303.5,351.4 305.5,351.7 307.5,351.9 309.5,352.2 311.5,352.4 313.5,352.6 315.5,352.8 317.5,352.9 319.5,353.1 321.5,353.3 323.5,353.4 323.5,356.0 31.5,356.0 Z" fill="url(#g11)" opacity="1"/>
<path d="M31.5,355.6 33.5,355.6 35.5,355.5 37.5,355.5 39.5,355.4 41.5,355.4 43.5,355.3 45.5,355.2 47.5,355.1 49.5,355.0 51.5,354.9 53.5,354.7 55.5,354.6 57.5,354.4 59.5,354.2 61.5,354.0 63.5,353.8 65.5,353.5 67.5,353.3 69.5,352.9 71.5,352.6 73.5,352.2 75.5,351.8 77.5,351.4 79.5,350.9 81.5,350.4 83.5,349.8 85.5,349.2 87.5,348.6 89.5,347.9 91.5,347.2 93.5,346.4 95.5,345.5 97.5,344.6 99.5,343.7 101.5,342.7 103.5,341.7 105.5,340.6 107.5,339.5 109.5,338.3 111.5,337.1 113.5,335.8 115.5,334.5 117.5,333.2 119.5,331.8 121.5,330.4 123.5,329.0 125.5,327.6 127.5,326.2 129.5,324.8 131.5,323.3 133.5,321.9 135.5,320.5 137.5,319.1 139.5,317.8 141.5,316.5 143.5,315.3 145.5,314.1 147.5,312.9 149.5,311.8 151.5,310.8 153.5,309.9 155.5,309.1 157.5,308.4 159.5,307.8 161.5,307.2 163.5,306.8 165.5,306.5 167.5,306.3 169.5,306.2 171.5,306.2 173.5,306.4 175.5,306.7 177.5,307.2 179.5,307.8 181.5,308.5 183.5,309.3 185.5,310.2 187.5,311.3 189.5,312.4 191.5,313.6 193.5,314.9 195.5,316.3 197.5,317.7 199.5,319.2 201.5,320.7 203.5,322.3 205.5,323.9 207.5,325.4 209.5,327.0 211.5,328.6 213.5,330.1 215.5,331.7 217.5,333.2 219.5,334.6 221.5,336.1 223.5,337.5 225.5,338.8 227.5,340.1 229.5,341.3 231.5,342.4 233.5,343.5 235.5,344.6 237.5,345.6 239.5,346.5 241.5,347.4 243.5,348.2 245.5,348.9 247.5,349.6 249.5,350.2 251.5,350.8 253.5,351.3 255.5,351.8 257.5,352.3 259.5,352.7 261.5,353.1 263.5,353.4 265.5,353.7 267.5,353.9 269.5,354.2 271.5,354.4 273.5,354.6 275.5,354.7 277.5,354.9 279.5,355.0 281.5,355.1 283.5,355.2 285.5,355.3 287.5,355.4 289.5,355.5 291.5,355.5 293.5,355.6 295.5,355.6 297.5,355.7 299.5,355.7 301.5,355.7 303.5,355.7 305.5,355.8 307.5,355.8 309.5,355.8 311.5,355.8 313.5,355.8 315.5,355.8 317.5,355.8 319.5,355.9 321.5,355.9 323.5,355.9 323.5,356.0 31.5,356.0 Z" fill="url(#g12)" opacity="1"/>
<path d="M31.5,355.9 33.5,355.9 35.5,355.9 37.5,355.9 39.5,355.9 41.5,355.9 43.5,355.9 45.5,355.9 47.5,355.9 49.5,355.9 51.5,355.9 53.5,355.9 55.5,355.8 57.5,355.8 59.5,355.8 61.5,355.8 63.5,355.8 65.5,355.8 67.5,355.8 69.5,355.8 71.5,355.8 73.5,355.8 75.5,355.8 77.5,355.8 79.5,355.8 81.5,355.8 83.5,355.8 85.5,355.8 87.5,355.8 89.5,355.8 91.5,355.8 93.5,355.8 95.5,355.8 97.5,355.7 99.5,355.7 101.5,355.7 103.5,355.7 105.5,355.7 107.5,355.7 109.5,355.7 111.5,355.7 113.5,355.7 115.5,355.7 117.5,355.6 119.5,355.6 121.5,355.6 123.5,355.6 125.5,355.6 127.5,355.6 129.5,355.5 131.5,355.5 133.5,355.5 135.5,355.4 137.5,355.4 139.5,355.4 141.5,355.3 143.5,355.3 145.5,355.2 147.5,355.1 149.5,355.1 151.5,355.0 153.5,354.9 155.5,354.8 157.5,354.7 159.5,354.6 161.5,354.5 163.5,354.4 165.5,354.2 167.5,354.1 169.5,353.9 171.5,353.8 173.5,353.6 175.5,353.4 177.5,353.2 179.5,352.9 181.5,352.7 183.5,352.5 185.5,352.2 187.5,351.9 189.5,351.6 191.5,351.3 193.5,351.0 195.5,350.7 197.5,350.4 199.5,350.1 201.5,349.8 203.5,349.4 205.5,349.1 207.5,348.8 209.5,348.5 211.5,348.1 213.5,347.8 215.5,347.6 217.5,347.3 219.5,347.0 221.5,346.8 223.5,346.6 225.5,346.4 227.5,346.3 229.5,346.1 231.5,346.1 233.5,346.0 235.5,346.0 237.5,346.0 239.5,346.1 241.5,346.2 243.5,346.3 245.5,346.5 247.5,346.7 249.5,346.9 251.5,347.2 253.5,347.4 255.5,347.7 257.5,348.0 259.5,348.3 261.5,348.6 263.5,348.9 265.5,349.3 267.5,349.6 269.5,349.9 271.5,350.3 273.5,350.6 275.5,350.9 277.5,351.2 279.5,351.5 281.5,351.8 283.5,352.1 285.5,352.3 287.5,352.6 289.5,352.8 291.5,353.1 293.5,353.3 295.5,353.5 297.5,353.7 299.5,353.8 301.5,354.0 303.5,354.2 305.5,354.3 307.5,354.4 309.5,354.6 311.5,354.7 313.5,354.8 315.5,354.9 317.5,355.0 319.5,355.0 321.5,355.1 323.5,355.2 323.5,356.0 31.5,356.0 Z" fill="#c8d8a0" opacity="0.6"/>
<path d="M31.5,355.9 33.5,355.9 35.5,355.9 37.5,355.9 39.5,355.9 41.5,355.9 43.5,355.9 45.5,355.9 47.5,355.9 49.5,355.9 51.5,355.9 53.5,355.9 55.5,355.8 57.5,355.8 59.5,355.8 61.5,355.8 63.5,355.8 65.5,355.8 67.5,355.8 69.5,355.8 71.5,355.8 73.5,355.8 75.5,355.8 77.5,355.8 79.5,355.8 81.5,355.8 83.5,355.8 85.5,355.8 87.5,355.8 89.5,355.8 91.5,355.8 93.5,355.8 95.5,355.8 97.5,355.7 99.5,355.7 101.5,355.7 103.5,355.7 105.5,355.7 107.5,355.7 109.5,355.7 111.5,355.7 113.5,355.7 115.5,355.7 117.5,355.6 119.5,355.6 121.5,355.6 123.5,355.6 125.5,355.6 127.5,355.6 129.5,355.5 131.5,355.5 133.5,355.5 135.5,355.4 137.5,355.4 139.5,355.4 141.5,355.3 143.5,355.3 145.5,355.2 147.5,355.1 149.5,355.1 151.5,355.0 153.5,354.9 155.5,354.8 157.5,354.7 159.5,354.6 161.5,354.5 163.5,354.4 165.5,354.2 167.5,354.1 169.5,353.9 171.5,353.8 173.5,353.6 175.5,353.4 177.5,353.2 179.5,352.9 181.5,352.7 183.5,352.5 185.5,352.2 187.5,351.9 189.5,351.6 191.5,351.3 193.5,351.0 195.5,350.7 197.5,350.4 199.5,350.1 201.5,349.8 203.5,349.4 205.5,349.1 207.5,348.8 209.5,348.5 211.5,348.1 213.5,347.8 215.5,347.6 217.5,347.3 219.5,347.0 221.5,346.8 223.5,346.6 225.5,346.4 227.5,346.3 229.5,346.1 231.5,346.1 233.5,346.0 235.5,346.0 237.5,346.0 239.5,346.1 241.5,346.2 243.5,346.3 245.5,346.5 247.5,346.7 249.5,346.9 251.5,347.2 253.5,347.4 255.5,347.7 257.5,348.0 259.5,348.3 261.5,348.6 263.5,348.9 265.5,349.3 267.5,349.6 269.5,349.9 271.5,350.3 273.5,350.6 275.5,350.9 277.5,351.2 279.5,351.5 281.5,351.8 283.5,352.1 285.5,352.3 287.5,352.6 289.5,352.8 291.5,353.1 293.5,353.3 295.5,353.5 297.5,353.7 299.5,353.8 301.5,354.0 303.5,354.2 305.5,354.3 307.5,354.4 309.5,354.6 311.5,354.7 313.5,354.8 315.5,354.9 317.5,355.0 319.5,355.0 321.5,355.1 323.5,355.2" fill="none" stroke="#a0c8c0" stroke-width="1" opacity="1"/>
<path d="M31.5,355.6 33.5,355.6 35.5,355.5 37.5,355.5 39.5,355.4 41.5,355.4 43.5,355.3 45.5,355.2 47.5,355.1 49.5,355.0 51.5,354.9 53.5,354.7 55.5,354.6 57.5,354.4 59.5,354.2 61.5,354.0 63.5,353.8 65.5,353.5 67.5,353.3 69.5,352.9 71.5,352.6 73.5,352.2 75.5,351.8 77.5,351.4 79.5,350.9 81.5,350.4 83.5,349.8 85.5,349.2 87.5,348.6 89.5,347.9 91.5,347.2 93.5,346.4 95.5,345.5 97.5,344.6 99.5,343.7 101.5,342.7 103.5,341.7 105.5,340.6 107.5,339.5 109.5,338.3 111.5,337.1 113.5,335.8 115.5,334.5 117.5,333.2 119.5,331.8 121.5,330.4 123.5,329.0 125.5,327.6 127.5,326.2 129.5,324.8 131.5,323.3 133.5,321.9 135.5,320.5 137.5,319.1 139.5,317.8 141.5,316.5 143.5,315.3 145.5,314.1 147.5,312.9 149.5,311.8 151.5,310.8 153.5,309.9 155.5,309.1 157.5,308.4 159.5,307.8 161.5,307.2 163.5,306.8 165.5,306.5 167.5,306.3 169.5,306.2 171.5,306.2 173.5,306.4 175.5,306.7 177.5,307.2 179.5,307.8 181.5,308.5 183.5,309.3 185.5,310.2 187.5,311.3 189.5,312.4 191.5,313.6 193.5,314.9 195.5,316.3 197.5,317.7 199.5,319.2 201.5,320.7 203.5,322.3 205.5,323.9 207.5,325.4 209.5,327.0 211.5,328.6 213.5,330.1 215.5,331.7 217.5,333.2 219.5,334.6 221.5,336.1 223.5,337.5 225.5,338.8 227.5,340.1 229.5,341.3 231.5,342.4 233.5,343.5 235.5,344.6 237.5,345.6 239.5,346.5 241.5,347.4 243.5,348.2 245.5,348.9 247.5,349.6 249.5,350.2 251.5,350.8 253.5,351.3 255.5,351.8 257.5,352.3 259.5,352.7 261.5,353.1 263.5,353.4 265.5,353.7 267.5,353.9 269.5,354.2 271.5,354.4 273.5,354.6 275.5,354.7 277.5,354.9 279.5,355.0 281.5,355.1 283.5,355.2 285.5,355.3 287.5,355.4 289.5,355.5 291.5,355.5 293.5,355.6 295.5,355.6 297.5,355.7 299.5,355.7 301.5,355.7 303.5,355.7 305.5,355.8 307.5,355.8 309.5,355.8 311.5,355.8 313.5,355.8 315.5,355.8 317.5,355.8 319.5,355.9 321.5,355.9 323.5,355.9" fill="none" stroke="#f0a0a0" stroke-width="0.8" opacity="1"/>
<path d="M31.5,354.5 33.5,354.4 35.5,354.4 37.5,354.3 39.5,354.2 41.5,354.1 43.5,354.0 45.5,353.9 47.5,353.8 49.5,353.7 51.5,353.5 53.5,353.4 55.5,353.2 57.5,353.0 59.5,352.8 61.5,352.6 63.5,352.4 65.5,352.1 67.5,351.8 69.5,351.5 71.5,351.2 73.5,350.8 75.5,350.4 77.5,350.0 79.5,349.3 81.5,348.6 83.5,347.8 85.5,346.9 87.5,346.0 89.5,345.1 91.5,344.1 93.5,343.1 95.5,342.0 97.5,340.9 99.5,339.8 101.5,338.7 103.5,337.5 105.5,336.4 107.5,335.3 109.5,334.2 111.5,333.1 113.5,332.1 115.5,331.1 117.5,330.2 119.5,329.3 121.5,328.6 123.5,327.9 125.5,327.3 127.5,326.8 129.5,325.5 131.5,324.1 133.5,322.6 135.5,321.2 137.5,319.7 139.5,318.3 141.5,316.9 143.5,315.5 145.5,314.1 147.5,312.7 149.5,311.4 151.5,310.1 153.5,308.9 155.5,307.7 157.5,306.6 159.5,305.6 161.5,304.6 163.5,303.7 165.5,302.9 167.5,302.3 169.5,301.7 171.5,301.2 173.5,300.9 175.5,300.6 177.5,300.5 179.5,300.5 181.5,300.6 183.5,300.8 185.5,301.0 187.5,301.4 189.5,301.8 191.5,302.3 193.5,302.9 195.5,303.6 197.5,304.3 199.5,305.1 201.5,306.0 203.5,306.9 205.5,307.9 207.5,308.9 209.5,310.0 211.5,311.1 213.5,312.2 215.5,313.4 217.5,314.6 219.5,315.8 221.5,317.0 223.5,318.3 225.5,319.5 227.5,320.8 229.5,322.0 231.5,323.2 233.5,324.5 235.5,325.7 237.5,326.9 239.5,328.1 241.5,329.3 243.5,330.5 245.5,331.6 247.5,332.7 249.5,333.8 251.5,334.8 253.5,335.9 255.5,336.9 257.5,337.8 259.5,338.8 261.5,339.7 263.5,340.5 265.5,341.4 267.5,342.2 269.5,342.9 271.5,343.7 273.5,344.4 275.5,345.0 277.5,345.7 279.5,346.3 281.5,346.9 283.5,347.4 285.5,347.9 287.5,348.4 289.5,348.9 291.5,349.3 293.5,349.7 295.5,350.1 297.5,350.4 299.5,350.8 301.5,351.1 303.5,351.4 305.5,351.7 307.5,351.9 309.5,352.2 311.5,352.4 313.5,352.6 315.5,352.8 317.5,352.9 319.5,353.1 321.5,353.3 323.5,353.4" fill="none" stroke="#a070d8" stroke-width="1.2" opacity="1"/>
<path d="M31.5,354.5 33.5,354.4 35.5,354.3 37.5,354.2 39.5,354.2 41.5,354.1 43.5,354.0 45.5,353.8 47.5,353.7 49.5,353.6 51.5,353.5 53.5,353.3 55.5,353.1 57.5,352.9 59.5,352.7 61.5,352.5 63.5,352.3 65.5,352.0 67.5,351.7 69.5,351.4 71.5,351.1 73.5,350.7 75.5,350.3 77.5,349.9 79.5,349.2 81.5,348.5 83.5,347.7 85.5,346.8 87.5,345.9 89.5,345.0 91.5,344.0 93.5,342.9 95.5,341.9 97.5,340.8 99.5,339.6 101.5,338.5 103.5,337.3 105.5,336.1 107.5,334.9 109.5,333.7 111.5,332.5 113.5,331.2 115.5,329.9 117.5,328.6 119.5,327.3 121.5,325.9 123.5,324.6 125.5,323.2 127.5,321.3 129.5,319.1 131.5,316.9 133.5,314.7 135.5,312.8 137.5,311.0 139.5,309.5 141.5,308.2 143.5,307.2 145.5,306.5 147.5,305.7 149.5,305.1 151.5,304.6 153.5,304.1 155.5,303.6 157.5,303.2 159.5,302.7 161.5,302.2 163.5,301.7 165.5,301.2 167.5,300.7 169.5,300.3 171.5,299.8 173.5,299.5 175.5,299.2 177.5,299.0 179.5,298.9 181.5,298.9 183.5,299.0 185.5,299.1 187.5,299.4 189.5,299.6 191.5,300.0 193.5,300.5 195.5,301.0 197.5,301.5 199.5,302.2 201.5,302.9 203.5,303.7 205.5,304.5 207.5,305.3 209.5,306.2 211.5,307.2 213.5,308.2 215.5,309.2 217.5,310.2 219.5,311.3 221.5,312.4 223.5,313.6 225.5,314.7 227.5,315.9 229.5,317.1 231.5,318.3 233.5,319.5 235.5,320.7 237.5,321.9 239.5,323.2 241.5,324.4 243.5,325.6 245.5,326.8 247.5,328.0 249.5,329.2 251.5,330.4 253.5,331.6 255.5,332.7 257.5,333.8 259.5,334.9 261.5,336.0 263.5,337.0 265.5,338.0 267.5,339.0 269.5,339.9 271.5,340.8 273.5,341.7 275.5,342.5 277.5,343.3 279.5,344.0 281.5,344.8 283.5,345.4 285.5,346.1 287.5,346.7 289.5,347.3 291.5,347.8 293.5,348.3 295.5,348.8 297.5,349.3 299.5,349.7 301.5,350.1 303.5,350.5 305.5,350.8 307.5,351.1 309.5,351.4 311.5,351.7 313.5,352.0 315.5,352.2 317.5,352.4 319.5,352.6 321.5,352.8 323.5,353.0" fill="none" stroke="#555" stroke-width="1" opacity="1"/>
<line x1="31.5" y1="356.3" x2="325" y2="356.3" stroke="#7068d0" stroke-width="1.2" stroke-linecap="butt"/>
<line x1="31.5" y1="357.3" x2="325" y2="357.3" stroke="#e08080" stroke-width="0.6" stroke-linecap="butt"/>
<line x1="31.5" y1="358.2" x2="325" y2="358.2" stroke="#50b090" stroke-width="1.2" stroke-linecap="butt"/>
<line x1="140" y1="210.7" x2="140" y2="289" stroke="#88c8e8" stroke-width="2" stroke-dasharray="3.8,1.9" stroke-linecap="butt"/>
<line x1="205" y1="240.7" x2="205" y2="318" stroke="#8b1a1a" stroke-width="2" stroke-dasharray="2.6,1.4" stroke-linecap="butt"/>
<line x1="170.6" y1="276.3" x2="170.6" y2="331" stroke="#88c8e8" stroke-width="2" stroke-dasharray="3.8,1.9" stroke-linecap="butt"/>
<line x1="238.7" y1="282.3" x2="238.7" y2="354.3" stroke="#8b1a1a" stroke-width="2" stroke-dasharray="2.6,1.4" stroke-linecap="butt"/>
<line x1="31.5" y1="202.6" x2="325" y2="202.6" stroke="#333" stroke-width="1.2" stroke-linecap="butt"/>
<line x1="31.5" y1="202.6" x2="31.5" y2="362" stroke="#333" stroke-width="1.2" stroke-linecap="butt"/>
<line x1="325" y1="202.6" x2="325" y2="362" stroke="#333" stroke-width="1.2" stroke-linecap="butt"/>
<line x1="30.9" y1="362" x2="325.6" y2="362" stroke="#222" stroke-width="1.7" stroke-linecap="butt"/>
<line x1="88.75" y1="362" x2="88.75" y2="364.5" stroke="#333" stroke-width="1.2" stroke-linecap="butt"/>
<line x1="204.5" y1="362" x2="204.5" y2="364.5" stroke="#333" stroke-width="1.2" stroke-linecap="butt"/>
<line x1="318.75" y1="362" x2="318.75" y2="364.5" stroke="#333" stroke-width="1.2" stroke-linecap="butt"/>
<line x1="146.6" y1="362" x2="146.6" y2="364.5" stroke="#333" stroke-width="1.2" stroke-linecap="butt"/>
<line x1="261.6" y1="362" x2="261.6" y2="364.5" stroke="#333" stroke-width="1.2" stroke-linecap="butt"/>
<text x="88.75" y="375.6" font-family="Liberation Serif" font-size="12" font-weight="bold" text-anchor="middle" fill="#111" font-style="normal" stroke="#111" stroke-width="0.3">530</text>
<text x="204.5" y="375.6" font-family="Liberation Serif" font-size="12" font-weight="bold" text-anchor="middle" fill="#111" font-style="normal" stroke="#111" stroke-width="0.3">532</text>
<text x="318.75" y="375.6" font-family="Liberation Serif" font-size="12" font-weight="bold" text-anchor="middle" fill="#111" font-style="normal" stroke="#111" stroke-width="0.3">534</text>
<text x="174.5" y="389.5" font-family="Liberation Serif" font-size="14" font-weight="bold" fill="#111" stroke="#111" stroke-width="0.3"><tspan font-style="italic">E</tspan> (eV)</text>
<text x="40" y="227" font-family="Liberation Sans" font-size="20" font-weight="bold" text-anchor="start" fill="#111" font-style="normal" stroke="#111" stroke-width="0.7">c</text>
<text x="306.8" y="223.2" font-family="Liberation Serif" font-size="14.5" font-weight="bold" text-anchor="end" fill="#111" font-style="normal" stroke="#111" stroke-width="0.3">O 1s</text>
<path d="M365.5,275.8 367.5,275.7 369.5,275.7 371.5,275.6 373.5,275.6 375.5,275.5 377.5,275.4 379.5,275.3 381.5,275.2 383.5,275.1 385.5,275.0 387.5,274.8 389.5,274.7 391.5,274.4 393.5,274.2 395.5,273.9 397.5,273.6 399.5,273.2 401.5,272.7 403.5,272.2 405.5,271.6 407.5,270.9 409.5,270.0 411.5,269.1 413.5,268.0 415.5,266.8 417.5,265.5 419.5,263.9 421.5,262.3 423.5,260.4 425.5,258.4 427.5,256.2 429.5,253.8 431.5,251.2 433.5,248.5 435.5,245.7 437.5,242.8 439.5,239.7 441.5,236.6 443.5,233.4 445.5,230.3 447.5,227.2 449.5,224.2 451.5,221.3 453.5,218.6 455.5,216.2 457.5,214.0 459.5,212.2 461.5,210.8 463.5,209.8 465.5,209.2 467.5,209.0 469.5,209.3 471.5,210.1 473.5,211.2 475.5,212.7 477.5,214.6 479.5,216.7 481.5,219.0 483.5,221.5 485.5,224.0 487.5,226.6 489.5,229.3 491.5,231.8 493.5,234.3 495.5,236.6 497.5,238.8 499.5,240.8 501.5,242.5 503.5,244.0 505.5,245.3 507.5,246.3 509.5,247.0 511.5,247.5 513.5,247.8 515.5,247.9 517.5,247.7 519.5,247.4 521.5,246.9 523.5,246.2 525.5,245.5 527.5,244.7 529.5,243.9 531.5,243.1 533.5,242.3 535.5,241.6 537.5,241.0 539.5,240.5 541.5,240.1 543.5,240.0 545.5,240.0 547.5,240.2 549.5,240.6 551.5,241.2 553.5,242.0 555.5,243.0 557.5,244.1 559.5,245.3 561.5,246.7 563.5,248.2 565.5,249.7 567.5,251.3 569.5,252.9 571.5,254.5 573.5,256.1 575.5,257.7 577.5,259.3 579.5,260.8 581.5,262.2 583.5,263.6 585.5,264.9 587.5,266.1 589.5,267.2 591.5,268.2 593.5,269.2 595.5,270.0 597.5,270.8 599.5,271.5 601.5,272.1 603.5,272.7 605.5,273.2 607.5,273.6 609.5,274.0 611.5,274.3 613.5,274.6 615.5,274.8 617.5,275.0 619.5,275.2 621.5,275.4 623.5,275.5 625.5,275.6 627.5,275.7 629.5,275.8 631.5,275.9 633.5,275.9 635.5,276.0 637.5,276.0 639.5,276.1 641.5,276.1 643.5,276.1 645.5,276.2 647.5,276.2 649.5,276.2 651.5,276.3 653.5,276.3 655.5,276.3 657.5,276.3 657.5,277.0 365.5,277.0 Z" fill="#f0d8ea" opacity="1"/>
<path d="M365.5,275.9 367.5,275.9 369.5,275.8 371.5,275.8 373.5,275.7 375.5,275.7 377.5,275.6 379.5,275.5 381.5,275.4 383.5,275.3 385.5,275.2 387.5,275.0 389.5,274.8 391.5,274.6 393.5,274.4 395.5,274.1 397.5,273.8 399.5,273.4 401.5,272.9 403.5,272.4 405.5,271.8 407.5,271.1 409.5,270.3 411.5,269.3 413.5,268.3 415.5,267.1 417.5,265.7 419.5,264.2 421.5,262.6 423.5,260.7 425.5,258.7 427.5,256.5 429.5,254.1 431.5,251.6 433.5,248.9 435.5,246.1 437.5,243.1 439.5,240.1 441.5,237.0 443.5,233.9 445.5,230.8 447.5,227.7 449.5,224.7 451.5,221.9 453.5,219.2 455.5,216.8 457.5,214.7 459.5,212.9 461.5,211.6 463.5,210.6 465.5,210.1 467.5,210.0 469.5,210.5 471.5,211.3 473.5,212.6 475.5,214.3 477.5,216.4 479.5,218.7 481.5,221.3 483.5,224.1 485.5,227.1 487.5,230.1 489.5,233.3 491.5,236.4 493.5,239.5 495.5,242.5 497.5,245.5 499.5,248.4 501.5,251.1 503.5,253.6 505.5,256.0 507.5,258.3 509.5,260.3 511.5,262.2 513.5,263.9 515.5,265.4 517.5,266.8 519.5,268.1 521.5,269.1 523.5,270.1 525.5,270.9 527.5,271.7 529.5,272.3 531.5,272.8 533.5,273.3 535.5,273.7 537.5,274.1 539.5,274.3 541.5,274.6 543.5,274.8 545.5,275.0 547.5,275.1 549.5,275.3 551.5,275.4 553.5,275.5 555.5,275.6 557.5,275.7 559.5,275.7 561.5,275.8 563.5,275.8 565.5,275.9 567.5,275.9 569.5,276.0 571.5,276.0 573.5,276.0 575.5,276.1 577.5,276.1 579.5,276.1 581.5,276.2 583.5,276.2 585.5,276.2 587.5,276.2 589.5,276.3 591.5,276.3 593.5,276.3 595.5,276.3 597.5,276.4 599.5,276.4 601.5,276.4 603.5,276.4 605.5,276.4 607.5,276.4 609.5,276.5 611.5,276.5 613.5,276.5 615.5,276.5 617.5,276.5 619.5,276.5 621.5,276.5 623.5,276.5 625.5,276.6 627.5,276.6 629.5,276.6 631.5,276.6 633.5,276.6 635.5,276.6 637.5,276.6 639.5,276.6 641.5,276.6 643.5,276.6 645.5,276.6 647.5,276.7 649.5,276.7 651.5,276.7 653.5,276.7 655.5,276.7 657.5,276.7 657.5,277.0 365.5,277.0 Z" fill="url(#g13)" opacity="1"/>
<path d="M365.5,276.9 367.5,276.9 369.5,276.8 371.5,276.8 373.5,276.8 375.5,276.8 377.5,276.8 379.5,276.8 381.5,276.8 383.5,276.8 385.5,276.8 387.5,276.8 389.5,276.8 391.5,276.8 393.5,276.8 395.5,276.8 397.5,276.8 399.5,276.8 401.5,276.8 403.5,276.8 405.5,276.8 407.5,276.8 409.5,276.7 411.5,276.7 413.5,276.7 415.5,276.7 417.5,276.7 419.5,276.7 421.5,276.7 423.5,276.7 425.5,276.7 427.5,276.7 429.5,276.7 431.5,276.6 433.5,276.6 435.5,276.6 437.5,276.6 439.5,276.6 441.5,276.6 443.5,276.6 445.5,276.5 447.5,276.5 449.5,276.5 451.5,276.5 453.5,276.4 455.5,276.4 457.5,276.3 459.5,276.3 461.5,276.2 463.5,276.2 465.5,276.1 467.5,276.0 469.5,275.9 471.5,275.8 473.5,275.6 475.5,275.4 477.5,275.2 479.5,275.0 481.5,274.7 483.5,274.3 485.5,273.9 487.5,273.5 489.5,273.0 491.5,272.4 493.5,271.8 495.5,271.1 497.5,270.3 499.5,269.4 501.5,268.4 503.5,267.4 505.5,266.2 507.5,265.0 509.5,263.7 511.5,262.4 513.5,260.9 515.5,259.4 517.5,257.9 519.5,256.3 521.5,254.7 523.5,253.1 525.5,251.6 527.5,250.1 529.5,248.6 531.5,247.2 533.5,246.0 535.5,244.9 537.5,243.9 539.5,243.1 541.5,242.6 543.5,242.2 545.5,242.0 547.5,242.1 549.5,242.3 551.5,242.8 553.5,243.5 555.5,244.4 557.5,245.4 559.5,246.6 561.5,247.9 563.5,249.3 565.5,250.8 567.5,252.3 569.5,253.9 571.5,255.5 573.5,257.1 575.5,258.6 577.5,260.2 579.5,261.6 581.5,263.0 583.5,264.4 585.5,265.6 587.5,266.8 589.5,267.9 591.5,268.9 593.5,269.9 595.5,270.7 597.5,271.4 599.5,272.1 601.5,272.7 603.5,273.3 605.5,273.7 607.5,274.1 609.5,274.5 611.5,274.8 613.5,275.1 615.5,275.3 617.5,275.5 619.5,275.7 621.5,275.8 623.5,275.9 625.5,276.0 627.5,276.1 629.5,276.2 631.5,276.3 633.5,276.3 635.5,276.4 637.5,276.4 639.5,276.4 641.5,276.5 643.5,276.5 645.5,276.5 647.5,276.5 649.5,276.6 651.5,276.6 653.5,276.6 655.5,276.6 657.5,276.6 657.5,277.0 365.5,277.0 Z" fill="url(#g14)" opacity="0.9"/>
<path d="M365.5,275.9 367.5,275.9 369.5,275.8 371.5,275.8 373.5,275.7 375.5,275.7 377.5,275.6 379.5,275.5 381.5,275.4 383.5,275.3 385.5,275.2 387.5,275.0 389.5,274.8 391.5,274.6 393.5,274.4 395.5,274.1 397.5,273.8 399.5,273.4 401.5,272.9 403.5,272.4 405.5,271.8 407.5,271.1 409.5,270.3 411.5,269.3 413.5,268.3 415.5,267.1 417.5,265.7 419.5,264.2 421.5,262.6 423.5,260.7 425.5,258.7 427.5,256.5 429.5,254.1 431.5,251.6 433.5,248.9 435.5,246.1 437.5,243.1 439.5,240.1 441.5,237.0 443.5,233.9 445.5,230.8 447.5,227.7 449.5,224.7 451.5,221.9 453.5,219.2 455.5,216.8 457.5,214.7 459.5,212.9 461.5,211.6 463.5,210.6 465.5,210.1 467.5,210.0 469.5,210.5 471.5,211.3 473.5,212.6 475.5,214.3 477.5,216.4 479.5,218.7 481.5,221.3 483.5,224.1 485.5,227.1 487.5,230.1 489.5,233.3 491.5,236.4 493.5,239.5 495.5,242.5 497.5,245.5 499.5,248.4 501.5,251.1 503.5,253.6 505.5,256.0 507.5,258.3 509.5,260.3 511.5,262.2 513.5,263.9 515.5,265.4 517.5,266.8 519.5,268.1 521.5,269.1 523.5,270.1 525.5,270.9 527.5,271.7 529.5,272.3 531.5,272.8 533.5,273.3 535.5,273.7 537.5,274.1 539.5,274.3 541.5,274.6 543.5,274.8 545.5,275.0 547.5,275.1 549.5,275.3 551.5,275.4 553.5,275.5 555.5,275.6 557.5,275.7 559.5,275.7 561.5,275.8 563.5,275.8 565.5,275.9 567.5,275.9 569.5,276.0 571.5,276.0 573.5,276.0 575.5,276.1 577.5,276.1 579.5,276.1 581.5,276.2 583.5,276.2 585.5,276.2 587.5,276.2 589.5,276.3 591.5,276.3 593.5,276.3 595.5,276.3 597.5,276.4 599.5,276.4 601.5,276.4 603.5,276.4 605.5,276.4 607.5,276.4 609.5,276.5 611.5,276.5 613.5,276.5 615.5,276.5 617.5,276.5 619.5,276.5 621.5,276.5 623.5,276.5 625.5,276.6 627.5,276.6 629.5,276.6 631.5,276.6 633.5,276.6 635.5,276.6 637.5,276.6 639.5,276.6 641.5,276.6 643.5,276.6 645.5,276.6 647.5,276.7 649.5,276.7 651.5,276.7 653.5,276.7 655.5,276.7 657.5,276.7" fill="none" stroke="#e888c8" stroke-width="1" opacity="1"/>
<path d="M365.5,276.9 367.5,276.9 369.5,276.8 371.5,276.8 373.5,276.8 375.5,276.8 377.5,276.8 379.5,276.8 381.5,276.8 383.5,276.8 385.5,276.8 387.5,276.8 389.5,276.8 391.5,276.8 393.5,276.8 395.5,276.8 397.5,276.8 399.5,276.8 401.5,276.8 403.5,276.8 405.5,276.8 407.5,276.8 409.5,276.7 411.5,276.7 413.5,276.7 415.5,276.7 417.5,276.7 419.5,276.7 421.5,276.7 423.5,276.7 425.5,276.7 427.5,276.7 429.5,276.7 431.5,276.6 433.5,276.6 435.5,276.6 437.5,276.6 439.5,276.6 441.5,276.6 443.5,276.6 445.5,276.5 447.5,276.5 449.5,276.5 451.5,276.5 453.5,276.4 455.5,276.4 457.5,276.3 459.5,276.3 461.5,276.2 463.5,276.2 465.5,276.1 467.5,276.0 469.5,275.9 471.5,275.8 473.5,275.6 475.5,275.4 477.5,275.2 479.5,275.0 481.5,274.7 483.5,274.3 485.5,273.9 487.5,273.5 489.5,273.0 491.5,272.4 493.5,271.8 495.5,271.1 497.5,270.3 499.5,269.4 501.5,268.4 503.5,267.4 505.5,266.2 507.5,265.0 509.5,263.7 511.5,262.4 513.5,260.9 515.5,259.4 517.5,257.9 519.5,256.3 521.5,254.7 523.5,253.1 525.5,251.6 527.5,250.1 529.5,248.6 531.5,247.2 533.5,246.0 535.5,244.9 537.5,243.9 539.5,243.1 541.5,242.6 543.5,242.2 545.5,242.0 547.5,242.1 549.5,242.3 551.5,242.8 553.5,243.5 555.5,244.4 557.5,245.4 559.5,246.6 561.5,247.9 563.5,249.3 565.5,250.8 567.5,252.3 569.5,253.9 571.5,255.5 573.5,257.1 575.5,258.6 577.5,260.2 579.5,261.6 581.5,263.0 583.5,264.4 585.5,265.6 587.5,266.8 589.5,267.9 591.5,268.9 593.5,269.9 595.5,270.7 597.5,271.4 599.5,272.1 601.5,272.7 603.5,273.3 605.5,273.7 607.5,274.1 609.5,274.5 611.5,274.8 613.5,275.1 615.5,275.3 617.5,275.5 619.5,275.7 621.5,275.8 623.5,275.9 625.5,276.0 627.5,276.1 629.5,276.2 631.5,276.3 633.5,276.3 635.5,276.4 637.5,276.4 639.5,276.4 641.5,276.5 643.5,276.5 645.5,276.5 647.5,276.5 649.5,276.6 651.5,276.6 653.5,276.6 655.5,276.6 657.5,276.6" fill="none" stroke="#b070e0" stroke-width="1" opacity="1"/>
<path d="M365.5,275.8 367.5,275.7 369.5,275.7 371.5,275.6 373.5,275.6 375.5,275.5 377.5,275.4 379.5,275.3 381.5,275.2 383.5,275.1 385.5,275.0 387.5,274.8 389.5,274.7 391.5,274.4 393.5,274.2 395.5,273.9 397.5,273.6 399.5,273.2 401.5,272.7 403.5,272.2 405.5,271.6 407.5,270.9 409.5,270.0 411.5,269.1 413.5,268.0 415.5,266.8 417.5,265.5 419.5,263.9 421.5,262.3 423.5,260.4 425.5,258.4 427.5,256.2 429.5,253.8 431.5,251.2 433.5,248.5 435.5,245.7 437.5,242.8 439.5,239.7 441.5,236.6 443.5,233.4 445.5,230.3 447.5,227.2 449.5,224.2 451.5,221.3 453.5,218.6 455.5,216.2 457.5,214.0 459.5,212.2 461.5,210.8 463.5,209.8 465.5,209.2 467.5,209.0 469.5,209.3 471.5,210.1 473.5,211.2 475.5,212.7 477.5,214.6 479.5,216.7 481.5,219.0 483.5,221.5 485.5,224.0 487.5,226.6 489.5,229.3 491.5,231.8 493.5,234.3 495.5,236.6 497.5,238.8 499.5,240.8 501.5,242.5 503.5,244.0 505.5,245.3 507.5,246.3 509.5,247.0 511.5,247.5 513.5,247.8 515.5,247.9 517.5,247.7 519.5,247.4 521.5,246.9 523.5,246.2 525.5,245.5 527.5,244.7 529.5,243.9 531.5,243.1 533.5,242.3 535.5,241.6 537.5,241.0 539.5,240.5 541.5,240.1 543.5,240.0 545.5,240.0 547.5,240.2 549.5,240.6 551.5,241.2 553.5,242.0 555.5,243.0 557.5,244.1 559.5,245.3 561.5,246.7 563.5,248.2 565.5,249.7 567.5,251.3 569.5,252.9 571.5,254.5 573.5,256.1 575.5,257.7 577.5,259.3 579.5,260.8 581.5,262.2 583.5,263.6 585.5,264.9 587.5,266.1 589.5,267.2 591.5,268.2 593.5,269.2 595.5,270.0 597.5,270.8 599.5,271.5 601.5,272.1 603.5,272.7 605.5,273.2 607.5,273.6 609.5,274.0 611.5,274.3 613.5,274.6 615.5,274.8 617.5,275.0 619.5,275.2 621.5,275.4 623.5,275.5 625.5,275.6 627.5,275.7 629.5,275.8 631.5,275.9 633.5,275.9 635.5,276.0 637.5,276.0 639.5,276.1 641.5,276.1 643.5,276.1 645.5,276.2 647.5,276.2 649.5,276.2 651.5,276.3 653.5,276.3 655.5,276.3 657.5,276.3" fill="none" stroke="#666" stroke-width="1" opacity="1"/>
<line x1="365.5" y1="277" x2="659" y2="277" stroke="#60a0b0" stroke-width="1.4" stroke-linecap="butt"/>
<path d="M365.5,357.7 367.5,357.7 369.5,357.6 371.5,357.6 373.5,357.6 375.5,357.6 377.5,357.5 379.5,357.5 381.5,357.4 383.5,357.4 385.5,357.3 387.5,357.3 389.5,357.2 391.5,357.1 393.5,357.0 395.5,356.9 397.5,356.7 399.5,356.5 401.5,356.3 403.5,356.1 405.5,355.8 407.5,355.5 409.5,355.1 411.5,354.6 413.5,354.1 415.5,353.5 417.5,352.9 419.5,352.1 421.5,351.3 423.5,350.4 425.5,349.3 427.5,348.2 429.5,346.9 431.5,345.6 433.5,344.1 435.5,342.5 437.5,340.8 439.5,339.1 441.5,337.2 443.5,335.2 445.5,333.2 447.5,331.1 449.5,329.0 451.5,326.9 453.5,324.8 455.5,322.7 457.5,320.6 459.5,318.7 461.5,316.8 463.5,315.1 465.5,313.5 467.5,312.1 469.5,310.8 471.5,309.8 473.5,309.0 475.5,308.4 477.5,308.0 479.5,307.9 481.5,308.0 483.5,308.2 485.5,308.7 487.5,309.4 489.5,310.1 491.5,311.1 493.5,312.1 495.5,313.1 497.5,314.3 499.5,315.4 501.5,316.5 503.5,317.7 505.5,318.7 507.5,319.8 509.5,320.7 511.5,321.6 513.5,322.4 515.5,323.1 517.5,323.7 519.5,324.2 521.5,324.6 523.5,324.9 525.5,325.1 527.5,325.3 529.5,325.4 531.5,325.4 533.5,325.4 535.5,325.3 537.5,325.3 539.5,325.2 541.5,325.1 543.5,325.1 545.5,325.1 547.5,325.1 549.5,325.1 551.5,325.2 553.5,325.4 555.5,325.6 557.5,325.9 559.5,326.3 561.5,326.7 563.5,327.2 565.5,327.7 567.5,328.4 569.5,329.1 571.5,329.8 573.5,330.6 575.5,331.4 577.5,332.3 579.5,333.2 581.5,334.2 583.5,335.1 585.5,336.1 587.5,337.1 589.5,338.1 591.5,339.1 593.5,340.1 595.5,341.1 597.5,342.0 599.5,343.0 601.5,343.9 603.5,344.8 605.5,345.7 607.5,346.5 609.5,347.4 611.5,348.1 613.5,348.9 615.5,349.6 617.5,350.2 619.5,350.9 621.5,351.5 623.5,352.0 625.5,352.5 627.5,353.0 629.5,353.5 631.5,353.9 633.5,354.3 635.5,354.6 637.5,354.9 639.5,355.2 641.5,355.5 643.5,355.8 645.5,356.0 647.5,356.2 649.5,356.4 651.5,356.5 653.5,356.7 655.5,356.8 657.5,356.9 657.5,358.2 365.5,358.2 Z" fill="url(#g15)" opacity="1"/>
<path d="M365.5,358.0 367.5,358.0 369.5,358.0 371.5,358.0 373.5,358.0 375.5,358.0 377.5,358.0 379.5,358.0 381.5,358.0 383.5,358.0 385.5,358.0 387.5,358.0 389.5,358.0 391.5,358.0 393.5,358.0 395.5,358.0 397.5,358.0 399.5,357.9 401.5,357.9 403.5,357.9 405.5,357.9 407.5,357.9 409.5,357.9 411.5,357.9 413.5,357.9 415.5,357.9 417.5,357.8 419.5,357.8 421.5,357.8 423.5,357.8 425.5,357.8 427.5,357.7 429.5,357.7 431.5,357.7 433.5,357.6 435.5,357.6 437.5,357.5 439.5,357.4 441.5,357.4 443.5,357.3 445.5,357.2 447.5,357.1 449.5,357.0 451.5,356.9 453.5,356.8 455.5,356.6 457.5,356.4 459.5,356.2 461.5,356.0 463.5,355.8 465.5,355.5 467.5,355.3 469.5,355.0 471.5,354.6 473.5,354.3 475.5,353.9 477.5,353.4 479.5,353.0 481.5,352.5 483.5,352.0 485.5,351.4 487.5,350.8 489.5,350.1 491.5,349.5 493.5,348.7 495.5,348.0 497.5,347.2 499.5,346.4 501.5,345.5 503.5,344.6 505.5,343.7 507.5,342.8 509.5,341.9 511.5,340.9 513.5,339.9 515.5,338.9 517.5,337.9 519.5,337.0 521.5,336.0 523.5,335.0 525.5,334.1 527.5,333.2 529.5,332.3 531.5,331.5 533.5,330.7 535.5,330.0 537.5,329.3 539.5,328.7 541.5,328.2 543.5,327.7 545.5,327.3 547.5,327.0 549.5,326.8 551.5,326.7 553.5,326.7 555.5,326.8 557.5,326.9 559.5,327.2 561.5,327.5 563.5,327.9 565.5,328.4 567.5,329.0 569.5,329.6 571.5,330.3 573.5,331.1 575.5,331.9 577.5,332.7 579.5,333.6 581.5,334.6 583.5,335.5 585.5,336.5 587.5,337.4 589.5,338.4 591.5,339.4 593.5,340.4 595.5,341.4 597.5,342.3 599.5,343.3 601.5,344.2 603.5,345.1 605.5,346.0 607.5,346.8 609.5,347.6 611.5,348.4 613.5,349.1 615.5,349.8 617.5,350.5 619.5,351.1 621.5,351.7 623.5,352.2 625.5,352.7 627.5,353.2 629.5,353.7 631.5,354.1 633.5,354.4 635.5,354.8 637.5,355.1 639.5,355.4 641.5,355.7 643.5,355.9 645.5,356.1 647.5,356.3 649.5,356.5 651.5,356.7 653.5,356.8 655.5,356.9 657.5,357.1 657.5,358.2 365.5,358.2 Z" fill="url(#g16)" opacity="1"/>
<path d="M365.5,357.8 367.5,357.8 369.5,357.8 371.5,357.8 373.5,357.8 375.5,357.7 377.5,357.7 379.5,357.7 381.5,357.6 383.5,357.6 385.5,357.6 387.5,357.5 389.5,357.4 391.5,357.3 393.5,357.2 395.5,357.1 397.5,357.0 399.5,356.8 401.5,356.6 403.5,356.4 405.5,356.1 407.5,355.8 409.5,355.4 411.5,354.9 413.5,354.5 415.5,353.9 417.5,353.2 419.5,352.5 421.5,351.7 423.5,350.8 425.5,349.8 427.5,348.7 429.5,347.5 431.5,346.1 433.5,344.7 435.5,343.2 437.5,341.5 439.5,339.8 441.5,338.0 443.5,336.1 445.5,334.2 447.5,332.2 449.5,330.2 451.5,328.2 453.5,326.2 455.5,324.3 457.5,322.4 459.5,320.6 461.5,319.0 463.5,317.5 465.5,316.1 467.5,315.0 469.5,314.1 471.5,313.4 473.5,312.9 475.5,312.7 477.5,312.8 479.5,313.1 481.5,313.7 483.5,314.5 485.5,315.5 487.5,316.8 489.5,318.2 491.5,319.8 493.5,321.5 495.5,323.3 497.5,325.3 499.5,327.2 501.5,329.2 503.5,331.2 505.5,333.2 507.5,335.2 509.5,337.1 511.5,338.9 513.5,340.7 515.5,342.4 517.5,343.9 519.5,345.4 521.5,346.8 523.5,348.1 525.5,349.2 527.5,350.3 529.5,351.3 531.5,352.1 533.5,352.9 535.5,353.6 537.5,354.2 539.5,354.7 541.5,355.2 543.5,355.6 545.5,355.9 547.5,356.2 549.5,356.5 551.5,356.7 553.5,356.9 555.5,357.0 557.5,357.2 559.5,357.3 561.5,357.4 563.5,357.5 565.5,357.5 567.5,357.6 569.5,357.6 571.5,357.7 573.5,357.7 575.5,357.7 577.5,357.8 579.5,357.8 581.5,357.8 583.5,357.8 585.5,357.8 587.5,357.8 589.5,357.9 591.5,357.9 593.5,357.9 595.5,357.9 597.5,357.9 599.5,357.9 601.5,357.9 603.5,357.9 605.5,357.9 607.5,357.9 609.5,358.0 611.5,358.0 613.5,358.0 615.5,358.0 617.5,358.0 619.5,358.0 621.5,358.0 623.5,358.0 625.5,358.0 627.5,358.0 629.5,358.0 631.5,358.0 633.5,358.0 635.5,358.0 637.5,358.0 639.5,358.0 641.5,358.0 643.5,358.0 645.5,358.0 647.5,358.0 649.5,358.1 651.5,358.1 653.5,358.1 655.5,358.1 657.5,358.1 657.5,358.2 365.5,358.2 Z" fill="url(#g17)" opacity="0.9"/>
<path d="M365.5,357.8 367.5,357.8 369.5,357.8 371.5,357.8 373.5,357.8 375.5,357.7 377.5,357.7 379.5,357.7 381.5,357.6 383.5,357.6 385.5,357.6 387.5,357.5 389.5,357.4 391.5,357.3 393.5,357.2 395.5,357.1 397.5,357.0 399.5,356.8 401.5,356.6 403.5,356.4 405.5,356.1 407.5,355.8 409.5,355.4 411.5,354.9 413.5,354.5 415.5,353.9 417.5,353.2 419.5,352.5 421.5,351.7 423.5,350.8 425.5,349.8 427.5,348.7 429.5,347.5 431.5,346.1 433.5,344.7 435.5,343.2 437.5,341.5 439.5,339.8 441.5,338.0 443.5,336.1 445.5,334.2 447.5,332.2 449.5,330.2 451.5,328.2 453.5,326.2 455.5,324.3 457.5,322.4 459.5,320.6 461.5,319.0 463.5,317.5 465.5,316.1 467.5,315.0 469.5,314.1 471.5,313.4 473.5,312.9 475.5,312.7 477.5,312.8 479.5,313.1 481.5,313.7 483.5,314.5 485.5,315.5 487.5,316.8 489.5,318.2 491.5,319.8 493.5,321.5 495.5,323.3 497.5,325.3 499.5,327.2 501.5,329.2 503.5,331.2 505.5,333.2 507.5,335.2 509.5,337.1 511.5,338.9 513.5,340.7 515.5,342.4 517.5,343.9 519.5,345.4 521.5,346.8 523.5,348.1 525.5,349.2 527.5,350.3 529.5,351.3 531.5,352.1 533.5,352.9 535.5,353.6 537.5,354.2 539.5,354.7 541.5,355.2 543.5,355.6 545.5,355.9 547.5,356.2 549.5,356.5 551.5,356.7 553.5,356.9 555.5,357.0 557.5,357.2 559.5,357.3 561.5,357.4 563.5,357.5 565.5,357.5 567.5,357.6 569.5,357.6 571.5,357.7 573.5,357.7 575.5,357.7 577.5,357.8 579.5,357.8 581.5,357.8 583.5,357.8 585.5,357.8 587.5,357.8 589.5,357.9 591.5,357.9 593.5,357.9 595.5,357.9 597.5,357.9 599.5,357.9 601.5,357.9 603.5,357.9 605.5,357.9 607.5,357.9 609.5,358.0 611.5,358.0 613.5,358.0 615.5,358.0 617.5,358.0 619.5,358.0 621.5,358.0 623.5,358.0 625.5,358.0 627.5,358.0 629.5,358.0 631.5,358.0 633.5,358.0 635.5,358.0 637.5,358.0 639.5,358.0 641.5,358.0 643.5,358.0 645.5,358.0 647.5,358.0 649.5,358.1 651.5,358.1 653.5,358.1 655.5,358.1 657.5,358.1" fill="none" stroke="#90c090" stroke-width="1" opacity="1"/>
<path d="M365.5,358.0 367.5,358.0 369.5,358.0 371.5,358.0 373.5,358.0 375.5,358.0 377.5,358.0 379.5,358.0 381.5,358.0 383.5,358.0 385.5,358.0 387.5,358.0 389.5,358.0 391.5,358.0 393.5,358.0 395.5,358.0 397.5,358.0 399.5,357.9 401.5,357.9 403.5,357.9 405.5,357.9 407.5,357.9 409.5,357.9 411.5,357.9 413.5,357.9 415.5,357.9 417.5,357.8 419.5,357.8 421.5,357.8 423.5,357.8 425.5,357.8 427.5,357.7 429.5,357.7 431.5,357.7 433.5,357.6 435.5,357.6 437.5,357.5 439.5,357.4 441.5,357.4 443.5,357.3 445.5,357.2 447.5,357.1 449.5,357.0 451.5,356.9 453.5,356.8 455.5,356.6 457.5,356.4 459.5,356.2 461.5,356.0 463.5,355.8 465.5,355.5 467.5,355.3 469.5,355.0 471.5,354.6 473.5,354.3 475.5,353.9 477.5,353.4 479.5,353.0 481.5,352.5 483.5,352.0 485.5,351.4 487.5,350.8 489.5,350.1 491.5,349.5 493.5,348.7 495.5,348.0 497.5,347.2 499.5,346.4 501.5,345.5 503.5,344.6 505.5,343.7 507.5,342.8 509.5,341.9 511.5,340.9 513.5,339.9 515.5,338.9 517.5,337.9 519.5,337.0 521.5,336.0 523.5,335.0 525.5,334.1 527.5,333.2 529.5,332.3 531.5,331.5 533.5,330.7 535.5,330.0 537.5,329.3 539.5,328.7 541.5,328.2 543.5,327.7 545.5,327.3 547.5,327.0 549.5,326.8 551.5,326.7 553.5,326.7 555.5,326.8 557.5,326.9 559.5,327.2 561.5,327.5 563.5,327.9 565.5,328.4 567.5,329.0 569.5,329.6 571.5,330.3 573.5,331.1 575.5,331.9 577.5,332.7 579.5,333.6 581.5,334.6 583.5,335.5 585.5,336.5 587.5,337.4 589.5,338.4 591.5,339.4 593.5,340.4 595.5,341.4 597.5,342.3 599.5,343.3 601.5,344.2 603.5,345.1 605.5,346.0 607.5,346.8 609.5,347.6 611.5,348.4 613.5,349.1 615.5,349.8 617.5,350.5 619.5,351.1 621.5,351.7 623.5,352.2 625.5,352.7 627.5,353.2 629.5,353.7 631.5,354.1 633.5,354.4 635.5,354.8 637.5,355.1 639.5,355.4 641.5,355.7 643.5,355.9 645.5,356.1 647.5,356.3 649.5,356.5 651.5,356.7 653.5,356.8 655.5,356.9 657.5,357.1" fill="none" stroke="#a0c0d8" stroke-width="1" opacity="1"/>
<path d="M365.5,357.7 367.5,357.7 369.5,357.6 371.5,357.6 373.5,357.6 375.5,357.6 377.5,357.5 379.5,357.5 381.5,357.4 383.5,357.4 385.5,357.3 387.5,357.3 389.5,357.2 391.5,357.1 393.5,357.0 395.5,356.9 397.5,356.7 399.5,356.5 401.5,356.3 403.5,356.1 405.5,355.8 407.5,355.5 409.5,355.1 411.5,354.6 413.5,354.1 415.5,353.5 417.5,352.9 419.5,352.1 421.5,351.3 423.5,350.4 425.5,349.3 427.5,348.2 429.5,346.9 431.5,345.6 433.5,344.1 435.5,342.5 437.5,340.8 439.5,339.1 441.5,337.2 443.5,335.2 445.5,333.2 447.5,331.1 449.5,329.0 451.5,326.9 453.5,324.8 455.5,322.7 457.5,320.6 459.5,318.7 461.5,316.8 463.5,315.1 465.5,313.5 467.5,312.1 469.5,310.8 471.5,309.8 473.5,309.0 475.5,308.4 477.5,308.0 479.5,307.9 481.5,308.0 483.5,308.2 485.5,308.7 487.5,309.4 489.5,310.1 491.5,311.1 493.5,312.1 495.5,313.1 497.5,314.3 499.5,315.4 501.5,316.5 503.5,317.7 505.5,318.7 507.5,319.8 509.5,320.7 511.5,321.6 513.5,322.4 515.5,323.1 517.5,323.7 519.5,324.2 521.5,324.6 523.5,324.9 525.5,325.1 527.5,325.3 529.5,325.4 531.5,325.4 533.5,325.4 535.5,325.3 537.5,325.3 539.5,325.2 541.5,325.1 543.5,325.1 545.5,325.1 547.5,325.1 549.5,325.1 551.5,325.2 553.5,325.4 555.5,325.6 557.5,325.9 559.5,326.3 561.5,326.7 563.5,327.2 565.5,327.7 567.5,328.4 569.5,329.1 571.5,329.8 573.5,330.6 575.5,331.4 577.5,332.3 579.5,333.2 581.5,334.2 583.5,335.1 585.5,336.1 587.5,337.1 589.5,338.1 591.5,339.1 593.5,340.1 595.5,341.1 597.5,342.0 599.5,343.0 601.5,343.9 603.5,344.8 605.5,345.7 607.5,346.5 609.5,347.4 611.5,348.1 613.5,348.9 615.5,349.6 617.5,350.2 619.5,350.9 621.5,351.5 623.5,352.0 625.5,352.5 627.5,353.0 629.5,353.5 631.5,353.9 633.5,354.3 635.5,354.6 637.5,354.9 639.5,355.2 641.5,355.5 643.5,355.8 645.5,356.0 647.5,356.2 649.5,356.4 651.5,356.5 653.5,356.7 655.5,356.8 657.5,356.9" fill="none" stroke="#a070e0" stroke-width="1.3" opacity="1"/>
<line x1="365.5" y1="358.2" x2="659" y2="358.2" stroke="#6060c8" stroke-width="1.4" stroke-linecap="butt"/>
<line x1="365.5" y1="359.7" x2="659" y2="359.7" stroke="#50b0a0" stroke-width="1.2" stroke-linecap="butt"/>
<line x1="463.7" y1="203" x2="463.7" y2="294" stroke="#1898e0" stroke-width="2.2" stroke-dasharray="3.8,1.9" stroke-linecap="butt"/>
<line x1="548" y1="212" x2="548" y2="290" stroke="#8b1a1a" stroke-width="2" stroke-dasharray="2.6,1.4" stroke-linecap="butt"/>
<line x1="475.7" y1="283.6" x2="475.7" y2="354.3" stroke="#1898e0" stroke-width="2.2" stroke-dasharray="3.8,1.9" stroke-linecap="butt"/>
<line x1="553.7" y1="276" x2="553.7" y2="341" stroke="#8b1a1a" stroke-width="2" stroke-dasharray="2.6,1.4" stroke-linecap="butt"/>
<line x1="365.5" y1="203.2" x2="659" y2="203.2" stroke="#333" stroke-width="1.2" stroke-linecap="butt"/>
<line x1="365.5" y1="203.2" x2="365.5" y2="362.7" stroke="#333" stroke-width="1.2" stroke-linecap="butt"/>
<line x1="659" y1="203.2" x2="659" y2="362.7" stroke="#333" stroke-width="1.2" stroke-linecap="butt"/>
<line x1="364.9" y1="362.7" x2="659.6" y2="362.7" stroke="#222" stroke-width="1.7" stroke-linecap="butt"/>
<line x1="372.5" y1="362.7" x2="372.5" y2="365.2" stroke="#333" stroke-width="1.2" stroke-linecap="butt"/>
<line x1="505.5" y1="362.7" x2="505.5" y2="365.2" stroke="#333" stroke-width="1.2" stroke-linecap="butt"/>
<line x1="638.75" y1="362.7" x2="638.75" y2="365.2" stroke="#333" stroke-width="1.2" stroke-linecap="butt"/>
<line x1="439" y1="362.7" x2="439" y2="365.2" stroke="#333" stroke-width="1.2" stroke-linecap="butt"/>
<line x1="572" y1="362.7" x2="572" y2="365.2" stroke="#333" stroke-width="1.2" stroke-linecap="butt"/>
<text x="372.5" y="376.3" font-family="Liberation Serif" font-size="12" font-weight="bold" text-anchor="middle" fill="#111" font-style="normal" stroke="#111" stroke-width="0.3">166</text>
<text x="505.5" y="376.3" font-family="Liberation Serif" font-size="12" font-weight="bold" text-anchor="middle" fill="#111" font-style="normal" stroke="#111" stroke-width="0.3">168</text>
<text x="638.75" y="376.3" font-family="Liberation Serif" font-size="12" font-weight="bold" text-anchor="middle" fill="#111" font-style="normal" stroke="#111" stroke-width="0.3">170</text>
<text x="508" y="389.8" font-family="Liberation Serif" font-size="14" font-weight="bold" fill="#111" stroke="#111" stroke-width="0.3"><tspan font-style="italic">E</tspan> (eV)</text>
<text x="376" y="225" font-family="Liberation Sans" font-size="20" font-weight="bold" text-anchor="start" fill="#111" font-style="normal" stroke="#111" stroke-width="0.7">d</text>
<text x="641.2" y="222.8" font-family="Liberation Serif" font-size="14.5" font-weight="bold" text-anchor="end" fill="#111" font-style="normal" stroke="#111" stroke-width="0.3">S 2p</text>
<path d="M86.0,444.0 92.0,434.5" fill="none" stroke="#4e4e4e" stroke-width="4.4" stroke-linecap="round" stroke-linejoin="round"/>
<path d="M86.0,444.0 92.0,434.5" fill="none" stroke="#767676" stroke-width="1.7600000000000002" stroke-linecap="round" stroke-linejoin="round"/>
<path d="M92.0,434.5 98.0,425.0" fill="none" stroke="#ecc428" stroke-width="4.4" stroke-linecap="round" stroke-linejoin="round"/>
<path d="M92.0,434.5 98.0,425.0" fill="none" stroke="#fae678" stroke-width="1.7600000000000002" stroke-linecap="round" stroke-linejoin="round"/>
<path d="M98.0,425.0 92.5,417.5" fill="none" stroke="#ecc428" stroke-width="5" stroke-linecap="round" stroke-linejoin="round"/>
<path d="M98.0,425.0 92.5,417.5" fill="none" stroke="#fae678" stroke-width="2.0" stroke-linecap="round" stroke-linejoin="round"/>
<path d="M92.5,417.5 87.0,410.0" fill="none" stroke="#b00000" stroke-width="5" stroke-linecap="round" stroke-linejoin="round"/>
<path d="M92.5,417.5 87.0,410.0" fill="none" stroke="#f03030" stroke-width="2.0" stroke-linecap="round" stroke-linejoin="round"/>
<path d="M98.0,425.0 106.5,425.0" fill="none" stroke="#ecc428" stroke-width="5" stroke-linecap="round" stroke-linejoin="round"/>
<path d="M98.0,425.0 106.5,425.0" fill="none" stroke="#fae678" stroke-width="2.0" stroke-linecap="round" stroke-linejoin="round"/>
<path d="M106.5,425.0 115.0,425.0" fill="none" stroke="#b00000" stroke-width="5" stroke-linecap="round" stroke-linejoin="round"/>
<path d="M106.5,425.0 115.0,425.0" fill="none" stroke="#f03030" stroke-width="2.0" stroke-linecap="round" stroke-linejoin="round"/>
<path d="M98.0,425.0 101.0,427.0" fill="none" stroke="#ecc428" stroke-width="5" stroke-linecap="round" stroke-linejoin="round"/>
<path d="M98.0,425.0 101.0,427.0" fill="none" stroke="#fae678" stroke-width="2.0" stroke-linecap="round" stroke-linejoin="round"/>
<path d="M101.0,427.0 104.0,429.0" fill="none" stroke="#b00000" stroke-width="5" stroke-linecap="round" stroke-linejoin="round"/>
<path d="M101.0,427.0 104.0,429.0" fill="none" stroke="#f03030" stroke-width="2.0" stroke-linecap="round" stroke-linejoin="round"/>
<path d="M86.0,445.0 67.0,445.0 57.3,460.7 66.7,475.5 86.0,475.5 96.3,460.5 Z" fill="none" stroke="#4e4e4e" stroke-width="4.4" stroke-linecap="round" stroke-linejoin="round"/>
<path d="M86.0,445.0 67.0,445.0 57.3,460.7 66.7,475.5 86.0,475.5 96.3,460.5 Z" fill="none" stroke="#767676" stroke-width="1.7600000000000002" stroke-linecap="round" stroke-linejoin="round"/>
<path d="M86.0,476.0 120.0,482.5" fill="none" stroke="#4e4e4e" stroke-width="4.4" stroke-linecap="round" stroke-linejoin="round"/>
<path d="M86.0,476.0 120.0,482.5" fill="none" stroke="#767676" stroke-width="1.7600000000000002" stroke-linecap="round" stroke-linejoin="round"/>
<path d="M90.0,480.0 120.0,485.5" fill="none" stroke="#4e4e4e" stroke-width="4.4" stroke-linecap="round" stroke-linejoin="round"/>
<path d="M90.0,480.0 120.0,485.5" fill="none" stroke="#767676" stroke-width="1.7600000000000002" stroke-linecap="round" stroke-linejoin="round"/>
<path d="M120.0,483.0 128.5,483.8" fill="none" stroke="#4e4e4e" stroke-width="4.4" stroke-linecap="round" stroke-linejoin="round"/>
<path d="M120.0,483.0 128.5,483.8" fill="none" stroke="#767676" stroke-width="1.7600000000000002" stroke-linecap="round" stroke-linejoin="round"/>
<path d="M128.5,483.8 137.0,484.5" fill="none" stroke="#8484d0" stroke-width="4.4" stroke-linecap="round" stroke-linejoin="round"/>
<path d="M128.5,483.8 137.0,484.5" fill="none" stroke="#b4b4f0" stroke-width="1.7600000000000002" stroke-linecap="round" stroke-linejoin="round"/>
<path d="M137.0,484.5 153.5,486.2" fill="none" stroke="#8484d0" stroke-width="4.4" stroke-linecap="round" stroke-linejoin="round"/>
<path d="M137.0,484.5 153.5,486.2" fill="none" stroke="#b4b4f0" stroke-width="1.7600000000000002" stroke-linecap="round" stroke-linejoin="round"/>
<path d="M153.5,486.2 170.0,488.0" fill="none" stroke="#8484d0" stroke-width="4.4" stroke-linecap="round" stroke-linejoin="round"/>
<path d="M153.5,486.2 170.0,488.0" fill="none" stroke="#b4b4f0" stroke-width="1.7600000000000002" stroke-linecap="round" stroke-linejoin="round"/>
<path d="M150.0,491.0 170.0,493.0" fill="none" stroke="#4e4e4e" stroke-width="4.4" stroke-linecap="round" stroke-linejoin="round"/>
<path d="M150.0,491.0 170.0,493.0" fill="none" stroke="#767676" stroke-width="1.7600000000000002" stroke-linecap="round" stroke-linejoin="round"/>
<path d="M170.0,488.0 188.0,487.0 202.0,473.0 195.0,455.0 191.0,447.0" fill="none" stroke="#4e4e4e" stroke-width="4.4" stroke-linecap="round" stroke-linejoin="round"/>
<path d="M170.0,488.0 188.0,487.0 202.0,473.0 195.0,455.0 191.0,447.0" fill="none" stroke="#767676" stroke-width="1.7600000000000002" stroke-linecap="round" stroke-linejoin="round"/>
<path d="M159.0,504.0 153.0,495.0" fill="none" stroke="#4e4e4e" stroke-width="4.4" stroke-linecap="round" stroke-linejoin="round"/>
<path d="M159.0,504.0 153.0,495.0" fill="none" stroke="#767676" stroke-width="1.7600000000000002" stroke-linecap="round" stroke-linejoin="round"/>
<path d="M153.0,495.0 147.0,486.0" fill="none" stroke="#ecc428" stroke-width="4.4" stroke-linecap="round" stroke-linejoin="round"/>
<path d="M153.0,495.0 147.0,486.0" fill="none" stroke="#fae678" stroke-width="1.7600000000000002" stroke-linecap="round" stroke-linejoin="round"/>
<path d="M147.0,486.0 143.5,481.5" fill="none" stroke="#ecc428" stroke-width="5" stroke-linecap="round" stroke-linejoin="round"/>
<path d="M147.0,486.0 143.5,481.5" fill="none" stroke="#fae678" stroke-width="2.0" stroke-linecap="round" stroke-linejoin="round"/>
<path d="M143.5,481.5 140.0,477.0" fill="none" stroke="#b00000" stroke-width="5" stroke-linecap="round" stroke-linejoin="round"/>
<path d="M143.5,481.5 140.0,477.0" fill="none" stroke="#f03030" stroke-width="2.0" stroke-linecap="round" stroke-linejoin="round"/>
<path d="M147.0,486.0 153.0,480.0" fill="none" stroke="#ecc428" stroke-width="5" stroke-linecap="round" stroke-linejoin="round"/>
<path d="M147.0,486.0 153.0,480.0" fill="none" stroke="#fae678" stroke-width="2.0" stroke-linecap="round" stroke-linejoin="round"/>
<path d="M153.0,480.0 159.0,474.0" fill="none" stroke="#b00000" stroke-width="5" stroke-linecap="round" stroke-linejoin="round"/>
<path d="M153.0,480.0 159.0,474.0" fill="none" stroke="#f03030" stroke-width="2.0" stroke-linecap="round" stroke-linejoin="round"/>
<path d="M147.0,486.0 150.0,480.5" fill="none" stroke="#ecc428" stroke-width="5" stroke-linecap="round" stroke-linejoin="round"/>
<path d="M147.0,486.0 150.0,480.5" fill="none" stroke="#fae678" stroke-width="2.0" stroke-linecap="round" stroke-linejoin="round"/>
<path d="M150.0,480.5 153.0,475.0" fill="none" stroke="#b00000" stroke-width="5" stroke-linecap="round" stroke-linejoin="round"/>
<path d="M150.0,480.5 153.0,475.0" fill="none" stroke="#f03030" stroke-width="2.0" stroke-linecap="round" stroke-linejoin="round"/>
<path d="M147.0,486.0 137.5,489.5" fill="none" stroke="#ecc428" stroke-width="5" stroke-linecap="round" stroke-linejoin="round"/>
<path d="M147.0,486.0 137.5,489.5" fill="none" stroke="#fae678" stroke-width="2.0" stroke-linecap="round" stroke-linejoin="round"/>
<path d="M137.5,489.5 128.0,493.0" fill="none" stroke="#b00000" stroke-width="5" stroke-linecap="round" stroke-linejoin="round"/>
<path d="M137.5,489.5 128.0,493.0" fill="none" stroke="#f03030" stroke-width="2.0" stroke-linecap="round" stroke-linejoin="round"/>
<path d="M147.0,486.0 141.5,490.5" fill="none" stroke="#ecc428" stroke-width="5" stroke-linecap="round" stroke-linejoin="round"/>
<path d="M147.0,486.0 141.5,490.5" fill="none" stroke="#fae678" stroke-width="2.0" stroke-linecap="round" stroke-linejoin="round"/>
<path d="M141.5,490.5 136.0,495.0" fill="none" stroke="#b00000" stroke-width="5" stroke-linecap="round" stroke-linejoin="round"/>
<path d="M141.5,490.5 136.0,495.0" fill="none" stroke="#f03030" stroke-width="2.0" stroke-linecap="round" stroke-linejoin="round"/>
<path d="M159.0,504.0 177.5,501.0 190.0,514.3 181.2,532.0 162.8,534.0 151.8,521.0 Z" fill="none" stroke="#4e4e4e" stroke-width="4.4" stroke-linecap="round" stroke-linejoin="round"/>
<path d="M159.0,504.0 177.5,501.0 190.0,514.3 181.2,532.0 162.8,534.0 151.8,521.0 Z" fill="none" stroke="#767676" stroke-width="1.7600000000000002" stroke-linecap="round" stroke-linejoin="round"/>
<path d="M156.0,536.0 177.0,535.0 193.0,547.0 185.0,562.0 165.0,560.0 156.0,548.0 Z" fill="none" stroke="#4e4e4e" stroke-width="4.4" stroke-linecap="round" stroke-linejoin="round"/>
<path d="M156.0,536.0 177.0,535.0 193.0,547.0 185.0,562.0 165.0,560.0 156.0,548.0 Z" fill="none" stroke="#767676" stroke-width="1.7600000000000002" stroke-linecap="round" stroke-linejoin="round"/>
<path d="M190.7,546.6 212.0,546.6 223.8,559.5 214.0,575.0 194.4,574.5 184.0,561.0 Z" fill="none" stroke="#4e4e4e" stroke-width="4.4" stroke-linecap="round" stroke-linejoin="round"/>
<path d="M190.7,546.6 212.0,546.6 223.8,559.5 214.0,575.0 194.4,574.5 184.0,561.0 Z" fill="none" stroke="#767676" stroke-width="1.7600000000000002" stroke-linecap="round" stroke-linejoin="round"/>
<path d="M163.0,549.0 215.0,551.0" fill="none" stroke="#4e4e4e" stroke-width="4.4" stroke-linecap="round" stroke-linejoin="round"/>
<path d="M163.0,549.0 215.0,551.0" fill="none" stroke="#767676" stroke-width="1.7600000000000002" stroke-linecap="round" stroke-linejoin="round"/>
<path d="M165.0,553.5 213.0,555.0" fill="none" stroke="#4e4e4e" stroke-width="4.4" stroke-linecap="round" stroke-linejoin="round"/>
<path d="M165.0,553.5 213.0,555.0" fill="none" stroke="#767676" stroke-width="1.7600000000000002" stroke-linecap="round" stroke-linejoin="round"/>
<path d="M88.4,525.3 99.0,525.3" fill="none" stroke="#4e4e4e" stroke-width="4.4" stroke-linecap="round" stroke-linejoin="round"/>
<path d="M88.4,525.3 99.0,525.3" fill="none" stroke="#767676" stroke-width="1.7600000000000002" stroke-linecap="round" stroke-linejoin="round"/>
<path d="M99.0,525.3 104.5,526.4" fill="none" stroke="#4e4e4e" stroke-width="4.4" stroke-linecap="round" stroke-linejoin="round"/>
<path d="M99.0,525.3 104.5,526.4" fill="none" stroke="#767676" stroke-width="1.7600000000000002" stroke-linecap="round" stroke-linejoin="round"/>
<path d="M104.5,526.4 110.0,527.5" fill="none" stroke="#8484d0" stroke-width="4.4" stroke-linecap="round" stroke-linejoin="round"/>
<path d="M104.5,526.4 110.0,527.5" fill="none" stroke="#b4b4f0" stroke-width="1.7600000000000002" stroke-linecap="round" stroke-linejoin="round"/>
<path d="M110.0,527.5 125.0,529.8" fill="none" stroke="#8484d0" stroke-width="4.4" stroke-linecap="round" stroke-linejoin="round"/>
<path d="M110.0,527.5 125.0,529.8" fill="none" stroke="#b4b4f0" stroke-width="1.7600000000000002" stroke-linecap="round" stroke-linejoin="round"/>
<path d="M125.0,529.8 140.0,532.0" fill="none" stroke="#4e4e4e" stroke-width="4.4" stroke-linecap="round" stroke-linejoin="round"/>
<path d="M125.0,529.8 140.0,532.0" fill="none" stroke="#767676" stroke-width="1.7600000000000002" stroke-linecap="round" stroke-linejoin="round"/>
<path d="M112.0,531.0 140.0,535.5" fill="none" stroke="#4e4e4e" stroke-width="4.4" stroke-linecap="round" stroke-linejoin="round"/>
<path d="M112.0,531.0 140.0,535.5" fill="none" stroke="#767676" stroke-width="1.7600000000000002" stroke-linecap="round" stroke-linejoin="round"/>
<path d="M140.0,532.0 142.0,534.5" fill="none" stroke="#4e4e4e" stroke-width="4.4" stroke-linecap="round" stroke-linejoin="round"/>
<path d="M140.0,532.0 142.0,534.5" fill="none" stroke="#767676" stroke-width="1.7600000000000002" stroke-linecap="round" stroke-linejoin="round"/>
<path d="M142.0,534.5 144.0,537.0" fill="none" stroke="#8484d0" stroke-width="4.4" stroke-linecap="round" stroke-linejoin="round"/>
<path d="M142.0,534.5 144.0,537.0" fill="none" stroke="#b4b4f0" stroke-width="1.7600000000000002" stroke-linecap="round" stroke-linejoin="round"/>
<path d="M144.0,537.0 151.0,538.7" fill="none" stroke="#8484d0" stroke-width="4.4" stroke-linecap="round" stroke-linejoin="round"/>
<path d="M144.0,537.0 151.0,538.7" fill="none" stroke="#b4b4f0" stroke-width="1.7600000000000002" stroke-linecap="round" stroke-linejoin="round"/>
<path d="M151.0,538.7 158.0,540.4" fill="none" stroke="#4e4e4e" stroke-width="4.4" stroke-linecap="round" stroke-linejoin="round"/>
<path d="M151.0,538.7 158.0,540.4" fill="none" stroke="#767676" stroke-width="1.7600000000000002" stroke-linecap="round" stroke-linejoin="round"/>
<path d="M84.7,528.3 78.5,545.5 73.8,567.5 86.3,561.2 78.5,545.5" fill="none" stroke="#4e4e4e" stroke-width="4.4" stroke-linecap="round" stroke-linejoin="round"/>
<path d="M84.7,528.3 78.5,545.5 73.8,567.5 86.3,561.2 78.5,545.5" fill="none" stroke="#767676" stroke-width="1.7600000000000002" stroke-linecap="round" stroke-linejoin="round"/>
<path d="M76.0,556.0 86.0,561.0" fill="none" stroke="#4e4e4e" stroke-width="4.4" stroke-linecap="round" stroke-linejoin="round"/>
<path d="M76.0,556.0 86.0,561.0" fill="none" stroke="#767676" stroke-width="1.7600000000000002" stroke-linecap="round" stroke-linejoin="round"/>
<path d="M82.0,527.0 91.0,525.0" fill="none" stroke="#4e4e4e" stroke-width="4.4" stroke-linecap="round" stroke-linejoin="round"/>
<path d="M82.0,527.0 91.0,525.0" fill="none" stroke="#767676" stroke-width="1.7600000000000002" stroke-linecap="round" stroke-linejoin="round"/>
<path d="M214.0,575.0 219.8,583.0" fill="none" stroke="#4e4e4e" stroke-width="4.4" stroke-linecap="round" stroke-linejoin="round"/>
<path d="M214.0,575.0 219.8,583.0" fill="none" stroke="#767676" stroke-width="1.7600000000000002" stroke-linecap="round" stroke-linejoin="round"/>
<path d="M219.8,583.0 225.7,591.0" fill="none" stroke="#ecc428" stroke-width="4.4" stroke-linecap="round" stroke-linejoin="round"/>
<path d="M219.8,583.0 225.7,591.0" fill="none" stroke="#fae678" stroke-width="1.7600000000000002" stroke-linecap="round" stroke-linejoin="round"/>
<path d="M225.7,591.0 236.3,588.9" fill="none" stroke="#ecc428" stroke-width="5" stroke-linecap="round" stroke-linejoin="round"/>
<path d="M225.7,591.0 236.3,588.9" fill="none" stroke="#fae678" stroke-width="2.0" stroke-linecap="round" stroke-linejoin="round"/>
<path d="M236.3,588.9 247.0,586.8" fill="none" stroke="#b00000" stroke-width="5" stroke-linecap="round" stroke-linejoin="round"/>
<path d="M236.3,588.9 247.0,586.8" fill="none" stroke="#f03030" stroke-width="2.0" stroke-linecap="round" stroke-linejoin="round"/>
<path d="M225.7,591.0 219.2,595.4" fill="none" stroke="#ecc428" stroke-width="5" stroke-linecap="round" stroke-linejoin="round"/>
<path d="M225.7,591.0 219.2,595.4" fill="none" stroke="#fae678" stroke-width="2.0" stroke-linecap="round" stroke-linejoin="round"/>
<path d="M219.2,595.4 212.8,599.7" fill="none" stroke="#b00000" stroke-width="5" stroke-linecap="round" stroke-linejoin="round"/>
<path d="M219.2,595.4 212.8,599.7" fill="none" stroke="#f03030" stroke-width="2.0" stroke-linecap="round" stroke-linejoin="round"/>
<path d="M225.7,591.0 225.1,599.6" fill="none" stroke="#ecc428" stroke-width="5" stroke-linecap="round" stroke-linejoin="round"/>
<path d="M225.7,591.0 225.1,599.6" fill="none" stroke="#fae678" stroke-width="2.0" stroke-linecap="round" stroke-linejoin="round"/>
<path d="M225.1,599.6 224.6,608.3" fill="none" stroke="#b00000" stroke-width="5" stroke-linecap="round" stroke-linejoin="round"/>
<path d="M225.1,599.6 224.6,608.3" fill="none" stroke="#f03030" stroke-width="2.0" stroke-linecap="round" stroke-linejoin="round"/>
<path d="M212.0,546.6 222.7,535.8" fill="none" stroke="#4e4e4e" stroke-width="4.4" stroke-linecap="round" stroke-linejoin="round"/>
<path d="M212.0,546.6 222.7,535.8" fill="none" stroke="#767676" stroke-width="1.7600000000000002" stroke-linecap="round" stroke-linejoin="round"/>
<path d="M225.7,503.0 243.6,505.0 248.6,517.9 237.7,532.9 221.7,535.8 215.7,519.9 Z" fill="none" stroke="#4e4e4e" stroke-width="4.4" stroke-linecap="round" stroke-linejoin="round"/>
<path d="M225.7,503.0 243.6,505.0 248.6,517.9 237.7,532.9 221.7,535.8 215.7,519.9 Z" fill="none" stroke="#767676" stroke-width="1.7600000000000002" stroke-linecap="round" stroke-linejoin="round"/>
<path d="M228.0,530.0 242.0,507.0" fill="none" stroke="#4e4e4e" stroke-width="4.4" stroke-linecap="round" stroke-linejoin="round"/>
<path d="M228.0,530.0 242.0,507.0" fill="none" stroke="#767676" stroke-width="1.7600000000000002" stroke-linecap="round" stroke-linejoin="round"/>
<path d="M234.0,530.0 246.0,510.0" fill="none" stroke="#4e4e4e" stroke-width="4.4" stroke-linecap="round" stroke-linejoin="round"/>
<path d="M234.0,530.0 246.0,510.0" fill="none" stroke="#767676" stroke-width="1.7600000000000002" stroke-linecap="round" stroke-linejoin="round"/>
<path d="M216.0,520.0 248.6,517.9" fill="none" stroke="#4e4e4e" stroke-width="4.4" stroke-linecap="round" stroke-linejoin="round"/>
<path d="M216.0,520.0 248.6,517.9" fill="none" stroke="#767676" stroke-width="1.7600000000000002" stroke-linecap="round" stroke-linejoin="round"/>
<path d="M240.9,500.0 243.6,505.0" fill="none" stroke="#4e4e4e" stroke-width="4.4" stroke-linecap="round" stroke-linejoin="round"/>
<path d="M240.9,500.0 243.6,505.0" fill="none" stroke="#767676" stroke-width="1.7600000000000002" stroke-linecap="round" stroke-linejoin="round"/>
<path d="M271.7,421.6 283.3,426.7 274.3,440.9 260.1,443.4 258.9,456.0" fill="none" stroke="#4e4e4e" stroke-width="4.4" stroke-linecap="round" stroke-linejoin="round"/>
<path d="M271.7,421.6 283.3,426.7 274.3,440.9 260.1,443.4 258.9,456.0" fill="none" stroke="#767676" stroke-width="1.7600000000000002" stroke-linecap="round" stroke-linejoin="round"/>
<path d="M274.3,440.9 282.0,452.4 270.4,460.1" fill="none" stroke="#4e4e4e" stroke-width="4.4" stroke-linecap="round" stroke-linejoin="round"/>
<path d="M274.3,440.9 282.0,452.4 270.4,460.1" fill="none" stroke="#767676" stroke-width="1.7600000000000002" stroke-linecap="round" stroke-linejoin="round"/>
<path d="M260.1,443.4 282.0,452.4" fill="none" stroke="#4e4e4e" stroke-width="4.4" stroke-linecap="round" stroke-linejoin="round"/>
<path d="M260.1,443.4 282.0,452.4" fill="none" stroke="#767676" stroke-width="1.7600000000000002" stroke-linecap="round" stroke-linejoin="round"/>
<path d="M258.9,458.9 251.1,469.1 247.3,478.1 253.7,487.1 261.4,484.6 269.1,469.1 270.4,460.1 Z" fill="none" stroke="#4e4e4e" stroke-width="4.4" stroke-linecap="round" stroke-linejoin="round"/>
<path d="M258.9,458.9 251.1,469.1 247.3,478.1 253.7,487.1 261.4,484.6 269.1,469.1 270.4,460.1 Z" fill="none" stroke="#767676" stroke-width="1.7600000000000002" stroke-linecap="round" stroke-linejoin="round"/>
<path d="M254.0,479.0 263.0,466.0" fill="none" stroke="#4e4e4e" stroke-width="4.4" stroke-linecap="round" stroke-linejoin="round"/>
<path d="M254.0,479.0 263.0,466.0" fill="none" stroke="#767676" stroke-width="1.7600000000000002" stroke-linecap="round" stroke-linejoin="round"/>
<path d="M258.0,481.0 266.0,469.0" fill="none" stroke="#4e4e4e" stroke-width="4.4" stroke-linecap="round" stroke-linejoin="round"/>
<path d="M258.0,481.0 266.0,469.0" fill="none" stroke="#767676" stroke-width="1.7600000000000002" stroke-linecap="round" stroke-linejoin="round"/>
<path d="M251.0,470.0 269.0,469.0" fill="none" stroke="#4e4e4e" stroke-width="4.4" stroke-linecap="round" stroke-linejoin="round"/>
<path d="M251.0,470.0 269.0,469.0" fill="none" stroke="#767676" stroke-width="1.7600000000000002" stroke-linecap="round" stroke-linejoin="round"/>
<path d="M256.0,459.0 262.0,459.0" fill="none" stroke="#8484d0" stroke-width="4.4" stroke-linecap="round" stroke-linejoin="round"/>
<path d="M256.0,459.0 262.0,459.0" fill="none" stroke="#b4b4f0" stroke-width="1.7600000000000002" stroke-linecap="round" stroke-linejoin="round"/>
<path d="M266.0,460.0 271.0,463.0" fill="none" stroke="#8484d0" stroke-width="4.4" stroke-linecap="round" stroke-linejoin="round"/>
<path d="M266.0,460.0 271.0,463.0" fill="none" stroke="#b4b4f0" stroke-width="1.7600000000000002" stroke-linecap="round" stroke-linejoin="round"/>
<path d="M252.0,484.0 258.0,487.0" fill="none" stroke="#8484d0" stroke-width="4.4" stroke-linecap="round" stroke-linejoin="round"/>
<path d="M252.0,484.0 258.0,487.0" fill="none" stroke="#b4b4f0" stroke-width="1.7600000000000002" stroke-linecap="round" stroke-linejoin="round"/>
<path d="M253.7,487.1 251.1,489.7" fill="none" stroke="#4e4e4e" stroke-width="4.4" stroke-linecap="round" stroke-linejoin="round"/>
<path d="M253.7,487.1 251.1,489.7" fill="none" stroke="#767676" stroke-width="1.7600000000000002" stroke-linecap="round" stroke-linejoin="round"/>
<path d="M251.1,489.7 248.6,492.3" fill="none" stroke="#8484d0" stroke-width="4.4" stroke-linecap="round" stroke-linejoin="round"/>
<path d="M251.1,489.7 248.6,492.3" fill="none" stroke="#b4b4f0" stroke-width="1.7600000000000002" stroke-linecap="round" stroke-linejoin="round"/>
<path d="M248.6,492.3 244.8,496.1" fill="none" stroke="#8484d0" stroke-width="4.4" stroke-linecap="round" stroke-linejoin="round"/>
<path d="M248.6,492.3 244.8,496.1" fill="none" stroke="#b4b4f0" stroke-width="1.7600000000000002" stroke-linecap="round" stroke-linejoin="round"/>
<path d="M244.8,496.1 240.9,500.0" fill="none" stroke="#4e4e4e" stroke-width="4.4" stroke-linecap="round" stroke-linejoin="round"/>
<path d="M244.8,496.1 240.9,500.0" fill="none" stroke="#767676" stroke-width="1.7600000000000002" stroke-linecap="round" stroke-linejoin="round"/>
<path d="M67.5,476.5 51.8,492.0" fill="none" stroke="#4e4e4e" stroke-width="4.4" stroke-linecap="round" stroke-linejoin="round"/>
<path d="M67.5,476.5 51.8,492.0" fill="none" stroke="#767676" stroke-width="1.7600000000000002" stroke-linecap="round" stroke-linejoin="round"/>
<path d="M36.0,493.8 51.8,492.2 65.9,512.0 58.0,525.0 36.0,525.0 28.0,511.0 Z" fill="none" stroke="#4e4e4e" stroke-width="4.4" stroke-linecap="round" stroke-linejoin="round"/>
<path d="M36.0,493.8 51.8,492.2 65.9,512.0 58.0,525.0 36.0,525.0 28.0,511.0 Z" fill="none" stroke="#767676" stroke-width="1.7600000000000002" stroke-linecap="round" stroke-linejoin="round"/>
<path d="M37.7,522.0 56.0,497.0" fill="none" stroke="#4e4e4e" stroke-width="4.4" stroke-linecap="round" stroke-linejoin="round"/>
<path d="M37.7,522.0 56.0,497.0" fill="none" stroke="#767676" stroke-width="1.7600000000000002" stroke-linecap="round" stroke-linejoin="round"/>
<path d="M44.0,523.0 61.0,500.0" fill="none" stroke="#4e4e4e" stroke-width="4.4" stroke-linecap="round" stroke-linejoin="round"/>
<path d="M44.0,523.0 61.0,500.0" fill="none" stroke="#767676" stroke-width="1.7600000000000002" stroke-linecap="round" stroke-linejoin="round"/>
<path d="M37.7,525.0 33.8,530.0" fill="none" stroke="#4e4e4e" stroke-width="4.4" stroke-linecap="round" stroke-linejoin="round"/>
<path d="M37.7,525.0 33.8,530.0" fill="none" stroke="#767676" stroke-width="1.7600000000000002" stroke-linecap="round" stroke-linejoin="round"/>
<path d="M33.8,530.0 29.8,535.0" fill="none" stroke="#8484d0" stroke-width="4.4" stroke-linecap="round" stroke-linejoin="round"/>
<path d="M33.8,530.0 29.8,535.0" fill="none" stroke="#b4b4f0" stroke-width="1.7600000000000002" stroke-linecap="round" stroke-linejoin="round"/>
<path d="M29.8,535.0 29.8,539.5" fill="none" stroke="#8484d0" stroke-width="4.4" stroke-linecap="round" stroke-linejoin="round"/>
<path d="M29.8,535.0 29.8,539.5" fill="none" stroke="#b4b4f0" stroke-width="1.7600000000000002" stroke-linecap="round" stroke-linejoin="round"/>
<path d="M29.8,539.5 29.8,544.0" fill="none" stroke="#ecc428" stroke-width="4.4" stroke-linecap="round" stroke-linejoin="round"/>
<path d="M29.8,539.5 29.8,544.0" fill="none" stroke="#fae678" stroke-width="1.7600000000000002" stroke-linecap="round" stroke-linejoin="round"/>
<path d="M29.8,544.0 18.1,542.4" fill="none" stroke="#ecc428" stroke-width="5" stroke-linecap="round" stroke-linejoin="round"/>
<path d="M29.8,544.0 18.1,542.4" fill="none" stroke="#fae678" stroke-width="2.0" stroke-linecap="round" stroke-linejoin="round"/>
<path d="M18.1,542.4 6.3,540.8" fill="none" stroke="#b00000" stroke-width="5" stroke-linecap="round" stroke-linejoin="round"/>
<path d="M18.1,542.4 6.3,540.8" fill="none" stroke="#f03030" stroke-width="2.0" stroke-linecap="round" stroke-linejoin="round"/>
<path d="M29.8,544.0 35.3,549.5" fill="none" stroke="#ecc428" stroke-width="5" stroke-linecap="round" stroke-linejoin="round"/>
<path d="M29.8,544.0 35.3,549.5" fill="none" stroke="#fae678" stroke-width="2.0" stroke-linecap="round" stroke-linejoin="round"/>
<path d="M35.3,549.5 40.8,555.0" fill="none" stroke="#b00000" stroke-width="5" stroke-linecap="round" stroke-linejoin="round"/>
<path d="M35.3,549.5 40.8,555.0" fill="none" stroke="#f03030" stroke-width="2.0" stroke-linecap="round" stroke-linejoin="round"/>
<path d="M29.8,544.0 29.8,551.0" fill="none" stroke="#ecc428" stroke-width="5" stroke-linecap="round" stroke-linejoin="round"/>
<path d="M29.8,544.0 29.8,551.0" fill="none" stroke="#fae678" stroke-width="2.0" stroke-linecap="round" stroke-linejoin="round"/>
<path d="M29.8,551.0 29.8,558.0" fill="none" stroke="#b00000" stroke-width="5" stroke-linecap="round" stroke-linejoin="round"/>
<path d="M29.8,551.0 29.8,558.0" fill="none" stroke="#f03030" stroke-width="2.0" stroke-linecap="round" stroke-linejoin="round"/>
<path d="M15.7,555.0 18.8,566.0" fill="none" stroke="#4e4e4e" stroke-width="4.4" stroke-linecap="round" stroke-linejoin="round"/>
<path d="M15.7,555.0 18.8,566.0" fill="none" stroke="#767676" stroke-width="1.7600000000000002" stroke-linecap="round" stroke-linejoin="round"/>
<path d="M29.8,544.0 24.3,555.0" fill="none" stroke="#ecc428" stroke-width="4.4" stroke-linecap="round" stroke-linejoin="round"/>
<path d="M29.8,544.0 24.3,555.0" fill="none" stroke="#fae678" stroke-width="1.7600000000000002" stroke-linecap="round" stroke-linejoin="round"/>
<path d="M24.3,555.0 18.8,566.0" fill="none" stroke="#8484d0" stroke-width="4.4" stroke-linecap="round" stroke-linejoin="round"/>
<path d="M24.3,555.0 18.8,566.0" fill="none" stroke="#b4b4f0" stroke-width="1.7600000000000002" stroke-linecap="round" stroke-linejoin="round"/>
<path d="M18.8,566.0 6.3,578.5 17.3,583.0 6.3,605.0" fill="none" stroke="#4e4e4e" stroke-width="4.4" stroke-linecap="round" stroke-linejoin="round"/>
<path d="M18.8,566.0 6.3,578.5 17.3,583.0 6.3,605.0" fill="none" stroke="#767676" stroke-width="1.7600000000000002" stroke-linecap="round" stroke-linejoin="round"/>
<path d="M18.8,566.0 18.8,580.0" fill="none" stroke="#8484d0" stroke-width="4.4" stroke-linecap="round" stroke-linejoin="round"/>
<path d="M18.8,566.0 18.8,580.0" fill="none" stroke="#b4b4f0" stroke-width="1.7600000000000002" stroke-linecap="round" stroke-linejoin="round"/>
<circle cx="106.8" cy="512.2" r="2.8" fill="#d40a10"/>
<text x="90.5" y="501.5" font-family="Liberation Sans" font-size="16" font-weight="bold" fill="#0fa64a" stroke="#0fa64a" stroke-width="0.4">H<tspan font-size="10.6" dy="4.0">2</tspan><tspan dy="-4.0">O</tspan></text>
<text x="112" y="608.4" font-family="Liberation Sans" font-size="16" font-weight="bold" fill="#111" stroke="#111" stroke-width="0.5">IOC</text>
<path d="M282,508.6 L397,508.6 L397,505 L420,511.7 L397,518.4 L397,514.8 L282,514.8 Z" fill="url(#arr)"/>
<text x="346" y="501.8" font-family="Liberation Serif" font-size="17" font-weight="bold" fill="#111" stroke="#111" stroke-width="0.4">UV</text>
<path d="M609.7,422.4 601.2,422.6" fill="none" stroke="#ecc428" stroke-width="5" stroke-linecap="round" stroke-linejoin="round"/>
<path d="M609.7,422.4 601.2,422.6" fill="none" stroke="#fae678" stroke-width="2.0" stroke-linecap="round" stroke-linejoin="round"/>
<path d="M601.2,422.6 592.6,422.9" fill="none" stroke="#b00000" stroke-width="5" stroke-linecap="round" stroke-linejoin="round"/>
<path d="M601.2,422.6 592.6,422.9" fill="none" stroke="#f03030" stroke-width="2.0" stroke-linecap="round" stroke-linejoin="round"/>
<path d="M609.7,422.4 614.9,418.4" fill="none" stroke="#ecc428" stroke-width="5" stroke-linecap="round" stroke-linejoin="round"/>
<path d="M609.7,422.4 614.9,418.4" fill="none" stroke="#fae678" stroke-width="2.0" stroke-linecap="round" stroke-linejoin="round"/>
<path d="M614.9,418.4 620.0,414.4" fill="none" stroke="#b00000" stroke-width="5" stroke-linecap="round" stroke-linejoin="round"/>
<path d="M614.9,418.4 620.0,414.4" fill="none" stroke="#f03030" stroke-width="2.0" stroke-linecap="round" stroke-linejoin="round"/>
<path d="M609.7,422.4 610.3,420.7" fill="none" stroke="#ecc428" stroke-width="5" stroke-linecap="round" stroke-linejoin="round"/>
<path d="M609.7,422.4 610.3,420.7" fill="none" stroke="#fae678" stroke-width="2.0" stroke-linecap="round" stroke-linejoin="round"/>
<path d="M610.3,420.7 610.9,419.0" fill="none" stroke="#b00000" stroke-width="5" stroke-linecap="round" stroke-linejoin="round"/>
<path d="M610.3,420.7 610.9,419.0" fill="none" stroke="#f03030" stroke-width="2.0" stroke-linecap="round" stroke-linejoin="round"/>
<path d="M609.7,422.4 611.4,429.2" fill="none" stroke="#ecc428" stroke-width="4.4" stroke-linecap="round" stroke-linejoin="round"/>
<path d="M609.7,422.4 611.4,429.2" fill="none" stroke="#fae678" stroke-width="1.7600000000000002" stroke-linecap="round" stroke-linejoin="round"/>
<path d="M611.4,429.2 613.0,436.0" fill="none" stroke="#4e4e4e" stroke-width="4.4" stroke-linecap="round" stroke-linejoin="round"/>
<path d="M611.4,429.2 613.0,436.0" fill="none" stroke="#767676" stroke-width="1.7600000000000002" stroke-linecap="round" stroke-linejoin="round"/>
<path d="M613.0,436.0 613.0,441.9" fill="none" stroke="#4e4e4e" stroke-width="4.4" stroke-linecap="round" stroke-linejoin="round"/>
<path d="M613.0,436.0 613.0,441.9" fill="none" stroke="#767676" stroke-width="1.7600000000000002" stroke-linecap="round" stroke-linejoin="round"/>
<path d="M613.0,441.9 631.4,446.4 634.9,461.3 622.3,473.9 605.1,469.3 601.7,453.3 Z" fill="none" stroke="#4e4e4e" stroke-width="4.4" stroke-linecap="round" stroke-linejoin="round"/>
<path d="M613.0,441.9 631.4,446.4 634.9,461.3 622.3,473.9 605.1,469.3 601.7,453.3 Z" fill="none" stroke="#767676" stroke-width="1.7600000000000002" stroke-linecap="round" stroke-linejoin="round"/>
<path d="M622.3,473.9 626.9,487.6" fill="none" stroke="#4e4e4e" stroke-width="4.4" stroke-linecap="round" stroke-linejoin="round"/>
<path d="M622.3,473.9 626.9,487.6" fill="none" stroke="#767676" stroke-width="1.7600000000000002" stroke-linecap="round" stroke-linejoin="round"/>
<path d="M626.0,486.0 640.5,492.0 646.6,509.0 634.4,518.9 621.0,516.4 616.2,499.4 Z" fill="none" stroke="#4e4e4e" stroke-width="4.4" stroke-linecap="round" stroke-linejoin="round"/>
<path d="M626.0,486.0 640.5,492.0 646.6,509.0 634.4,518.9 621.0,516.4 616.2,499.4 Z" fill="none" stroke="#767676" stroke-width="1.7600000000000002" stroke-linecap="round" stroke-linejoin="round"/>
<path d="M621.0,516.4 623.5,522.5 623.5,535.9 608.0,544.4 602.0,540.7" fill="none" stroke="#4e4e4e" stroke-width="4.4" stroke-linecap="round" stroke-linejoin="round"/>
<path d="M621.0,516.4 623.5,522.5 623.5,535.9 608.0,544.4 602.0,540.7" fill="none" stroke="#767676" stroke-width="1.7600000000000002" stroke-linecap="round" stroke-linejoin="round"/>
<path d="M634.4,518.9 635.6,524.0" fill="none" stroke="#4e4e4e" stroke-width="4.4" stroke-linecap="round" stroke-linejoin="round"/>
<path d="M634.4,518.9 635.6,524.0" fill="none" stroke="#767676" stroke-width="1.7600000000000002" stroke-linecap="round" stroke-linejoin="round"/>
<path d="M635.6,524.0 636.8,529.0" fill="none" stroke="#ecc428" stroke-width="4.4" stroke-linecap="round" stroke-linejoin="round"/>
<path d="M635.6,524.0 636.8,529.0" fill="none" stroke="#fae678" stroke-width="1.7600000000000002" stroke-linecap="round" stroke-linejoin="round"/>
<path d="M632,528 L642,528 L643,540 L632,541 Z" fill="#f0c830" stroke="#d8a820" stroke-width="1"/>
<path d="M637.0,537.0 632.5,541.0" fill="none" stroke="#ecc428" stroke-width="4.2" stroke-linecap="round" stroke-linejoin="round"/>
<path d="M637.0,537.0 632.5,541.0" fill="none" stroke="#fae678" stroke-width="1.6800000000000002" stroke-linecap="round" stroke-linejoin="round"/>
<path d="M632.5,541.0 628.0,545.0" fill="none" stroke="#b00000" stroke-width="4.2" stroke-linecap="round" stroke-linejoin="round"/>
<path d="M632.5,541.0 628.0,545.0" fill="none" stroke="#f03030" stroke-width="1.6800000000000002" stroke-linecap="round" stroke-linejoin="round"/>
<path d="M637.0,537.0 646.0,538.0" fill="none" stroke="#ecc428" stroke-width="4.2" stroke-linecap="round" stroke-linejoin="round"/>
<path d="M637.0,537.0 646.0,538.0" fill="none" stroke="#fae678" stroke-width="1.6800000000000002" stroke-linecap="round" stroke-linejoin="round"/>
<path d="M646.0,538.0 655.0,539.0" fill="none" stroke="#b00000" stroke-width="4.2" stroke-linecap="round" stroke-linejoin="round"/>
<path d="M646.0,538.0 655.0,539.0" fill="none" stroke="#f03030" stroke-width="1.6800000000000002" stroke-linecap="round" stroke-linejoin="round"/>
<path d="M637.0,537.0 634.5,541.8" fill="none" stroke="#ecc428" stroke-width="4.2" stroke-linecap="round" stroke-linejoin="round"/>
<path d="M637.0,537.0 634.5,541.8" fill="none" stroke="#fae678" stroke-width="1.6800000000000002" stroke-linecap="round" stroke-linejoin="round"/>
<path d="M634.5,541.8 632.0,546.5" fill="none" stroke="#b00000" stroke-width="4.2" stroke-linecap="round" stroke-linejoin="round"/>
<path d="M634.5,541.8 632.0,546.5" fill="none" stroke="#f03030" stroke-width="1.6800000000000002" stroke-linecap="round" stroke-linejoin="round"/>
<path d="M637.0,537.0 643.5,540.0" fill="none" stroke="#ecc428" stroke-width="4.2" stroke-linecap="round" stroke-linejoin="round"/>
<path d="M637.0,537.0 643.5,540.0" fill="none" stroke="#fae678" stroke-width="1.6800000000000002" stroke-linecap="round" stroke-linejoin="round"/>
<path d="M643.5,540.0 650.0,543.0" fill="none" stroke="#b00000" stroke-width="4.2" stroke-linecap="round" stroke-linejoin="round"/>
<path d="M643.5,540.0 650.0,543.0" fill="none" stroke="#f03030" stroke-width="1.6800000000000002" stroke-linecap="round" stroke-linejoin="round"/>
<path d="M626,541 L652,537 L656,541 L630,548 Z" fill="#d80a0a"/>
<path d="M528.0,500.0 570.0,523.7" fill="none" stroke="#4e4e4e" stroke-width="4.4" stroke-linecap="round" stroke-linejoin="round"/>
<path d="M528.0,500.0 570.0,523.7" fill="none" stroke="#767676" stroke-width="1.7600000000000002" stroke-linecap="round" stroke-linejoin="round"/>
<path d="M533.0,505.0 568.0,527.5" fill="none" stroke="#4e4e4e" stroke-width="4.4" stroke-linecap="round" stroke-linejoin="round"/>
<path d="M533.0,505.0 568.0,527.5" fill="none" stroke="#767676" stroke-width="1.7600000000000002" stroke-linecap="round" stroke-linejoin="round"/>
<path d="M568.9,523.7 570.0,524.9" fill="none" stroke="#4e4e4e" stroke-width="4.4" stroke-linecap="round" stroke-linejoin="round"/>
<path d="M568.9,523.7 570.0,524.9" fill="none" stroke="#767676" stroke-width="1.7600000000000002" stroke-linecap="round" stroke-linejoin="round"/>
<path d="M570.0,524.9 571.2,526.0" fill="none" stroke="#8484d0" stroke-width="4.4" stroke-linecap="round" stroke-linejoin="round"/>
<path d="M570.0,524.9 571.2,526.0" fill="none" stroke="#b4b4f0" stroke-width="1.7600000000000002" stroke-linecap="round" stroke-linejoin="round"/>
<path d="M571.2,526.0 584.4,528.2 597.6,538.5 594.0,543.7 580.7,536.3 Z" fill="none" stroke="#4e4e4e" stroke-width="4.4" stroke-linecap="round" stroke-linejoin="round"/>
<path d="M571.2,526.0 584.4,528.2 597.6,538.5 594.0,543.7 580.7,536.3 Z" fill="none" stroke="#767676" stroke-width="1.7600000000000002" stroke-linecap="round" stroke-linejoin="round"/>
<path d="M578.0,531.0 593.0,540.0" fill="none" stroke="#4e4e4e" stroke-width="4.4" stroke-linecap="round" stroke-linejoin="round"/>
<path d="M578.0,531.0 593.0,540.0" fill="none" stroke="#767676" stroke-width="1.7600000000000002" stroke-linecap="round" stroke-linejoin="round"/>
<path d="M571.2,526.0 575.0,528.0" fill="none" stroke="#8484d0" stroke-width="4.4" stroke-linecap="round" stroke-linejoin="round"/>
<path d="M571.2,526.0 575.0,528.0" fill="none" stroke="#b4b4f0" stroke-width="1.7600000000000002" stroke-linecap="round" stroke-linejoin="round"/>
<path d="M594.0,537.0 599.0,540.0" fill="none" stroke="#8484d0" stroke-width="4.4" stroke-linecap="round" stroke-linejoin="round"/>
<path d="M594.0,537.0 599.0,540.0" fill="none" stroke="#b4b4f0" stroke-width="1.7600000000000002" stroke-linecap="round" stroke-linejoin="round"/>
<path d="M515.0,479.2 528.2,470.0 543.9,478.0 545.2,491.0 532.0,500.2 516.4,495.0 Z" fill="none" stroke="#4e4e4e" stroke-width="4.4" stroke-linecap="round" stroke-linejoin="round"/>
<path d="M515.0,479.2 528.2,470.0 543.9,478.0 545.2,491.0 532.0,500.2 516.4,495.0 Z" fill="none" stroke="#767676" stroke-width="1.7600000000000002" stroke-linecap="round" stroke-linejoin="round"/>
<path d="M543.9,478.0 550.5,472.1" fill="none" stroke="#4e4e4e" stroke-width="4.4" stroke-linecap="round" stroke-linejoin="round"/>
<path d="M543.9,478.0 550.5,472.1" fill="none" stroke="#767676" stroke-width="1.7600000000000002" stroke-linecap="round" stroke-linejoin="round"/>
<path d="M550.5,472.1 557.0,466.2" fill="none" stroke="#ecc428" stroke-width="4.4" stroke-linecap="round" stroke-linejoin="round"/>
<path d="M550.5,472.1 557.0,466.2" fill="none" stroke="#fae678" stroke-width="1.7600000000000002" stroke-linecap="round" stroke-linejoin="round"/>
<path d="M557.0,466.2 555.7,458.4" fill="none" stroke="#ecc428" stroke-width="5" stroke-linecap="round" stroke-linejoin="round"/>
<path d="M557.0,466.2 555.7,458.4" fill="none" stroke="#fae678" stroke-width="2.0" stroke-linecap="round" stroke-linejoin="round"/>
<path d="M555.7,458.4 554.4,450.5" fill="none" stroke="#b00000" stroke-width="5" stroke-linecap="round" stroke-linejoin="round"/>
<path d="M555.7,458.4 554.4,450.5" fill="none" stroke="#f03030" stroke-width="2.0" stroke-linecap="round" stroke-linejoin="round"/>
<path d="M557.0,466.2 564.2,468.1" fill="none" stroke="#ecc428" stroke-width="5" stroke-linecap="round" stroke-linejoin="round"/>
<path d="M557.0,466.2 564.2,468.1" fill="none" stroke="#fae678" stroke-width="2.0" stroke-linecap="round" stroke-linejoin="round"/>
<path d="M564.2,468.1 571.4,470.0" fill="none" stroke="#b00000" stroke-width="5" stroke-linecap="round" stroke-linejoin="round"/>
<path d="M564.2,468.1 571.4,470.0" fill="none" stroke="#f03030" stroke-width="2.0" stroke-linecap="round" stroke-linejoin="round"/>
<path d="M557.0,466.2 560.2,468.1" fill="none" stroke="#ecc428" stroke-width="5" stroke-linecap="round" stroke-linejoin="round"/>
<path d="M557.0,466.2 560.2,468.1" fill="none" stroke="#fae678" stroke-width="2.0" stroke-linecap="round" stroke-linejoin="round"/>
<path d="M560.2,468.1 563.5,470.0" fill="none" stroke="#b00000" stroke-width="5" stroke-linecap="round" stroke-linejoin="round"/>
<path d="M560.2,468.1 563.5,470.0" fill="none" stroke="#f03030" stroke-width="2.0" stroke-linecap="round" stroke-linejoin="round"/>
<path d="M506.0,504.0 516.4,495.0" fill="none" stroke="#4e4e4e" stroke-width="4.4" stroke-linecap="round" stroke-linejoin="round"/>
<path d="M506.0,504.0 516.4,495.0" fill="none" stroke="#767676" stroke-width="1.7600000000000002" stroke-linecap="round" stroke-linejoin="round"/>
<path d="M478.5,504.0 490.3,497.6 506.0,504.0 507.3,523.7 494.2,530.3 477.2,523.7 Z" fill="none" stroke="#4e4e4e" stroke-width="4.4" stroke-linecap="round" stroke-linejoin="round"/>
<path d="M478.5,504.0 490.3,497.6 506.0,504.0 507.3,523.7 494.2,530.3 477.2,523.7 Z" fill="none" stroke="#767676" stroke-width="1.7600000000000002" stroke-linecap="round" stroke-linejoin="round"/>
<path d="M481.0,526.0 502.0,506.0" fill="none" stroke="#4e4e4e" stroke-width="4.4" stroke-linecap="round" stroke-linejoin="round"/>
<path d="M481.0,526.0 502.0,506.0" fill="none" stroke="#767676" stroke-width="1.7600000000000002" stroke-linecap="round" stroke-linejoin="round"/>
<path d="M486.0,528.0 505.0,511.0" fill="none" stroke="#4e4e4e" stroke-width="4.4" stroke-linecap="round" stroke-linejoin="round"/>
<path d="M486.0,528.0 505.0,511.0" fill="none" stroke="#767676" stroke-width="1.7600000000000002" stroke-linecap="round" stroke-linejoin="round"/>
<path d="M477.2,523.7 471.3,528.3" fill="none" stroke="#4e4e4e" stroke-width="4.4" stroke-linecap="round" stroke-linejoin="round"/>
<path d="M477.2,523.7 471.3,528.3" fill="none" stroke="#767676" stroke-width="1.7600000000000002" stroke-linecap="round" stroke-linejoin="round"/>
<path d="M471.3,528.3 465.4,532.9" fill="none" stroke="#ecc428" stroke-width="4.4" stroke-linecap="round" stroke-linejoin="round"/>
<path d="M471.3,528.3 465.4,532.9" fill="none" stroke="#fae678" stroke-width="1.7600000000000002" stroke-linecap="round" stroke-linejoin="round"/>
<path d="M465.4,532.9 458.2,529.0" fill="none" stroke="#ecc428" stroke-width="5" stroke-linecap="round" stroke-linejoin="round"/>
<path d="M465.4,532.9 458.2,529.0" fill="none" stroke="#fae678" stroke-width="2.0" stroke-linecap="round" stroke-linejoin="round"/>
<path d="M458.2,529.0 451.0,525.0" fill="none" stroke="#b00000" stroke-width="5" stroke-linecap="round" stroke-linejoin="round"/>
<path d="M458.2,529.0 451.0,525.0" fill="none" stroke="#f03030" stroke-width="2.0" stroke-linecap="round" stroke-linejoin="round"/>
<path d="M465.4,532.9 469.4,540.1" fill="none" stroke="#ecc428" stroke-width="5" stroke-linecap="round" stroke-linejoin="round"/>
<path d="M465.4,532.9 469.4,540.1" fill="none" stroke="#fae678" stroke-width="2.0" stroke-linecap="round" stroke-linejoin="round"/>
<path d="M469.4,540.1 473.3,547.3" fill="none" stroke="#b00000" stroke-width="5" stroke-linecap="round" stroke-linejoin="round"/>
<path d="M469.4,540.1 473.3,547.3" fill="none" stroke="#f03030" stroke-width="2.0" stroke-linecap="round" stroke-linejoin="round"/>
<path d="M465.4,532.9 463.4,536.8" fill="none" stroke="#ecc428" stroke-width="5" stroke-linecap="round" stroke-linejoin="round"/>
<path d="M465.4,532.9 463.4,536.8" fill="none" stroke="#fae678" stroke-width="2.0" stroke-linecap="round" stroke-linejoin="round"/>
<path d="M463.4,536.8 461.5,540.7" fill="none" stroke="#b00000" stroke-width="5" stroke-linecap="round" stroke-linejoin="round"/>
<path d="M463.4,536.8 461.5,540.7" fill="none" stroke="#f03030" stroke-width="2.0" stroke-linecap="round" stroke-linejoin="round"/>
<path d="M465.4,532.9 458.9,541.4" fill="none" stroke="#ecc428" stroke-width="4.4" stroke-linecap="round" stroke-linejoin="round"/>
<path d="M465.4,532.9 458.9,541.4" fill="none" stroke="#fae678" stroke-width="1.7600000000000002" stroke-linecap="round" stroke-linejoin="round"/>
<path d="M458.9,541.4 452.3,549.9" fill="none" stroke="#8484d0" stroke-width="4.4" stroke-linecap="round" stroke-linejoin="round"/>
<path d="M458.9,541.4 452.3,549.9" fill="none" stroke="#b4b4f0" stroke-width="1.7600000000000002" stroke-linecap="round" stroke-linejoin="round"/>
<path d="M452.3,549.9 449.1,556.5" fill="none" stroke="#8484d0" stroke-width="4.4" stroke-linecap="round" stroke-linejoin="round"/>
<path d="M452.3,549.9 449.1,556.5" fill="none" stroke="#b4b4f0" stroke-width="1.7600000000000002" stroke-linecap="round" stroke-linejoin="round"/>
<path d="M449.1,556.5 445.8,563.0" fill="none" stroke="#4e4e4e" stroke-width="4.4" stroke-linecap="round" stroke-linejoin="round"/>
<path d="M449.1,556.5 445.8,563.0" fill="none" stroke="#767676" stroke-width="1.7600000000000002" stroke-linecap="round" stroke-linejoin="round"/>
<path d="M445.8,563.0 434.0,559.0 431.4,572.1 411.8,566.9" fill="none" stroke="#4e4e4e" stroke-width="4.4" stroke-linecap="round" stroke-linejoin="round"/>
<path d="M445.8,563.0 434.0,559.0 431.4,572.1 411.8,566.9" fill="none" stroke="#767676" stroke-width="1.7600000000000002" stroke-linecap="round" stroke-linejoin="round"/>
<path d="M434.0,559.0 441.9,565.6 431.4,572.1" fill="none" stroke="#4e4e4e" stroke-width="4.4" stroke-linecap="round" stroke-linejoin="round"/>
<path d="M434.0,559.0 441.9,565.6 431.4,572.1" fill="none" stroke="#767676" stroke-width="1.7600000000000002" stroke-linecap="round" stroke-linejoin="round"/>
<path d="M491.0,572.8 506.0,551.0 509.0,569.0 491.0,572.8" fill="none" stroke="#4e4e4e" stroke-width="4.4" stroke-linecap="round" stroke-linejoin="round"/>
<path d="M491.0,572.8 506.0,551.0 509.0,569.0 491.0,572.8" fill="none" stroke="#767676" stroke-width="1.7600000000000002" stroke-linecap="round" stroke-linejoin="round"/>
<path d="M506.0,551.0 521.0,541.5" fill="none" stroke="#4e4e4e" stroke-width="4.4" stroke-linecap="round" stroke-linejoin="round"/>
<path d="M506.0,551.0 521.0,541.5" fill="none" stroke="#767676" stroke-width="1.7600000000000002" stroke-linecap="round" stroke-linejoin="round"/>
<path d="M521.0,541.5 528.8,545.8" fill="none" stroke="#4e4e4e" stroke-width="4.4" stroke-linecap="round" stroke-linejoin="round"/>
<path d="M521.0,541.5 528.8,545.8" fill="none" stroke="#767676" stroke-width="1.7600000000000002" stroke-linecap="round" stroke-linejoin="round"/>
<path d="M528.8,545.8 536.5,550.0" fill="none" stroke="#8484d0" stroke-width="4.4" stroke-linecap="round" stroke-linejoin="round"/>
<path d="M528.8,545.8 536.5,550.0" fill="none" stroke="#b4b4f0" stroke-width="1.7600000000000002" stroke-linecap="round" stroke-linejoin="round"/>
<path d="M536.5,550.0 545.1,554.9" fill="none" stroke="#8484d0" stroke-width="4.4" stroke-linecap="round" stroke-linejoin="round"/>
<path d="M536.5,550.0 545.1,554.9" fill="none" stroke="#b4b4f0" stroke-width="1.7600000000000002" stroke-linecap="round" stroke-linejoin="round"/>
<path d="M545.1,554.9 553.7,559.8" fill="none" stroke="#4e4e4e" stroke-width="4.4" stroke-linecap="round" stroke-linejoin="round"/>
<path d="M545.1,554.9 553.7,559.8" fill="none" stroke="#767676" stroke-width="1.7600000000000002" stroke-linecap="round" stroke-linejoin="round"/>
<path d="M540.0,555.0 553.0,562.0" fill="none" stroke="#4e4e4e" stroke-width="4.4" stroke-linecap="round" stroke-linejoin="round"/>
<path d="M540.0,555.0 553.0,562.0" fill="none" stroke="#767676" stroke-width="1.7600000000000002" stroke-linecap="round" stroke-linejoin="round"/>
<path d="M553.7,559.8 555.4,563.3" fill="none" stroke="#4e4e4e" stroke-width="4.4" stroke-linecap="round" stroke-linejoin="round"/>
<path d="M553.7,559.8 555.4,563.3" fill="none" stroke="#767676" stroke-width="1.7600000000000002" stroke-linecap="round" stroke-linejoin="round"/>
<path d="M555.4,563.3 557.0,566.9" fill="none" stroke="#8484d0" stroke-width="4.4" stroke-linecap="round" stroke-linejoin="round"/>
<path d="M555.4,563.3 557.0,566.9" fill="none" stroke="#b4b4f0" stroke-width="1.7600000000000002" stroke-linecap="round" stroke-linejoin="round"/>
<path d="M557.0,566.9 561.0,569.1" fill="none" stroke="#8484d0" stroke-width="4.4" stroke-linecap="round" stroke-linejoin="round"/>
<path d="M557.0,566.9 561.0,569.1" fill="none" stroke="#b4b4f0" stroke-width="1.7600000000000002" stroke-linecap="round" stroke-linejoin="round"/>
<path d="M561.0,569.1 565.0,571.4" fill="none" stroke="#4e4e4e" stroke-width="4.4" stroke-linecap="round" stroke-linejoin="round"/>
<path d="M561.0,569.1 565.0,571.4" fill="none" stroke="#767676" stroke-width="1.7600000000000002" stroke-linecap="round" stroke-linejoin="round"/>
<path d="M540.0,553.0 557.0,566.9" fill="none" stroke="#4e4e4e" stroke-width="4.4" stroke-linecap="round" stroke-linejoin="round"/>
<path d="M540.0,553.0 557.0,566.9" fill="none" stroke="#767676" stroke-width="1.7600000000000002" stroke-linecap="round" stroke-linejoin="round"/>
<path d="M562.6,570.7 572.8,565.2 585.4,575.4 587.0,586.4 576.0,595.0 564.2,586.4 Z" fill="none" stroke="#4e4e4e" stroke-width="4.4" stroke-linecap="round" stroke-linejoin="round"/>
<path d="M562.6,570.7 572.8,565.2 585.4,575.4 587.0,586.4 576.0,595.0 564.2,586.4 Z" fill="none" stroke="#767676" stroke-width="1.7600000000000002" stroke-linecap="round" stroke-linejoin="round"/>
<path d="M566.0,580.0 585.0,577.0" fill="none" stroke="#4e4e4e" stroke-width="4.4" stroke-linecap="round" stroke-linejoin="round"/>
<path d="M566.0,580.0 585.0,577.0" fill="none" stroke="#767676" stroke-width="1.7600000000000002" stroke-linecap="round" stroke-linejoin="round"/>
<path d="M568.0,589.0 584.0,571.0" fill="none" stroke="#4e4e4e" stroke-width="4.4" stroke-linecap="round" stroke-linejoin="round"/>
<path d="M568.0,589.0 584.0,571.0" fill="none" stroke="#767676" stroke-width="1.7600000000000002" stroke-linecap="round" stroke-linejoin="round"/>
<path d="M572.8,565.2 576.0,595.0" fill="none" stroke="#4e4e4e" stroke-width="3.2" stroke-linecap="round" stroke-linejoin="round"/>
<path d="M572.8,565.2 576.0,595.0" fill="none" stroke="#767676" stroke-width="1.2800000000000002" stroke-linecap="round" stroke-linejoin="round"/>
<path d="M585.4,575.4 593.0,584.0 587.7,590.4" fill="none" stroke="#4e4e4e" stroke-width="4.4" stroke-linecap="round" stroke-linejoin="round"/>
<path d="M585.4,575.4 593.0,584.0 587.7,590.4" fill="none" stroke="#767676" stroke-width="1.7600000000000002" stroke-linecap="round" stroke-linejoin="round"/>
<path d="M587.7,590.4 601.9,600.6 619.2,595.1" fill="none" stroke="#4e4e4e" stroke-width="4.4" stroke-linecap="round" stroke-linejoin="round"/>
<path d="M587.7,590.4 601.9,600.6 619.2,595.1" fill="none" stroke="#767676" stroke-width="1.7600000000000002" stroke-linecap="round" stroke-linejoin="round"/>
<path d="M616.0,580.2 631.8,570.0 642.8,575.4 644.3,588.0 631.8,598.2 619.2,594.3 Z" fill="none" stroke="#4e4e4e" stroke-width="4.4" stroke-linecap="round" stroke-linejoin="round"/>
<path d="M616.0,580.2 631.8,570.0 642.8,575.4 644.3,588.0 631.8,598.2 619.2,594.3 Z" fill="none" stroke="#767676" stroke-width="1.7600000000000002" stroke-linecap="round" stroke-linejoin="round"/>
<path d="M620.0,581.0 640.0,578.0" fill="none" stroke="#4e4e4e" stroke-width="4.4" stroke-linecap="round" stroke-linejoin="round"/>
<path d="M620.0,581.0 640.0,578.0" fill="none" stroke="#767676" stroke-width="1.7600000000000002" stroke-linecap="round" stroke-linejoin="round"/>
<path d="M621.0,586.0 641.0,583.0" fill="none" stroke="#4e4e4e" stroke-width="4.4" stroke-linecap="round" stroke-linejoin="round"/>
<path d="M621.0,586.0 641.0,583.0" fill="none" stroke="#767676" stroke-width="1.7600000000000002" stroke-linecap="round" stroke-linejoin="round"/>
<path d="M619.2,594.3 642.8,575.4" fill="none" stroke="#4e4e4e" stroke-width="4.4" stroke-linecap="round" stroke-linejoin="round"/>
<path d="M619.2,594.3 642.8,575.4" fill="none" stroke="#767676" stroke-width="1.7600000000000002" stroke-linecap="round" stroke-linejoin="round"/>
<path d="M616.0,580.2 631.8,598.2" fill="none" stroke="#4e4e4e" stroke-width="3.2" stroke-linecap="round" stroke-linejoin="round"/>
<path d="M616.0,580.2 631.8,598.2" fill="none" stroke="#767676" stroke-width="1.2800000000000002" stroke-linecap="round" stroke-linejoin="round"/>
<path d="M642.8,575.4 648.2,570.1" fill="none" stroke="#4e4e4e" stroke-width="4.4" stroke-linecap="round" stroke-linejoin="round"/>
<path d="M642.8,575.4 648.2,570.1" fill="none" stroke="#767676" stroke-width="1.7600000000000002" stroke-linecap="round" stroke-linejoin="round"/>
<path d="M648.2,570.1 653.7,564.9" fill="none" stroke="#8484d0" stroke-width="4.4" stroke-linecap="round" stroke-linejoin="round"/>
<path d="M648.2,570.1 653.7,564.9" fill="none" stroke="#b4b4f0" stroke-width="1.7600000000000002" stroke-linecap="round" stroke-linejoin="round"/>
<path d="M653.7,564.9 660.1,562.2" fill="none" stroke="#4e4e4e" stroke-width="4.4" stroke-linecap="round" stroke-linejoin="round"/>
<path d="M653.7,564.9 660.1,562.2" fill="none" stroke="#767676" stroke-width="1.7600000000000002" stroke-linecap="round" stroke-linejoin="round"/>
<path d="M657.4,553.0 667.4,543.9 676.6,549.4 674.7,558.5 660.1,562.2 Z" fill="none" stroke="#4e4e4e" stroke-width="4.4" stroke-linecap="round" stroke-linejoin="round"/>
<path d="M657.4,553.0 667.4,543.9 676.6,549.4 674.7,558.5 660.1,562.2 Z" fill="none" stroke="#767676" stroke-width="1.7600000000000002" stroke-linecap="round" stroke-linejoin="round"/>
<path d="M661.0,555.0 673.0,549.0" fill="none" stroke="#4e4e4e" stroke-width="4.4" stroke-linecap="round" stroke-linejoin="round"/>
<path d="M661.0,555.0 673.0,549.0" fill="none" stroke="#767676" stroke-width="1.7600000000000002" stroke-linecap="round" stroke-linejoin="round"/>
<path d="M663.0,560.0 675.0,554.0" fill="none" stroke="#4e4e4e" stroke-width="4.4" stroke-linecap="round" stroke-linejoin="round"/>
<path d="M663.0,560.0 675.0,554.0" fill="none" stroke="#767676" stroke-width="1.7600000000000002" stroke-linecap="round" stroke-linejoin="round"/>
<path d="M665.0,545.0 670.0,543.0" fill="none" stroke="#8484d0" stroke-width="4.4" stroke-linecap="round" stroke-linejoin="round"/>
<path d="M665.0,545.0 670.0,543.0" fill="none" stroke="#b4b4f0" stroke-width="1.7600000000000002" stroke-linecap="round" stroke-linejoin="round"/>
<path d="M674.0,548.0 678.0,551.0" fill="none" stroke="#8484d0" stroke-width="4.4" stroke-linecap="round" stroke-linejoin="round"/>
<path d="M674.0,548.0 678.0,551.0" fill="none" stroke="#b4b4f0" stroke-width="1.7600000000000002" stroke-linecap="round" stroke-linejoin="round"/>
<path d="M667.4,543.9 674.7,532.0 696.7,526.5 689.4,544.8 676.6,549.4" fill="none" stroke="#4e4e4e" stroke-width="4.4" stroke-linecap="round" stroke-linejoin="round"/>
<path d="M667.4,543.9 674.7,532.0 696.7,526.5 689.4,544.8 676.6,549.4" fill="none" stroke="#767676" stroke-width="1.7600000000000002" stroke-linecap="round" stroke-linejoin="round"/>
<path d="M674.7,532.0 689.4,544.8" fill="none" stroke="#4e4e4e" stroke-width="4.4" stroke-linecap="round" stroke-linejoin="round"/>
<path d="M674.7,532.0 689.4,544.8" fill="none" stroke="#767676" stroke-width="1.7600000000000002" stroke-linecap="round" stroke-linejoin="round"/>
<path d="M689.4,517.4 696.7,526.5" fill="none" stroke="#4e4e4e" stroke-width="4.4" stroke-linecap="round" stroke-linejoin="round"/>
<path d="M689.4,517.4 696.7,526.5" fill="none" stroke="#767676" stroke-width="1.7600000000000002" stroke-linecap="round" stroke-linejoin="round"/>
<circle cx="585.7" cy="490.3" r="2.8" fill="#d40a10"/>
<circle cx="578.9" cy="552" r="2.8" fill="#d40a10"/>
<circle cx="654.3" cy="609" r="2.8" fill="#d40a10"/>
<text x="564" y="511.3" font-family="Liberation Sans" font-size="17.5" font-weight="bold" fill="#0fa64a" stroke="#0fa64a" stroke-width="0.4">H<tspan font-size="11.6" dy="4.4">2</tspan><tspan dy="-4.4">O</tspan></text>
<text x="584.6" y="573.4" font-family="Liberation Sans" font-size="18.5" font-weight="bold" fill="#0fa64a" stroke="#0fa64a" stroke-width="0.4">H<tspan font-size="12.2" dy="4.6">2</tspan><tspan dy="-4.6">O</tspan></text>
<text x="656.5" y="600.8" font-family="Liberation Sans" font-size="17.5" font-weight="bold" fill="#0fa64a" stroke="#0fa64a" stroke-width="0.4">H<tspan font-size="11.6" dy="4.4">2</tspan><tspan dy="-4.4">O</tspan></text>
<text x="518.6" y="608.6" font-family="Liberation Sans" font-size="16" font-weight="bold" fill="#111" stroke="#111" stroke-width="0.5">IOC-A</text>
<text x="28" y="415" font-family="Liberation Sans" font-size="20" font-weight="bold" fill="#111" stroke="#111" stroke-width="0.7">e</text>
</svg></body></html>
